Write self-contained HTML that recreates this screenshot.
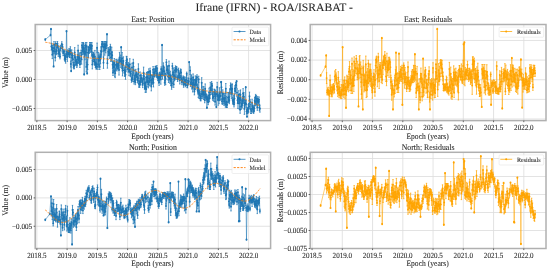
<!DOCTYPE html>
<html><head><meta charset="utf-8"><style>
html,body{margin:0;padding:0;background:#fff;width:550px;height:271px;overflow:hidden}
svg{display:block;will-change:transform}
text{font-family:"Liberation Serif", serif;fill:#262626}
svg text{-webkit-font-smoothing:antialiased;text-rendering:geometricPrecision;stroke:#262626;stroke-width:0.07px}
.tg{opacity:0.999}
.tk{font-size:7.9px}
.st{font-size:8.6px}
.xl{font-size:8.4px}
.lg{font-size:6.5px}
.sup{font-size:11.4px}
</style></head><body>
<svg width="550" height="271" viewBox="0 0 550 271">
<defs><clipPath id="cTL"><rect x="35.2" y="24.5" width="235.40" height="96.10"/></clipPath><clipPath id="cTR"><rect x="310.2" y="24.5" width="235.80" height="96.10"/></clipPath><clipPath id="cBL"><rect x="35.2" y="152.3" width="235.40" height="96.20"/></clipPath><clipPath id="cBR"><rect x="310.2" y="152.3" width="235.80" height="96.20"/></clipPath></defs>
<rect width="550" height="271" fill="#fff"/>
<text x="0" y="0" transform="translate(274.2,11.1) scale(1.022,1)" text-anchor="middle" class="sup">Ifrane (IFRN) - ROA/ISRABAT -</text>
<line x1="36.85" y1="24.5" x2="36.85" y2="120.6" stroke="#dcdcdc" stroke-width="0.8"/>
<line x1="67.10" y1="24.5" x2="67.10" y2="120.6" stroke="#dcdcdc" stroke-width="0.8"/>
<line x1="97.35" y1="24.5" x2="97.35" y2="120.6" stroke="#dcdcdc" stroke-width="0.8"/>
<line x1="127.60" y1="24.5" x2="127.60" y2="120.6" stroke="#dcdcdc" stroke-width="0.8"/>
<line x1="157.85" y1="24.5" x2="157.85" y2="120.6" stroke="#dcdcdc" stroke-width="0.8"/>
<line x1="188.10" y1="24.5" x2="188.10" y2="120.6" stroke="#dcdcdc" stroke-width="0.8"/>
<line x1="218.35" y1="24.5" x2="218.35" y2="120.6" stroke="#dcdcdc" stroke-width="0.8"/>
<line x1="248.60" y1="24.5" x2="248.60" y2="120.6" stroke="#dcdcdc" stroke-width="0.8"/>
<line x1="35.2" y1="50.50" x2="270.6" y2="50.50" stroke="#dcdcdc" stroke-width="0.8"/>
<line x1="35.2" y1="79.50" x2="270.6" y2="79.50" stroke="#dcdcdc" stroke-width="0.8"/>
<line x1="35.2" y1="108.50" x2="270.6" y2="108.50" stroke="#dcdcdc" stroke-width="0.8"/>
<line x1="312.05" y1="24.5" x2="312.05" y2="120.6" stroke="#dcdcdc" stroke-width="0.8"/>
<line x1="342.30" y1="24.5" x2="342.30" y2="120.6" stroke="#dcdcdc" stroke-width="0.8"/>
<line x1="372.55" y1="24.5" x2="372.55" y2="120.6" stroke="#dcdcdc" stroke-width="0.8"/>
<line x1="402.80" y1="24.5" x2="402.80" y2="120.6" stroke="#dcdcdc" stroke-width="0.8"/>
<line x1="433.05" y1="24.5" x2="433.05" y2="120.6" stroke="#dcdcdc" stroke-width="0.8"/>
<line x1="463.30" y1="24.5" x2="463.30" y2="120.6" stroke="#dcdcdc" stroke-width="0.8"/>
<line x1="493.55" y1="24.5" x2="493.55" y2="120.6" stroke="#dcdcdc" stroke-width="0.8"/>
<line x1="523.80" y1="24.5" x2="523.80" y2="120.6" stroke="#dcdcdc" stroke-width="0.8"/>
<line x1="310.2" y1="40.46" x2="546.0" y2="40.46" stroke="#dcdcdc" stroke-width="0.8"/>
<line x1="310.2" y1="60.09" x2="546.0" y2="60.09" stroke="#dcdcdc" stroke-width="0.8"/>
<line x1="310.2" y1="79.72" x2="546.0" y2="79.72" stroke="#dcdcdc" stroke-width="0.8"/>
<line x1="310.2" y1="99.35" x2="546.0" y2="99.35" stroke="#dcdcdc" stroke-width="0.8"/>
<line x1="310.2" y1="118.98" x2="546.0" y2="118.98" stroke="#dcdcdc" stroke-width="0.8"/>
<line x1="36.85" y1="152.3" x2="36.85" y2="248.5" stroke="#dcdcdc" stroke-width="0.8"/>
<line x1="67.10" y1="152.3" x2="67.10" y2="248.5" stroke="#dcdcdc" stroke-width="0.8"/>
<line x1="97.35" y1="152.3" x2="97.35" y2="248.5" stroke="#dcdcdc" stroke-width="0.8"/>
<line x1="127.60" y1="152.3" x2="127.60" y2="248.5" stroke="#dcdcdc" stroke-width="0.8"/>
<line x1="157.85" y1="152.3" x2="157.85" y2="248.5" stroke="#dcdcdc" stroke-width="0.8"/>
<line x1="188.10" y1="152.3" x2="188.10" y2="248.5" stroke="#dcdcdc" stroke-width="0.8"/>
<line x1="218.35" y1="152.3" x2="218.35" y2="248.5" stroke="#dcdcdc" stroke-width="0.8"/>
<line x1="248.60" y1="152.3" x2="248.60" y2="248.5" stroke="#dcdcdc" stroke-width="0.8"/>
<line x1="35.2" y1="169.55" x2="270.6" y2="169.55" stroke="#dcdcdc" stroke-width="0.8"/>
<line x1="35.2" y1="197.90" x2="270.6" y2="197.90" stroke="#dcdcdc" stroke-width="0.8"/>
<line x1="35.2" y1="226.25" x2="270.6" y2="226.25" stroke="#dcdcdc" stroke-width="0.8"/>
<line x1="312.05" y1="152.3" x2="312.05" y2="248.5" stroke="#dcdcdc" stroke-width="0.8"/>
<line x1="342.30" y1="152.3" x2="342.30" y2="248.5" stroke="#dcdcdc" stroke-width="0.8"/>
<line x1="372.55" y1="152.3" x2="372.55" y2="248.5" stroke="#dcdcdc" stroke-width="0.8"/>
<line x1="402.80" y1="152.3" x2="402.80" y2="248.5" stroke="#dcdcdc" stroke-width="0.8"/>
<line x1="433.05" y1="152.3" x2="433.05" y2="248.5" stroke="#dcdcdc" stroke-width="0.8"/>
<line x1="463.30" y1="152.3" x2="463.30" y2="248.5" stroke="#dcdcdc" stroke-width="0.8"/>
<line x1="493.55" y1="152.3" x2="493.55" y2="248.5" stroke="#dcdcdc" stroke-width="0.8"/>
<line x1="523.80" y1="152.3" x2="523.80" y2="248.5" stroke="#dcdcdc" stroke-width="0.8"/>
<line x1="310.2" y1="158.50" x2="546.0" y2="158.50" stroke="#dcdcdc" stroke-width="0.8"/>
<line x1="310.2" y1="176.50" x2="546.0" y2="176.50" stroke="#dcdcdc" stroke-width="0.8"/>
<line x1="310.2" y1="194.50" x2="546.0" y2="194.50" stroke="#dcdcdc" stroke-width="0.8"/>
<line x1="310.2" y1="212.50" x2="546.0" y2="212.50" stroke="#dcdcdc" stroke-width="0.8"/>
<line x1="310.2" y1="230.50" x2="546.0" y2="230.50" stroke="#dcdcdc" stroke-width="0.8"/>
<line x1="310.2" y1="248.50" x2="546.0" y2="248.50" stroke="#dcdcdc" stroke-width="0.8"/>
<g clip-path="url(#cTL)"><path d="M45.3 38.7V40.3M50.5 34.3V35.9M51.0 28.4V29.6M51.4 43.2V49.9M51.9 45.4V49.7M52.3 50.7V58.6M52.7 45.0V50.8M53.2 48.2V53.8M53.6 65.8V67.0M54.0 41.5V47.5M54.4 44.3V52.0M54.9 49.7V53.5M55.3 54.2V60.9M55.7 41.7V45.8M56.2 49.4V53.8M56.6 47.1V54.7M57.0 43.8V47.5M57.5 41.5V46.0M57.9 45.3V48.9M58.3 50.7V56.4M58.8 46.1V52.4M59.2 51.0V54.9M59.6 50.2V57.2M60.0 54.7V58.9M60.5 45.2V50.8M61.8 41.7V46.4M62.2 44.4V52.0M62.6 44.5V49.5M63.1 50.6V55.7M63.9 49.6V53.5M64.4 50.7V59.8M64.8 56.6V60.7M65.2 55.6V61.5M65.6 55.4V63.2M66.1 51.1V56.9M66.5 30.6V31.8M66.9 51.4V57.4M67.4 52.5V61.4M67.8 49.9V54.6M68.2 50.2V54.1M68.7 52.1V56.4M69.1 48.4V55.2M69.5 50.5V57.6M69.9 49.0V57.5M70.4 46.7V54.7M70.8 61.0V67.1M71.2 70.5V71.7M71.7 49.8V55.7M72.1 55.1V60.6M72.5 53.4V57.6M73.0 55.3V63.1M73.4 62.4V67.7M73.8 64.3V68.9M74.3 62.4V68.7M74.7 47.6V57.2M75.1 54.8V60.3M75.5 57.5V65.0M76.0 56.6V65.7M76.4 59.3V64.7M76.8 59.6V67.5M77.3 58.2V66.0M77.7 54.6V59.5M78.1 45.2V55.8M78.6 56.5V63.5M79.0 55.0V62.4M79.4 52.8V62.3M79.9 61.6V67.5M80.3 58.2V64.3M81.1 50.1V55.5M81.6 54.6V64.2M82.0 42.5V48.0M82.4 46.9V54.6M82.9 42.7V52.0M83.3 42.5V53.1M83.7 43.5V54.3M84.2 73.8V75.0M84.6 45.2V56.9M85.0 47.9V59.9M85.5 42.5V47.8M85.9 49.1V55.3M86.3 62.0V71.9M86.7 42.5V50.1M87.2 72.8V74.0M87.6 59.6V69.5M88.0 47.3V57.9M88.5 46.4V57.7M88.9 47.0V53.1M89.3 47.4V53.3M89.8 42.5V47.9M90.2 42.5V47.9M90.6 45.1V52.4M91.1 42.5V47.9M91.5 46.2V56.2M91.9 42.5V49.0M92.3 60.2V68.9M92.8 52.1V57.4M93.2 52.4V61.5M93.6 53.0V59.1M94.1 59.0V64.1M94.5 54.1V65.3M94.9 50.4V62.5M95.4 61.8V67.4M95.8 57.9V68.0M96.2 63.9V69.3M96.7 59.3V68.7M97.1 43.0V52.7M97.9 64.2V69.5M98.4 52.3V64.8M98.8 55.9V65.5M99.2 54.8V61.1M99.7 64.2V69.5M100.1 53.2V60.4M100.5 54.6V63.6M101.0 46.9V55.1M101.4 46.3V57.3M101.8 41.5V46.7M102.2 41.5V46.7M102.7 41.5V46.7M103.1 41.9V51.3M103.5 56.9V68.4M104.0 43.8V50.9M104.4 41.5V46.7M104.8 45.4V55.2M105.3 41.5V47.4M105.7 44.4V52.9M106.1 41.6V46.7M106.6 41.8V48.6M107.0 33.6V34.8M107.4 58.4V68.2M108.3 47.5V55.6M108.7 48.9V55.5M109.1 50.5V55.6M109.6 49.1V58.6M110.0 47.0V53.7M110.4 44.3V49.3M110.9 53.7V61.5M111.3 54.0V61.0M111.7 47.2V57.1M112.2 51.7V58.8M112.6 61.1V68.6M113.0 70.0V75.5M113.4 62.1V71.8M113.9 61.1V67.1M114.3 58.5V67.5M114.7 65.3V76.8M115.2 68.8V77.7M116.0 59.3V70.2M116.5 61.2V68.1M116.9 59.3V71.0M117.3 63.1V69.3M117.8 60.6V68.4M118.2 62.8V68.5M118.6 58.9V67.9M119.0 64.9V75.1M119.5 52.4V62.4M119.9 57.6V62.6M120.8 55.0V67.4M121.2 46.6V47.8M121.6 58.5V68.9M122.1 52.5V64.1M122.5 65.5V75.9M122.9 60.5V68.9M123.4 56.8V65.2M124.2 67.6V73.1M124.6 69.1V76.3M125.1 66.1V76.3M125.5 70.1V79.3M125.9 62.6V71.6M126.4 56.3V64.9M126.8 56.6V62.4M127.2 58.9V69.8M128.1 65.6V72.2M128.5 62.6V68.3M129.0 66.9V75.7M129.4 66.5V72.0M129.8 58.7V69.6M130.2 68.0V76.2M130.7 71.1V76.3M131.5 77.7V82.3M132.0 63.2V71.6M132.4 76.8V81.4M132.8 72.7V77.5M133.3 59.3V66.4M133.7 66.5V73.9M134.1 79.1V84.1M134.5 76.2V81.5M135.0 70.1V80.3M135.4 79.7V84.7M135.8 69.3V79.3M136.3 72.2V77.6M136.7 72.2V76.9M137.1 73.0V80.3M137.6 77.1V83.0M138.0 74.2V81.9M138.4 63.8V73.9M138.9 80.4V87.4M139.3 81.0V86.2M139.7 81.0V87.4M140.1 71.9V78.8M140.6 79.2V85.2M141.0 74.4V82.6M141.4 75.3V80.4M142.3 78.1V84.3M142.7 82.3V87.6M143.2 75.5V83.6M143.6 67.1V78.6M144.0 73.4V79.3M144.5 78.0V89.2M144.9 82.2V89.2M145.3 83.5V92.4M145.7 77.1V87.9M146.2 86.3V92.3M146.6 72.5V82.2M147.0 72.4V81.4M147.5 71.6V82.6M147.9 77.0V86.9M148.3 80.5V87.9M148.8 68.8V75.2M149.2 75.9V81.4M149.6 78.1V85.9M150.1 68.1V74.0M150.5 72.1V78.0M150.9 75.2V85.3M151.3 82.0V90.9M151.8 75.5V83.3M152.2 74.9V84.7M152.6 75.6V83.2M153.1 66.5V72.8M153.5 78.3V87.0M153.9 68.5V76.6M154.4 71.6V77.1M154.8 70.1V76.3M155.2 66.4V72.0M155.7 66.2V71.0M156.1 66.3V76.1M156.5 73.1V77.4M156.9 65.5V70.3M157.4 68.5V78.3M157.8 73.1V80.7M158.2 75.3V80.4M158.7 74.7V83.2M159.1 79.0V85.4M159.5 72.6V80.5M160.0 72.0V77.8M160.4 73.0V78.3M160.8 74.5V84.2M161.2 66.8V71.3M161.7 72.4V76.8M162.1 44.4V45.6M162.5 70.2V79.2M163.0 68.1V74.3M163.4 62.8V69.5M163.8 67.0V75.8M164.3 67.1V75.5M164.7 80.3V85.3M165.1 73.2V80.7M165.6 73.3V84.6M166.4 59.6V64.9M166.8 65.7V75.0M167.3 66.1V72.5M167.7 66.2V73.6M168.1 73.0V80.1M168.6 71.4V82.5M169.0 61.0V70.4M169.4 72.2V79.8M169.9 74.1V83.3M170.3 71.2V79.8M170.7 76.3V85.7M171.2 75.0V82.0M171.6 81.4V89.3M172.0 79.0V87.3M172.4 63.3V68.7M172.9 72.2V77.1M173.3 67.9V76.6M173.7 81.5V87.4M174.2 70.3V80.0M174.6 76.1V80.6M175.0 67.5V73.1M175.5 65.8V72.1M175.9 74.8V79.5M176.3 66.5V71.2M176.8 66.8V72.1M177.6 76.7V81.5M178.0 75.5V79.9M178.5 68.1V72.6M178.9 74.9V79.4M179.3 71.9V75.4M179.8 76.9V84.0M180.2 75.5V79.2M180.6 68.9V73.3M181.1 69.6V75.5M181.5 76.3V82.6M181.9 78.2V84.7M182.4 79.3V83.1M183.2 75.9V79.0M183.6 82.3V87.3M184.1 76.6V81.6M184.5 80.0V84.2M184.9 77.5V84.3M185.4 83.2V86.8M185.8 79.2V84.7M186.2 76.8V82.5M186.7 72.1V75.4M187.1 83.1V87.6M187.5 83.3V87.8M188.0 77.9V83.7M188.4 80.5V84.9M188.8 78.2V84.1M189.2 61.5V62.7M190.1 66.8V74.5M190.5 82.4V86.6M191.0 75.8V82.5M191.4 74.8V81.9M191.8 79.2V89.1M192.3 79.2V87.0M192.7 83.6V92.0M193.1 73.9V80.8M193.5 79.1V86.4M194.0 79.5V89.9M194.4 88.1V94.9M194.8 79.6V90.0M195.3 75.9V83.9M195.7 79.4V89.4M196.1 78.3V86.1M196.6 76.2V85.6M197.0 74.7V79.6M197.4 84.1V90.7M197.9 87.8V94.1M198.3 87.5V97.6M198.7 76.2V82.5M199.1 89.3V98.5M199.6 90.5V95.8M200.0 91.7V99.0M200.4 95.8V100.7M200.9 96.0V100.9M201.3 91.2V96.9M201.7 77.7V88.0M202.2 90.1V98.5M202.6 89.9V97.0M203.0 86.4V94.2M203.5 90.1V99.5M203.9 86.7V95.0M204.3 92.1V97.0M204.7 97.4V102.8M205.2 83.9V93.4M205.6 91.2V98.7M206.0 93.2V100.8M206.5 94.4V99.4M206.9 107.1V108.3M207.3 96.5V101.9M207.8 95.0V101.0M208.2 99.9V104.7M208.6 95.3V101.7M209.1 88.2V96.4M209.5 95.1V101.8M209.9 90.9V98.2M210.3 82.4V92.4M210.8 87.8V92.2M211.2 86.1V94.2M211.6 81.5V86.4M212.1 83.2V88.5M212.5 89.4V99.1M212.9 95.6V100.6M213.8 92.0V101.3M214.2 89.1V94.5M214.7 89.4V96.3M215.1 98.4V105.1M215.5 90.2V98.0M216.4 106.4V107.6M216.8 91.8V96.3M217.2 82.3V91.7M217.7 91.9V99.5M218.1 95.1V105.3M218.5 94.2V99.6M219.0 96.4V103.7M219.4 87.7V98.3M219.8 91.9V100.6M220.7 92.0V99.9M221.1 81.4V82.6M221.5 81.9V92.7M222.0 99.0V103.7M222.4 92.9V104.4M222.8 89.8V97.7M223.3 93.6V104.0M224.1 97.5V105.5M224.6 93.4V103.9M225.0 95.3V100.7M225.4 102.1V107.2M225.8 83.5V93.8M226.3 96.3V107.4M226.7 102.1V107.4M227.1 102.3V107.5M228.0 92.4V102.4M228.4 92.6V101.8M228.9 97.0V102.7M229.3 97.6V103.7M229.7 88.8V96.8M230.6 82.9V88.5M231.0 84.1V94.7M231.4 87.8V98.8M231.9 84.3V93.7M232.3 83.9V93.9M232.7 97.2V103.8M233.2 99.3V104.4M233.6 95.2V104.4M234.0 102.0V107.0M234.5 94.1V103.1M234.9 85.7V91.2M235.3 88.7V93.3M235.8 82.4V87.4M236.2 82.7V87.7M236.6 80.7V81.9M237.0 88.7V96.4M237.5 97.2V103.4M237.9 97.7V108.5M238.3 95.0V101.7M238.8 90.7V99.0M239.2 97.9V109.1M239.6 93.6V102.8M240.1 106.0V113.3M240.5 89.9V99.7M240.9 97.1V103.0M241.4 103.9V109.3M241.8 101.4V106.2M242.2 98.8V108.0M242.6 96.4V105.5M243.1 88.6V97.8M243.5 94.0V103.3M243.9 92.5V101.1M244.4 103.4V114.4M244.8 99.6V107.1M245.2 100.0V105.2M245.7 86.6V87.8M246.1 100.6V107.4M246.5 109.0V113.9M247.0 116.0V117.2M247.4 107.6V113.7M247.8 108.8V113.5M248.2 104.4V112.3M248.7 103.7V112.2M249.1 103.4V109.1M249.5 92.1V100.3M250.0 99.6V104.4M250.8 104.6V113.5M251.3 108.4V113.5M252.1 99.2V106.3M252.6 105.4V112.2M253.0 105.2V109.1M253.4 106.8V113.3M253.8 109.4V113.1M254.3 105.3V111.1M254.7 97.4V103.5M255.1 97.7V105.7M255.6 94.4V98.6M256.0 102.3V105.8M256.4 95.4V101.6M256.9 98.4V103.1M257.3 104.5V110.3M257.7 96.6V100.9M258.1 98.8V105.1M258.6 99.7V103.4M259.0 96.9V102.3M259.4 104.2V110.7M259.9 105.1V112.2" stroke="#1f77b4" stroke-width="0.75" fill="none"/>
<polyline points="45.3,39.5 50.5,35.1 51.0,29.0 51.4,46.5 51.9,47.5 52.3,54.7 52.7,47.9 53.2,51.0 53.6,66.4 54.0,44.5 54.4,48.2 54.9,51.6 55.3,57.5 55.7,43.8 56.2,51.6 56.6,50.9 57.0,45.6 57.5,43.7 57.9,47.1 58.3,53.6 58.8,49.3 59.2,53.0 59.6,53.7 60.0,56.8 60.5,48.0 61.8,44.0 62.2,48.2 62.6,47.0 63.1,53.1 63.9,51.5 64.4,55.2 64.8,58.6 65.2,58.6 65.6,59.3 66.1,54.0 66.5,31.2 66.9,54.4 67.4,57.0 67.8,52.2 68.2,52.1 68.7,54.3 69.1,51.8 69.5,54.1 69.9,53.3 70.4,50.7 70.8,64.0 71.2,71.1 71.7,52.7 72.1,57.8 72.5,55.5 73.0,59.2 73.4,65.0 73.8,66.6 74.3,65.6 74.7,52.4 75.1,57.5 75.5,61.2 76.0,61.2 76.4,62.0 76.8,63.6 77.3,62.1 77.7,57.0 78.1,50.5 78.6,60.0 79.0,58.7 79.4,57.5 79.9,64.5 80.3,61.2 81.1,52.8 81.6,59.4 82.0,45.3 82.4,50.8 82.9,47.3 83.3,47.8 83.7,48.9 84.2,74.4 84.6,51.1 85.0,53.9 85.5,45.2 85.9,52.2 86.3,66.9 86.7,46.3 87.2,73.4 87.6,64.6 88.0,52.6 88.5,52.1 88.9,50.1 89.3,50.3 89.8,45.2 90.2,45.2 90.6,48.8 91.1,45.2 91.5,51.2 91.9,45.7 92.3,64.6 92.8,54.8 93.2,57.0 93.6,56.1 94.1,61.6 94.5,59.7 94.9,56.4 95.4,64.6 95.8,62.9 96.2,66.6 96.7,64.0 97.1,47.8 97.9,66.9 98.4,58.5 98.8,60.7 99.2,58.0 99.7,66.9 100.1,56.8 100.5,59.1 101.0,51.0 101.4,51.8 101.8,44.1 102.2,44.1 102.7,44.1 103.1,46.6 103.5,62.7 104.0,47.3 104.4,44.1 104.8,50.3 105.3,44.5 105.7,48.6 106.1,44.1 106.6,45.2 107.0,34.2 107.4,63.3 108.3,51.6 108.7,52.2 109.1,53.0 109.6,53.8 110.0,50.3 110.4,46.8 110.9,57.6 111.3,57.5 111.7,52.2 112.2,55.3 112.6,64.8 113.0,72.8 113.4,67.0 113.9,64.1 114.3,63.0 114.7,71.0 115.2,73.2 116.0,64.8 116.5,64.7 116.9,65.1 117.3,66.2 117.8,64.5 118.2,65.7 118.6,63.4 119.0,70.0 119.5,57.4 119.9,60.1 120.8,61.2 121.2,47.2 121.6,63.7 122.1,58.3 122.5,70.7 122.9,64.7 123.4,61.0 124.2,70.3 124.6,72.7 125.1,71.2 125.5,74.7 125.9,67.1 126.4,60.6 126.8,59.5 127.2,64.4 128.1,68.9 128.5,65.5 129.0,71.3 129.4,69.3 129.8,64.2 130.2,72.1 130.7,73.7 131.5,80.0 132.0,67.4 132.4,79.1 132.8,75.1 133.3,62.9 133.7,70.2 134.1,81.6 134.5,78.8 135.0,75.2 135.4,82.2 135.8,74.3 136.3,74.9 136.7,74.6 137.1,76.6 137.6,80.1 138.0,78.1 138.4,68.9 138.9,83.9 139.3,83.6 139.7,84.2 140.1,75.4 140.6,82.2 141.0,78.5 141.4,77.8 142.3,81.2 142.7,84.9 143.2,79.5 143.6,72.8 144.0,76.3 144.5,83.6 144.9,85.7 145.3,88.0 145.7,82.5 146.2,89.3 146.6,77.3 147.0,76.9 147.5,77.1 147.9,82.0 148.3,84.2 148.8,72.0 149.2,78.6 149.6,82.0 150.1,71.0 150.5,75.0 150.9,80.3 151.3,86.5 151.8,79.4 152.2,79.8 152.6,79.4 153.1,69.6 153.5,82.7 153.9,72.6 154.4,74.4 154.8,73.2 155.2,69.2 155.7,68.6 156.1,71.2 156.5,75.2 156.9,67.9 157.4,73.4 157.8,76.9 158.2,77.8 158.7,78.9 159.1,82.2 159.5,76.5 160.0,74.9 160.4,75.6 160.8,79.4 161.2,69.0 161.7,74.6 162.1,45.0 162.5,74.7 163.0,71.2 163.4,66.1 163.8,71.4 164.3,71.3 164.7,82.8 165.1,76.9 165.6,78.9 166.4,62.3 166.8,70.3 167.3,69.3 167.7,69.9 168.1,76.5 168.6,77.0 169.0,65.7 169.4,76.0 169.9,78.7 170.3,75.5 170.7,81.0 171.2,78.5 171.6,85.4 172.0,83.2 172.4,66.0 172.9,74.6 173.3,72.2 173.7,84.4 174.2,75.1 174.6,78.3 175.0,70.3 175.5,69.0 175.9,77.2 176.3,68.8 176.8,69.5 177.6,79.1 178.0,77.7 178.5,70.4 178.9,77.2 179.3,73.7 179.8,80.4 180.2,77.3 180.6,71.1 181.1,72.6 181.5,79.5 181.9,81.5 182.4,81.2 183.2,77.4 183.6,84.8 184.1,79.1 184.5,82.1 184.9,80.9 185.4,85.0 185.8,81.9 186.2,79.7 186.7,73.7 187.1,85.3 187.5,85.6 188.0,80.8 188.4,82.7 188.8,81.2 189.2,62.1 190.1,70.6 190.5,84.5 191.0,79.2 191.4,78.4 191.8,84.1 192.3,83.1 192.7,87.8 193.1,77.3 193.5,82.8 194.0,84.7 194.4,91.5 194.8,84.8 195.3,79.9 195.7,84.4 196.1,82.2 196.6,80.9 197.0,77.2 197.4,87.4 197.9,91.0 198.3,92.6 198.7,79.3 199.1,93.9 199.6,93.2 200.0,95.4 200.4,98.3 200.9,98.5 201.3,94.1 201.7,82.8 202.2,94.3 202.6,93.5 203.0,90.3 203.5,94.8 203.9,90.9 204.3,94.6 204.7,100.1 205.2,88.7 205.6,94.9 206.0,97.0 206.5,96.9 206.9,107.7 207.3,99.2 207.8,98.0 208.2,102.3 208.6,98.5 209.1,92.3 209.5,98.5 209.9,94.6 210.3,87.4 210.8,90.0 211.2,90.1 211.6,83.9 212.1,85.8 212.5,94.2 212.9,98.1 213.8,96.6 214.2,91.8 214.7,92.8 215.1,101.7 215.5,94.1 216.4,107.0 216.8,94.0 217.2,87.0 217.7,95.7 218.1,100.2 218.5,96.9 219.0,100.1 219.4,93.0 219.8,96.2 220.7,96.0 221.1,82.0 221.5,87.3 222.0,101.4 222.4,98.7 222.8,93.8 223.3,98.8 224.1,101.5 224.6,98.7 225.0,98.0 225.4,104.6 225.8,88.6 226.3,101.8 226.7,104.8 227.1,104.9 228.0,97.4 228.4,97.2 228.9,99.8 229.3,100.7 229.7,92.8 230.6,85.7 231.0,89.4 231.4,93.3 231.9,89.0 232.3,88.9 232.7,100.5 233.2,101.9 233.6,99.8 234.0,104.5 234.5,98.6 234.9,88.4 235.3,91.0 235.8,84.9 236.2,85.2 236.6,81.3 237.0,92.6 237.5,100.3 237.9,103.1 238.3,98.4 238.8,94.8 239.2,103.5 239.6,98.2 240.1,109.7 240.5,94.8 240.9,100.1 241.4,106.6 241.8,103.8 242.2,103.4 242.6,101.0 243.1,93.2 243.5,98.6 243.9,96.8 244.4,108.9 244.8,103.3 245.2,102.6 245.7,87.2 246.1,104.0 246.5,111.4 247.0,116.6 247.4,110.6 247.8,111.2 248.2,108.4 248.7,107.9 249.1,106.3 249.5,96.2 250.0,102.0 250.8,109.1 251.3,111.0 252.1,102.8 252.6,108.8 253.0,107.1 253.4,110.1 253.8,111.2 254.3,108.2 254.7,100.5 255.1,101.7 255.6,96.5 256.0,104.1 256.4,98.5 256.9,100.8 257.3,107.4 257.7,98.8 258.1,101.9 258.6,101.5 259.0,99.6 259.4,107.5 259.9,108.7" stroke="#1f77b4" stroke-width="0.55" fill="none" stroke-linejoin="round"/>
<path d="M45.3 39.5h0M50.5 35.1h0M51.0 29.0h0M51.4 46.5h0M51.9 47.5h0M52.3 54.7h0M52.7 47.9h0M53.2 51.0h0M53.6 66.4h0M54.0 44.5h0M54.4 48.2h0M54.9 51.6h0M55.3 57.5h0M55.7 43.8h0M56.2 51.6h0M56.6 50.9h0M57.0 45.6h0M57.5 43.7h0M57.9 47.1h0M58.3 53.6h0M58.8 49.3h0M59.2 53.0h0M59.6 53.7h0M60.0 56.8h0M60.5 48.0h0M61.8 44.0h0M62.2 48.2h0M62.6 47.0h0M63.1 53.1h0M63.9 51.5h0M64.4 55.2h0M64.8 58.6h0M65.2 58.6h0M65.6 59.3h0M66.1 54.0h0M66.5 31.2h0M66.9 54.4h0M67.4 57.0h0M67.8 52.2h0M68.2 52.1h0M68.7 54.3h0M69.1 51.8h0M69.5 54.1h0M69.9 53.3h0M70.4 50.7h0M70.8 64.0h0M71.2 71.1h0M71.7 52.7h0M72.1 57.8h0M72.5 55.5h0M73.0 59.2h0M73.4 65.0h0M73.8 66.6h0M74.3 65.6h0M74.7 52.4h0M75.1 57.5h0M75.5 61.2h0M76.0 61.2h0M76.4 62.0h0M76.8 63.6h0M77.3 62.1h0M77.7 57.0h0M78.1 50.5h0M78.6 60.0h0M79.0 58.7h0M79.4 57.5h0M79.9 64.5h0M80.3 61.2h0M81.1 52.8h0M81.6 59.4h0M82.0 45.3h0M82.4 50.8h0M82.9 47.3h0M83.3 47.8h0M83.7 48.9h0M84.2 74.4h0M84.6 51.1h0M85.0 53.9h0M85.5 45.2h0M85.9 52.2h0M86.3 66.9h0M86.7 46.3h0M87.2 73.4h0M87.6 64.6h0M88.0 52.6h0M88.5 52.1h0M88.9 50.1h0M89.3 50.3h0M89.8 45.2h0M90.2 45.2h0M90.6 48.8h0M91.1 45.2h0M91.5 51.2h0M91.9 45.7h0M92.3 64.6h0M92.8 54.8h0M93.2 57.0h0M93.6 56.1h0M94.1 61.6h0M94.5 59.7h0M94.9 56.4h0M95.4 64.6h0M95.8 62.9h0M96.2 66.6h0M96.7 64.0h0M97.1 47.8h0M97.9 66.9h0M98.4 58.5h0M98.8 60.7h0M99.2 58.0h0M99.7 66.9h0M100.1 56.8h0M100.5 59.1h0M101.0 51.0h0M101.4 51.8h0M101.8 44.1h0M102.2 44.1h0M102.7 44.1h0M103.1 46.6h0M103.5 62.7h0M104.0 47.3h0M104.4 44.1h0M104.8 50.3h0M105.3 44.5h0M105.7 48.6h0M106.1 44.1h0M106.6 45.2h0M107.0 34.2h0M107.4 63.3h0M108.3 51.6h0M108.7 52.2h0M109.1 53.0h0M109.6 53.8h0M110.0 50.3h0M110.4 46.8h0M110.9 57.6h0M111.3 57.5h0M111.7 52.2h0M112.2 55.3h0M112.6 64.8h0M113.0 72.8h0M113.4 67.0h0M113.9 64.1h0M114.3 63.0h0M114.7 71.0h0M115.2 73.2h0M116.0 64.8h0M116.5 64.7h0M116.9 65.1h0M117.3 66.2h0M117.8 64.5h0M118.2 65.7h0M118.6 63.4h0M119.0 70.0h0M119.5 57.4h0M119.9 60.1h0M120.8 61.2h0M121.2 47.2h0M121.6 63.7h0M122.1 58.3h0M122.5 70.7h0M122.9 64.7h0M123.4 61.0h0M124.2 70.3h0M124.6 72.7h0M125.1 71.2h0M125.5 74.7h0M125.9 67.1h0M126.4 60.6h0M126.8 59.5h0M127.2 64.4h0M128.1 68.9h0M128.5 65.5h0M129.0 71.3h0M129.4 69.3h0M129.8 64.2h0M130.2 72.1h0M130.7 73.7h0M131.5 80.0h0M132.0 67.4h0M132.4 79.1h0M132.8 75.1h0M133.3 62.9h0M133.7 70.2h0M134.1 81.6h0M134.5 78.8h0M135.0 75.2h0M135.4 82.2h0M135.8 74.3h0M136.3 74.9h0M136.7 74.6h0M137.1 76.6h0M137.6 80.1h0M138.0 78.1h0M138.4 68.9h0M138.9 83.9h0M139.3 83.6h0M139.7 84.2h0M140.1 75.4h0M140.6 82.2h0M141.0 78.5h0M141.4 77.8h0M142.3 81.2h0M142.7 84.9h0M143.2 79.5h0M143.6 72.8h0M144.0 76.3h0M144.5 83.6h0M144.9 85.7h0M145.3 88.0h0M145.7 82.5h0M146.2 89.3h0M146.6 77.3h0M147.0 76.9h0M147.5 77.1h0M147.9 82.0h0M148.3 84.2h0M148.8 72.0h0M149.2 78.6h0M149.6 82.0h0M150.1 71.0h0M150.5 75.0h0M150.9 80.3h0M151.3 86.5h0M151.8 79.4h0M152.2 79.8h0M152.6 79.4h0M153.1 69.6h0M153.5 82.7h0M153.9 72.6h0M154.4 74.4h0M154.8 73.2h0M155.2 69.2h0M155.7 68.6h0M156.1 71.2h0M156.5 75.2h0M156.9 67.9h0M157.4 73.4h0M157.8 76.9h0M158.2 77.8h0M158.7 78.9h0M159.1 82.2h0M159.5 76.5h0M160.0 74.9h0M160.4 75.6h0M160.8 79.4h0M161.2 69.0h0M161.7 74.6h0M162.1 45.0h0M162.5 74.7h0M163.0 71.2h0M163.4 66.1h0M163.8 71.4h0M164.3 71.3h0M164.7 82.8h0M165.1 76.9h0M165.6 78.9h0M166.4 62.3h0M166.8 70.3h0M167.3 69.3h0M167.7 69.9h0M168.1 76.5h0M168.6 77.0h0M169.0 65.7h0M169.4 76.0h0M169.9 78.7h0M170.3 75.5h0M170.7 81.0h0M171.2 78.5h0M171.6 85.4h0M172.0 83.2h0M172.4 66.0h0M172.9 74.6h0M173.3 72.2h0M173.7 84.4h0M174.2 75.1h0M174.6 78.3h0M175.0 70.3h0M175.5 69.0h0M175.9 77.2h0M176.3 68.8h0M176.8 69.5h0M177.6 79.1h0M178.0 77.7h0M178.5 70.4h0M178.9 77.2h0M179.3 73.7h0M179.8 80.4h0M180.2 77.3h0M180.6 71.1h0M181.1 72.6h0M181.5 79.5h0M181.9 81.5h0M182.4 81.2h0M183.2 77.4h0M183.6 84.8h0M184.1 79.1h0M184.5 82.1h0M184.9 80.9h0M185.4 85.0h0M185.8 81.9h0M186.2 79.7h0M186.7 73.7h0M187.1 85.3h0M187.5 85.6h0M188.0 80.8h0M188.4 82.7h0M188.8 81.2h0M189.2 62.1h0M190.1 70.6h0M190.5 84.5h0M191.0 79.2h0M191.4 78.4h0M191.8 84.1h0M192.3 83.1h0M192.7 87.8h0M193.1 77.3h0M193.5 82.8h0M194.0 84.7h0M194.4 91.5h0M194.8 84.8h0M195.3 79.9h0M195.7 84.4h0M196.1 82.2h0M196.6 80.9h0M197.0 77.2h0M197.4 87.4h0M197.9 91.0h0M198.3 92.6h0M198.7 79.3h0M199.1 93.9h0M199.6 93.2h0M200.0 95.4h0M200.4 98.3h0M200.9 98.5h0M201.3 94.1h0M201.7 82.8h0M202.2 94.3h0M202.6 93.5h0M203.0 90.3h0M203.5 94.8h0M203.9 90.9h0M204.3 94.6h0M204.7 100.1h0M205.2 88.7h0M205.6 94.9h0M206.0 97.0h0M206.5 96.9h0M206.9 107.7h0M207.3 99.2h0M207.8 98.0h0M208.2 102.3h0M208.6 98.5h0M209.1 92.3h0M209.5 98.5h0M209.9 94.6h0M210.3 87.4h0M210.8 90.0h0M211.2 90.1h0M211.6 83.9h0M212.1 85.8h0M212.5 94.2h0M212.9 98.1h0M213.8 96.6h0M214.2 91.8h0M214.7 92.8h0M215.1 101.7h0M215.5 94.1h0M216.4 107.0h0M216.8 94.0h0M217.2 87.0h0M217.7 95.7h0M218.1 100.2h0M218.5 96.9h0M219.0 100.1h0M219.4 93.0h0M219.8 96.2h0M220.7 96.0h0M221.1 82.0h0M221.5 87.3h0M222.0 101.4h0M222.4 98.7h0M222.8 93.8h0M223.3 98.8h0M224.1 101.5h0M224.6 98.7h0M225.0 98.0h0M225.4 104.6h0M225.8 88.6h0M226.3 101.8h0M226.7 104.8h0M227.1 104.9h0M228.0 97.4h0M228.4 97.2h0M228.9 99.8h0M229.3 100.7h0M229.7 92.8h0M230.6 85.7h0M231.0 89.4h0M231.4 93.3h0M231.9 89.0h0M232.3 88.9h0M232.7 100.5h0M233.2 101.9h0M233.6 99.8h0M234.0 104.5h0M234.5 98.6h0M234.9 88.4h0M235.3 91.0h0M235.8 84.9h0M236.2 85.2h0M236.6 81.3h0M237.0 92.6h0M237.5 100.3h0M237.9 103.1h0M238.3 98.4h0M238.8 94.8h0M239.2 103.5h0M239.6 98.2h0M240.1 109.7h0M240.5 94.8h0M240.9 100.1h0M241.4 106.6h0M241.8 103.8h0M242.2 103.4h0M242.6 101.0h0M243.1 93.2h0M243.5 98.6h0M243.9 96.8h0M244.4 108.9h0M244.8 103.3h0M245.2 102.6h0M245.7 87.2h0M246.1 104.0h0M246.5 111.4h0M247.0 116.6h0M247.4 110.6h0M247.8 111.2h0M248.2 108.4h0M248.7 107.9h0M249.1 106.3h0M249.5 96.2h0M250.0 102.0h0M250.8 109.1h0M251.3 111.0h0M252.1 102.8h0M252.6 108.8h0M253.0 107.1h0M253.4 110.1h0M253.8 111.2h0M254.3 108.2h0M254.7 100.5h0M255.1 101.7h0M255.6 96.5h0M256.0 104.1h0M256.4 98.5h0M256.9 100.8h0M257.3 107.4h0M257.7 98.8h0M258.1 101.9h0M258.6 101.5h0M259.0 99.6h0M259.4 107.5h0M259.9 108.7h0" stroke="#1f77b4" stroke-width="1.9" stroke-linecap="round" fill="none"/>
<path d="M44.6 38.7h1.4M44.6 40.3h1.4M49.8 34.3h1.4M49.8 35.9h1.4M50.3 28.4h1.4M50.3 29.6h1.4M50.7 43.2h1.4M50.7 49.9h1.4M51.2 45.4h1.4M51.2 49.7h1.4M51.6 50.7h1.4M51.6 58.6h1.4M52.0 45.0h1.4M52.0 50.8h1.4M52.5 48.2h1.4M52.5 53.8h1.4M52.9 65.8h1.4M52.9 67.0h1.4M53.3 41.5h1.4M53.3 47.5h1.4M53.7 44.3h1.4M53.7 52.0h1.4M54.2 49.7h1.4M54.2 53.5h1.4M54.6 54.2h1.4M54.6 60.9h1.4M55.0 41.7h1.4M55.0 45.8h1.4M55.5 49.4h1.4M55.5 53.8h1.4M55.9 47.1h1.4M55.9 54.7h1.4M56.3 43.8h1.4M56.3 47.5h1.4M56.8 41.5h1.4M56.8 46.0h1.4M57.2 45.3h1.4M57.2 48.9h1.4M57.6 50.7h1.4M57.6 56.4h1.4M58.1 46.1h1.4M58.1 52.4h1.4M58.5 51.0h1.4M58.5 54.9h1.4M58.9 50.2h1.4M58.9 57.2h1.4M59.3 54.7h1.4M59.3 58.9h1.4M59.8 45.2h1.4M59.8 50.8h1.4M61.1 41.7h1.4M61.1 46.4h1.4M61.5 44.4h1.4M61.5 52.0h1.4M61.9 44.5h1.4M61.9 49.5h1.4M62.4 50.6h1.4M62.4 55.7h1.4M63.2 49.6h1.4M63.2 53.5h1.4M63.7 50.7h1.4M63.7 59.8h1.4M64.1 56.6h1.4M64.1 60.7h1.4M64.5 55.6h1.4M64.5 61.5h1.4M64.9 55.4h1.4M64.9 63.2h1.4M65.4 51.1h1.4M65.4 56.9h1.4M65.8 30.6h1.4M65.8 31.8h1.4M66.2 51.4h1.4M66.2 57.4h1.4M66.7 52.5h1.4M66.7 61.4h1.4M67.1 49.9h1.4M67.1 54.6h1.4M67.5 50.2h1.4M67.5 54.1h1.4M68.0 52.1h1.4M68.0 56.4h1.4M68.4 48.4h1.4M68.4 55.2h1.4M68.8 50.5h1.4M68.8 57.6h1.4M69.2 49.0h1.4M69.2 57.5h1.4M69.7 46.7h1.4M69.7 54.7h1.4M70.1 61.0h1.4M70.1 67.1h1.4M70.5 70.5h1.4M70.5 71.7h1.4M71.0 49.8h1.4M71.0 55.7h1.4M71.4 55.1h1.4M71.4 60.6h1.4M71.8 53.4h1.4M71.8 57.6h1.4M72.3 55.3h1.4M72.3 63.1h1.4M72.7 62.4h1.4M72.7 67.7h1.4M73.1 64.3h1.4M73.1 68.9h1.4M73.6 62.4h1.4M73.6 68.7h1.4M74.0 47.6h1.4M74.0 57.2h1.4M74.4 54.8h1.4M74.4 60.3h1.4M74.8 57.5h1.4M74.8 65.0h1.4M75.3 56.6h1.4M75.3 65.7h1.4M75.7 59.3h1.4M75.7 64.7h1.4M76.1 59.6h1.4M76.1 67.5h1.4M76.6 58.2h1.4M76.6 66.0h1.4M77.0 54.6h1.4M77.0 59.5h1.4M77.4 45.2h1.4M77.4 55.8h1.4M77.9 56.5h1.4M77.9 63.5h1.4M78.3 55.0h1.4M78.3 62.4h1.4M78.7 52.8h1.4M78.7 62.3h1.4M79.2 61.6h1.4M79.2 67.5h1.4M79.6 58.2h1.4M79.6 64.3h1.4M80.4 50.1h1.4M80.4 55.5h1.4M80.9 54.6h1.4M80.9 64.2h1.4M81.3 42.5h1.4M81.3 48.0h1.4M81.7 46.9h1.4M81.7 54.6h1.4M82.2 42.7h1.4M82.2 52.0h1.4M82.6 42.5h1.4M82.6 53.1h1.4M83.0 43.5h1.4M83.0 54.3h1.4M83.5 73.8h1.4M83.5 75.0h1.4M83.9 45.2h1.4M83.9 56.9h1.4M84.3 47.9h1.4M84.3 59.9h1.4M84.8 42.5h1.4M84.8 47.8h1.4M85.2 49.1h1.4M85.2 55.3h1.4M85.6 62.0h1.4M85.6 71.9h1.4M86.0 42.5h1.4M86.0 50.1h1.4M86.5 72.8h1.4M86.5 74.0h1.4M86.9 59.6h1.4M86.9 69.5h1.4M87.3 47.3h1.4M87.3 57.9h1.4M87.8 46.4h1.4M87.8 57.7h1.4M88.2 47.0h1.4M88.2 53.1h1.4M88.6 47.4h1.4M88.6 53.3h1.4M89.1 42.5h1.4M89.1 47.9h1.4M89.5 42.5h1.4M89.5 47.9h1.4M89.9 45.1h1.4M89.9 52.4h1.4M90.4 42.5h1.4M90.4 47.9h1.4M90.8 46.2h1.4M90.8 56.2h1.4M91.2 42.5h1.4M91.2 49.0h1.4M91.6 60.2h1.4M91.6 68.9h1.4M92.1 52.1h1.4M92.1 57.4h1.4M92.5 52.4h1.4M92.5 61.5h1.4M92.9 53.0h1.4M92.9 59.1h1.4M93.4 59.0h1.4M93.4 64.1h1.4M93.8 54.1h1.4M93.8 65.3h1.4M94.2 50.4h1.4M94.2 62.5h1.4M94.7 61.8h1.4M94.7 67.4h1.4M95.1 57.9h1.4M95.1 68.0h1.4M95.5 63.9h1.4M95.5 69.3h1.4M96.0 59.3h1.4M96.0 68.7h1.4M96.4 43.0h1.4M96.4 52.7h1.4M97.2 64.2h1.4M97.2 69.5h1.4M97.7 52.3h1.4M97.7 64.8h1.4M98.1 55.9h1.4M98.1 65.5h1.4M98.5 54.8h1.4M98.5 61.1h1.4M99.0 64.2h1.4M99.0 69.5h1.4M99.4 53.2h1.4M99.4 60.4h1.4M99.8 54.6h1.4M99.8 63.6h1.4M100.3 46.9h1.4M100.3 55.1h1.4M100.7 46.3h1.4M100.7 57.3h1.4M101.1 41.5h1.4M101.1 46.7h1.4M101.5 41.5h1.4M101.5 46.7h1.4M102.0 41.5h1.4M102.0 46.7h1.4M102.4 41.9h1.4M102.4 51.3h1.4M102.8 56.9h1.4M102.8 68.4h1.4M103.3 43.8h1.4M103.3 50.9h1.4M103.7 41.5h1.4M103.7 46.7h1.4M104.1 45.4h1.4M104.1 55.2h1.4M104.6 41.5h1.4M104.6 47.4h1.4M105.0 44.4h1.4M105.0 52.9h1.4M105.4 41.6h1.4M105.4 46.7h1.4M105.9 41.8h1.4M105.9 48.6h1.4M106.3 33.6h1.4M106.3 34.8h1.4M106.7 58.4h1.4M106.7 68.2h1.4M107.6 47.5h1.4M107.6 55.6h1.4M108.0 48.9h1.4M108.0 55.5h1.4M108.4 50.5h1.4M108.4 55.6h1.4M108.9 49.1h1.4M108.9 58.6h1.4M109.3 47.0h1.4M109.3 53.7h1.4M109.7 44.3h1.4M109.7 49.3h1.4M110.2 53.7h1.4M110.2 61.5h1.4M110.6 54.0h1.4M110.6 61.0h1.4M111.0 47.2h1.4M111.0 57.1h1.4M111.5 51.7h1.4M111.5 58.8h1.4M111.9 61.1h1.4M111.9 68.6h1.4M112.3 70.0h1.4M112.3 75.5h1.4M112.7 62.1h1.4M112.7 71.8h1.4M113.2 61.1h1.4M113.2 67.1h1.4M113.6 58.5h1.4M113.6 67.5h1.4M114.0 65.3h1.4M114.0 76.8h1.4M114.5 68.8h1.4M114.5 77.7h1.4M115.3 59.3h1.4M115.3 70.2h1.4M115.8 61.2h1.4M115.8 68.1h1.4M116.2 59.3h1.4M116.2 71.0h1.4M116.6 63.1h1.4M116.6 69.3h1.4M117.1 60.6h1.4M117.1 68.4h1.4M117.5 62.8h1.4M117.5 68.5h1.4M117.9 58.9h1.4M117.9 67.9h1.4M118.3 64.9h1.4M118.3 75.1h1.4M118.8 52.4h1.4M118.8 62.4h1.4M119.2 57.6h1.4M119.2 62.6h1.4M120.1 55.0h1.4M120.1 67.4h1.4M120.5 46.6h1.4M120.5 47.8h1.4M120.9 58.5h1.4M120.9 68.9h1.4M121.4 52.5h1.4M121.4 64.1h1.4M121.8 65.5h1.4M121.8 75.9h1.4M122.2 60.5h1.4M122.2 68.9h1.4M122.7 56.8h1.4M122.7 65.2h1.4M123.5 67.6h1.4M123.5 73.1h1.4M123.9 69.1h1.4M123.9 76.3h1.4M124.4 66.1h1.4M124.4 76.3h1.4M124.8 70.1h1.4M124.8 79.3h1.4M125.2 62.6h1.4M125.2 71.6h1.4M125.7 56.3h1.4M125.7 64.9h1.4M126.1 56.6h1.4M126.1 62.4h1.4M126.5 58.9h1.4M126.5 69.8h1.4M127.4 65.6h1.4M127.4 72.2h1.4M127.8 62.6h1.4M127.8 68.3h1.4M128.3 66.9h1.4M128.3 75.7h1.4M128.7 66.5h1.4M128.7 72.0h1.4M129.1 58.7h1.4M129.1 69.6h1.4M129.5 68.0h1.4M129.5 76.2h1.4M130.0 71.1h1.4M130.0 76.3h1.4M130.8 77.7h1.4M130.8 82.3h1.4M131.3 63.2h1.4M131.3 71.6h1.4M131.7 76.8h1.4M131.7 81.4h1.4M132.1 72.7h1.4M132.1 77.5h1.4M132.6 59.3h1.4M132.6 66.4h1.4M133.0 66.5h1.4M133.0 73.9h1.4M133.4 79.1h1.4M133.4 84.1h1.4M133.8 76.2h1.4M133.8 81.5h1.4M134.3 70.1h1.4M134.3 80.3h1.4M134.7 79.7h1.4M134.7 84.7h1.4M135.1 69.3h1.4M135.1 79.3h1.4M135.6 72.2h1.4M135.6 77.6h1.4M136.0 72.2h1.4M136.0 76.9h1.4M136.4 73.0h1.4M136.4 80.3h1.4M136.9 77.1h1.4M136.9 83.0h1.4M137.3 74.2h1.4M137.3 81.9h1.4M137.7 63.8h1.4M137.7 73.9h1.4M138.2 80.4h1.4M138.2 87.4h1.4M138.6 81.0h1.4M138.6 86.2h1.4M139.0 81.0h1.4M139.0 87.4h1.4M139.4 71.9h1.4M139.4 78.8h1.4M139.9 79.2h1.4M139.9 85.2h1.4M140.3 74.4h1.4M140.3 82.6h1.4M140.7 75.3h1.4M140.7 80.4h1.4M141.6 78.1h1.4M141.6 84.3h1.4M142.0 82.3h1.4M142.0 87.6h1.4M142.5 75.5h1.4M142.5 83.6h1.4M142.9 67.1h1.4M142.9 78.6h1.4M143.3 73.4h1.4M143.3 79.3h1.4M143.8 78.0h1.4M143.8 89.2h1.4M144.2 82.2h1.4M144.2 89.2h1.4M144.6 83.5h1.4M144.6 92.4h1.4M145.0 77.1h1.4M145.0 87.9h1.4M145.5 86.3h1.4M145.5 92.3h1.4M145.9 72.5h1.4M145.9 82.2h1.4M146.3 72.4h1.4M146.3 81.4h1.4M146.8 71.6h1.4M146.8 82.6h1.4M147.2 77.0h1.4M147.2 86.9h1.4M147.6 80.5h1.4M147.6 87.9h1.4M148.1 68.8h1.4M148.1 75.2h1.4M148.5 75.9h1.4M148.5 81.4h1.4M148.9 78.1h1.4M148.9 85.9h1.4M149.4 68.1h1.4M149.4 74.0h1.4M149.8 72.1h1.4M149.8 78.0h1.4M150.2 75.2h1.4M150.2 85.3h1.4M150.6 82.0h1.4M150.6 90.9h1.4M151.1 75.5h1.4M151.1 83.3h1.4M151.5 74.9h1.4M151.5 84.7h1.4M151.9 75.6h1.4M151.9 83.2h1.4M152.4 66.5h1.4M152.4 72.8h1.4M152.8 78.3h1.4M152.8 87.0h1.4M153.2 68.5h1.4M153.2 76.6h1.4M153.7 71.6h1.4M153.7 77.1h1.4M154.1 70.1h1.4M154.1 76.3h1.4M154.5 66.4h1.4M154.5 72.0h1.4M155.0 66.2h1.4M155.0 71.0h1.4M155.4 66.3h1.4M155.4 76.1h1.4M155.8 73.1h1.4M155.8 77.4h1.4M156.2 65.5h1.4M156.2 70.3h1.4M156.7 68.5h1.4M156.7 78.3h1.4M157.1 73.1h1.4M157.1 80.7h1.4M157.5 75.3h1.4M157.5 80.4h1.4M158.0 74.7h1.4M158.0 83.2h1.4M158.4 79.0h1.4M158.4 85.4h1.4M158.8 72.6h1.4M158.8 80.5h1.4M159.3 72.0h1.4M159.3 77.8h1.4M159.7 73.0h1.4M159.7 78.3h1.4M160.1 74.5h1.4M160.1 84.2h1.4M160.5 66.8h1.4M160.5 71.3h1.4M161.0 72.4h1.4M161.0 76.8h1.4M161.4 44.4h1.4M161.4 45.6h1.4M161.8 70.2h1.4M161.8 79.2h1.4M162.3 68.1h1.4M162.3 74.3h1.4M162.7 62.8h1.4M162.7 69.5h1.4M163.1 67.0h1.4M163.1 75.8h1.4M163.6 67.1h1.4M163.6 75.5h1.4M164.0 80.3h1.4M164.0 85.3h1.4M164.4 73.2h1.4M164.4 80.7h1.4M164.9 73.3h1.4M164.9 84.6h1.4M165.7 59.6h1.4M165.7 64.9h1.4M166.1 65.7h1.4M166.1 75.0h1.4M166.6 66.1h1.4M166.6 72.5h1.4M167.0 66.2h1.4M167.0 73.6h1.4M167.4 73.0h1.4M167.4 80.1h1.4M167.9 71.4h1.4M167.9 82.5h1.4M168.3 61.0h1.4M168.3 70.4h1.4M168.7 72.2h1.4M168.7 79.8h1.4M169.2 74.1h1.4M169.2 83.3h1.4M169.6 71.2h1.4M169.6 79.8h1.4M170.0 76.3h1.4M170.0 85.7h1.4M170.5 75.0h1.4M170.5 82.0h1.4M170.9 81.4h1.4M170.9 89.3h1.4M171.3 79.0h1.4M171.3 87.3h1.4M171.7 63.3h1.4M171.7 68.7h1.4M172.2 72.2h1.4M172.2 77.1h1.4M172.6 67.9h1.4M172.6 76.6h1.4M173.0 81.5h1.4M173.0 87.4h1.4M173.5 70.3h1.4M173.5 80.0h1.4M173.9 76.1h1.4M173.9 80.6h1.4M174.3 67.5h1.4M174.3 73.1h1.4M174.8 65.8h1.4M174.8 72.1h1.4M175.2 74.8h1.4M175.2 79.5h1.4M175.6 66.5h1.4M175.6 71.2h1.4M176.1 66.8h1.4M176.1 72.1h1.4M176.9 76.7h1.4M176.9 81.5h1.4M177.3 75.5h1.4M177.3 79.9h1.4M177.8 68.1h1.4M177.8 72.6h1.4M178.2 74.9h1.4M178.2 79.4h1.4M178.6 71.9h1.4M178.6 75.4h1.4M179.1 76.9h1.4M179.1 84.0h1.4M179.5 75.5h1.4M179.5 79.2h1.4M179.9 68.9h1.4M179.9 73.3h1.4M180.4 69.6h1.4M180.4 75.5h1.4M180.8 76.3h1.4M180.8 82.6h1.4M181.2 78.2h1.4M181.2 84.7h1.4M181.7 79.3h1.4M181.7 83.1h1.4M182.5 75.9h1.4M182.5 79.0h1.4M182.9 82.3h1.4M182.9 87.3h1.4M183.4 76.6h1.4M183.4 81.6h1.4M183.8 80.0h1.4M183.8 84.2h1.4M184.2 77.5h1.4M184.2 84.3h1.4M184.7 83.2h1.4M184.7 86.8h1.4M185.1 79.2h1.4M185.1 84.7h1.4M185.5 76.8h1.4M185.5 82.5h1.4M186.0 72.1h1.4M186.0 75.4h1.4M186.4 83.1h1.4M186.4 87.6h1.4M186.8 83.3h1.4M186.8 87.8h1.4M187.3 77.9h1.4M187.3 83.7h1.4M187.7 80.5h1.4M187.7 84.9h1.4M188.1 78.2h1.4M188.1 84.1h1.4M188.5 61.5h1.4M188.5 62.7h1.4M189.4 66.8h1.4M189.4 74.5h1.4M189.8 82.4h1.4M189.8 86.6h1.4M190.3 75.8h1.4M190.3 82.5h1.4M190.7 74.8h1.4M190.7 81.9h1.4M191.1 79.2h1.4M191.1 89.1h1.4M191.6 79.2h1.4M191.6 87.0h1.4M192.0 83.6h1.4M192.0 92.0h1.4M192.4 73.9h1.4M192.4 80.8h1.4M192.8 79.1h1.4M192.8 86.4h1.4M193.3 79.5h1.4M193.3 89.9h1.4M193.7 88.1h1.4M193.7 94.9h1.4M194.1 79.6h1.4M194.1 90.0h1.4M194.6 75.9h1.4M194.6 83.9h1.4M195.0 79.4h1.4M195.0 89.4h1.4M195.4 78.3h1.4M195.4 86.1h1.4M195.9 76.2h1.4M195.9 85.6h1.4M196.3 74.7h1.4M196.3 79.6h1.4M196.7 84.1h1.4M196.7 90.7h1.4M197.2 87.8h1.4M197.2 94.1h1.4M197.6 87.5h1.4M197.6 97.6h1.4M198.0 76.2h1.4M198.0 82.5h1.4M198.4 89.3h1.4M198.4 98.5h1.4M198.9 90.5h1.4M198.9 95.8h1.4M199.3 91.7h1.4M199.3 99.0h1.4M199.7 95.8h1.4M199.7 100.7h1.4M200.2 96.0h1.4M200.2 100.9h1.4M200.6 91.2h1.4M200.6 96.9h1.4M201.0 77.7h1.4M201.0 88.0h1.4M201.5 90.1h1.4M201.5 98.5h1.4M201.9 89.9h1.4M201.9 97.0h1.4M202.3 86.4h1.4M202.3 94.2h1.4M202.8 90.1h1.4M202.8 99.5h1.4M203.2 86.7h1.4M203.2 95.0h1.4M203.6 92.1h1.4M203.6 97.0h1.4M204.0 97.4h1.4M204.0 102.8h1.4M204.5 83.9h1.4M204.5 93.4h1.4M204.9 91.2h1.4M204.9 98.7h1.4M205.3 93.2h1.4M205.3 100.8h1.4M205.8 94.4h1.4M205.8 99.4h1.4M206.2 107.1h1.4M206.2 108.3h1.4M206.6 96.5h1.4M206.6 101.9h1.4M207.1 95.0h1.4M207.1 101.0h1.4M207.5 99.9h1.4M207.5 104.7h1.4M207.9 95.3h1.4M207.9 101.7h1.4M208.4 88.2h1.4M208.4 96.4h1.4M208.8 95.1h1.4M208.8 101.8h1.4M209.2 90.9h1.4M209.2 98.2h1.4M209.6 82.4h1.4M209.6 92.4h1.4M210.1 87.8h1.4M210.1 92.2h1.4M210.5 86.1h1.4M210.5 94.2h1.4M210.9 81.5h1.4M210.9 86.4h1.4M211.4 83.2h1.4M211.4 88.5h1.4M211.8 89.4h1.4M211.8 99.1h1.4M212.2 95.6h1.4M212.2 100.6h1.4M213.1 92.0h1.4M213.1 101.3h1.4M213.5 89.1h1.4M213.5 94.5h1.4M214.0 89.4h1.4M214.0 96.3h1.4M214.4 98.4h1.4M214.4 105.1h1.4M214.8 90.2h1.4M214.8 98.0h1.4M215.7 106.4h1.4M215.7 107.6h1.4M216.1 91.8h1.4M216.1 96.3h1.4M216.5 82.3h1.4M216.5 91.7h1.4M217.0 91.9h1.4M217.0 99.5h1.4M217.4 95.1h1.4M217.4 105.3h1.4M217.8 94.2h1.4M217.8 99.6h1.4M218.3 96.4h1.4M218.3 103.7h1.4M218.7 87.7h1.4M218.7 98.3h1.4M219.1 91.9h1.4M219.1 100.6h1.4M220.0 92.0h1.4M220.0 99.9h1.4M220.4 81.4h1.4M220.4 82.6h1.4M220.8 81.9h1.4M220.8 92.7h1.4M221.3 99.0h1.4M221.3 103.7h1.4M221.7 92.9h1.4M221.7 104.4h1.4M222.1 89.8h1.4M222.1 97.7h1.4M222.6 93.6h1.4M222.6 104.0h1.4M223.4 97.5h1.4M223.4 105.5h1.4M223.9 93.4h1.4M223.9 103.9h1.4M224.3 95.3h1.4M224.3 100.7h1.4M224.7 102.1h1.4M224.7 107.2h1.4M225.1 83.5h1.4M225.1 93.8h1.4M225.6 96.3h1.4M225.6 107.4h1.4M226.0 102.1h1.4M226.0 107.4h1.4M226.4 102.3h1.4M226.4 107.5h1.4M227.3 92.4h1.4M227.3 102.4h1.4M227.7 92.6h1.4M227.7 101.8h1.4M228.2 97.0h1.4M228.2 102.7h1.4M228.6 97.6h1.4M228.6 103.7h1.4M229.0 88.8h1.4M229.0 96.8h1.4M229.9 82.9h1.4M229.9 88.5h1.4M230.3 84.1h1.4M230.3 94.7h1.4M230.7 87.8h1.4M230.7 98.8h1.4M231.2 84.3h1.4M231.2 93.7h1.4M231.6 83.9h1.4M231.6 93.9h1.4M232.0 97.2h1.4M232.0 103.8h1.4M232.5 99.3h1.4M232.5 104.4h1.4M232.9 95.2h1.4M232.9 104.4h1.4M233.3 102.0h1.4M233.3 107.0h1.4M233.8 94.1h1.4M233.8 103.1h1.4M234.2 85.7h1.4M234.2 91.2h1.4M234.6 88.7h1.4M234.6 93.3h1.4M235.1 82.4h1.4M235.1 87.4h1.4M235.5 82.7h1.4M235.5 87.7h1.4M235.9 80.7h1.4M235.9 81.9h1.4M236.3 88.7h1.4M236.3 96.4h1.4M236.8 97.2h1.4M236.8 103.4h1.4M237.2 97.7h1.4M237.2 108.5h1.4M237.6 95.0h1.4M237.6 101.7h1.4M238.1 90.7h1.4M238.1 99.0h1.4M238.5 97.9h1.4M238.5 109.1h1.4M238.9 93.6h1.4M238.9 102.8h1.4M239.4 106.0h1.4M239.4 113.3h1.4M239.8 89.9h1.4M239.8 99.7h1.4M240.2 97.1h1.4M240.2 103.0h1.4M240.7 103.9h1.4M240.7 109.3h1.4M241.1 101.4h1.4M241.1 106.2h1.4M241.5 98.8h1.4M241.5 108.0h1.4M241.9 96.4h1.4M241.9 105.5h1.4M242.4 88.6h1.4M242.4 97.8h1.4M242.8 94.0h1.4M242.8 103.3h1.4M243.2 92.5h1.4M243.2 101.1h1.4M243.7 103.4h1.4M243.7 114.4h1.4M244.1 99.6h1.4M244.1 107.1h1.4M244.5 100.0h1.4M244.5 105.2h1.4M245.0 86.6h1.4M245.0 87.8h1.4M245.4 100.6h1.4M245.4 107.4h1.4M245.8 109.0h1.4M245.8 113.9h1.4M246.3 116.0h1.4M246.3 117.2h1.4M246.7 107.6h1.4M246.7 113.7h1.4M247.1 108.8h1.4M247.1 113.5h1.4M247.5 104.4h1.4M247.5 112.3h1.4M248.0 103.7h1.4M248.0 112.2h1.4M248.4 103.4h1.4M248.4 109.1h1.4M248.8 92.1h1.4M248.8 100.3h1.4M249.3 99.6h1.4M249.3 104.4h1.4M250.1 104.6h1.4M250.1 113.5h1.4M250.6 108.4h1.4M250.6 113.5h1.4M251.4 99.2h1.4M251.4 106.3h1.4M251.9 105.4h1.4M251.9 112.2h1.4M252.3 105.2h1.4M252.3 109.1h1.4M252.7 106.8h1.4M252.7 113.3h1.4M253.1 109.4h1.4M253.1 113.1h1.4M253.6 105.3h1.4M253.6 111.1h1.4M254.0 97.4h1.4M254.0 103.5h1.4M254.4 97.7h1.4M254.4 105.7h1.4M254.9 94.4h1.4M254.9 98.6h1.4M255.3 102.3h1.4M255.3 105.8h1.4M255.7 95.4h1.4M255.7 101.6h1.4M256.2 98.4h1.4M256.2 103.1h1.4M256.6 104.5h1.4M256.6 110.3h1.4M257.0 96.6h1.4M257.0 100.9h1.4M257.4 98.8h1.4M257.4 105.1h1.4M257.9 99.7h1.4M257.9 103.4h1.4M258.3 96.9h1.4M258.3 102.3h1.4M258.7 104.2h1.4M258.7 110.7h1.4M259.2 105.1h1.4M259.2 112.2h1.4" stroke="#1f77b4" stroke-width="0.7" fill="none"/><polyline points="45.3,42.2 45.8,42.3 46.3,42.4 46.8,42.5 47.3,42.5 47.8,42.6 48.3,42.7 48.8,42.8 49.3,42.9 49.8,43.1 50.3,43.2 50.8,43.3 51.3,43.4 51.8,43.6 52.3,43.7 52.8,43.9 53.3,44.1 53.8,44.2 54.3,44.4 54.8,44.6 55.3,44.8 55.8,45.0 56.3,45.2 56.8,45.4 57.3,45.6 57.8,45.9 58.3,46.1 58.8,46.3 59.3,46.6 59.8,46.8 60.3,47.0 60.8,47.3 61.3,47.5 61.8,47.8 62.3,48.1 62.8,48.3 63.3,48.6 63.8,48.8 64.3,49.1 64.8,49.4 65.3,49.6 65.8,49.9 66.3,50.2 66.8,50.4 67.3,50.7 67.8,50.9 68.3,51.2 68.8,51.5 69.3,51.7 69.8,52.0 70.3,52.2 70.8,52.5 71.3,52.7 71.8,52.9 72.3,53.2 72.8,53.4 73.3,53.6 73.8,53.8 74.3,54.0 74.8,54.2 75.3,54.4 75.8,54.6 76.3,54.8 76.8,55.0 77.3,55.2 77.8,55.4 78.3,55.6 78.8,55.7 79.3,55.9 79.8,56.0 80.3,56.2 80.8,56.3 81.3,56.5 81.8,56.6 82.3,56.7 82.8,56.8 83.3,57.0 83.8,57.1 84.3,57.2 84.8,57.3 85.3,57.4 85.8,57.4 86.3,57.5 86.8,57.6 87.3,57.7 87.8,57.8 88.3,57.8 88.8,57.9 89.3,57.9 89.8,58.0 90.3,58.0 90.8,58.1 91.3,58.1 91.8,58.2 92.3,58.2 92.8,58.2 93.3,58.3 93.8,58.3 94.3,58.3 94.8,58.3 95.3,58.4 95.8,58.4 96.3,58.4 96.8,58.4 97.3,58.4 97.8,58.5 98.3,58.5 98.8,58.5 99.3,58.5 99.8,58.5 100.3,58.6 100.8,58.6 101.3,58.6 101.8,58.6 102.3,58.7 102.8,58.7 103.3,58.7 103.8,58.8 104.3,58.8 104.8,58.9 105.3,58.9 105.8,59.0 106.3,59.1 106.8,59.1 107.3,59.2 107.8,59.3 108.3,59.4 108.8,59.5 109.3,59.6 109.8,59.7 110.3,59.8 110.8,59.9 111.3,60.1 111.8,60.2 112.3,60.3 112.8,60.5 113.3,60.7 113.8,60.8 114.3,61.0 114.8,61.2 115.3,61.4 115.8,61.6 116.3,61.8 116.8,62.0 117.3,62.2 117.8,62.4 118.3,62.6 118.8,62.8 119.3,63.1 119.8,63.3 120.3,63.6 120.8,63.8 121.3,64.0 121.8,64.3 122.3,64.6 122.8,64.8 123.3,65.1 123.8,65.3 124.3,65.6 124.8,65.9 125.3,66.1 125.8,66.4 126.3,66.7 126.8,66.9 127.3,67.2 127.8,67.4 128.3,67.7 128.8,68.0 129.3,68.2 129.8,68.5 130.3,68.7 130.8,69.0 131.3,69.2 131.8,69.4 132.3,69.7 132.8,69.9 133.3,70.1 133.8,70.4 134.3,70.6 134.8,70.8 135.3,71.0 135.8,71.2 136.3,71.4 136.8,71.6 137.3,71.8 137.8,72.0 138.3,72.1 138.8,72.3 139.3,72.5 139.8,72.6 140.3,72.8 140.8,72.9 141.3,73.1 141.8,73.2 142.3,73.3 142.8,73.5 143.3,73.6 143.8,73.7 144.3,73.8 144.8,73.9 145.3,74.0 145.8,74.1 146.3,74.2 146.8,74.3 147.3,74.4 147.8,74.4 148.3,74.5 148.8,74.6 149.3,74.6 149.8,74.7 150.3,74.7 150.8,74.8 151.3,74.8 151.8,74.9 152.3,74.9 152.8,75.0 153.3,75.0 153.8,75.0 154.3,75.0 154.8,75.1 155.3,75.1 155.8,75.1 156.3,75.1 156.8,75.2 157.3,75.2 157.8,75.2 158.3,75.2 158.8,75.2 159.3,75.2 159.8,75.3 160.3,75.3 160.8,75.3 161.3,75.3 161.8,75.4 162.3,75.4 162.8,75.4 163.3,75.5 163.8,75.5 164.3,75.5 164.8,75.6 165.3,75.6 165.8,75.7 166.3,75.7 166.8,75.8 167.3,75.9 167.8,76.0 168.3,76.0 168.8,76.1 169.3,76.2 169.8,76.3 170.3,76.4 170.8,76.6 171.3,76.7 171.8,76.8 172.3,77.0 172.8,77.1 173.3,77.2 173.8,77.4 174.3,77.6 174.8,77.7 175.3,77.9 175.8,78.1 176.3,78.3 176.8,78.5 177.3,78.7 177.8,78.9 178.3,79.1 178.8,79.4 179.3,79.6 179.8,79.8 180.3,80.1 180.8,80.3 181.3,80.6 181.8,80.8 182.3,81.1 182.8,81.3 183.3,81.6 183.8,81.8 184.3,82.1 184.8,82.4 185.3,82.6 185.8,82.9 186.3,83.1 186.8,83.4 187.3,83.7 187.8,83.9 188.3,84.2 188.8,84.5 189.3,84.7 189.8,85.0 190.3,85.2 190.8,85.5 191.3,85.7 191.8,86.0 192.3,86.2 192.8,86.4 193.3,86.7 193.8,86.9 194.3,87.1 194.8,87.3 195.3,87.5 195.8,87.8 196.3,88.0 196.8,88.2 197.3,88.3 197.8,88.5 198.3,88.7 198.8,88.9 199.3,89.1 199.8,89.2 200.3,89.4 200.8,89.5 201.3,89.7 201.8,89.8 202.3,90.0 202.8,90.1 203.3,90.2 203.8,90.3 204.3,90.5 204.8,90.6 205.3,90.7 205.8,90.8 206.3,90.9 206.8,91.0 207.3,91.0 207.8,91.1 208.3,91.2 208.8,91.3 209.3,91.3 209.8,91.4 210.3,91.4 210.8,91.5 211.3,91.5 211.8,91.6 212.3,91.6 212.8,91.7 213.3,91.7 213.8,91.7 214.3,91.8 214.8,91.8 215.3,91.8 215.8,91.8 216.3,91.9 216.8,91.9 217.3,91.9 217.8,91.9 218.3,91.9 218.8,92.0 219.3,92.0 219.8,92.0 220.3,92.0 220.8,92.0 221.3,92.1 221.8,92.1 222.3,92.1 222.8,92.1 223.3,92.2 223.8,92.2 224.3,92.2 224.8,92.3 225.3,92.3 225.8,92.4 226.3,92.4 226.8,92.5 227.3,92.6 227.8,92.6 228.3,92.7 228.8,92.8 229.3,92.9 229.8,93.0 230.3,93.1 230.8,93.2 231.3,93.3 231.8,93.4 232.3,93.6 232.8,93.7 233.3,93.9 233.8,94.0 234.3,94.2 234.8,94.3 235.3,94.5 235.8,94.7 236.3,94.9 236.8,95.1 237.3,95.3 237.8,95.5 238.3,95.7 238.8,95.9 239.3,96.1 239.8,96.3 240.3,96.6 240.8,96.8 241.3,97.1 241.8,97.3 242.3,97.6 242.8,97.8 243.3,98.1 243.8,98.3 244.3,98.6 244.8,98.8 245.3,99.1 245.8,99.4 246.3,99.6 246.8,99.9 247.3,100.2 247.8,100.4 248.3,100.7 248.8,101.0 249.3,101.2 249.8,101.5 250.3,101.7 250.8,102.0 251.3,102.2 251.8,102.5 252.3,102.7 252.8,103.0 253.3,103.2 253.8,103.4 254.3,103.6 254.8,103.9 255.3,104.1 255.8,104.3 256.3,104.5 256.8,104.7 257.3,104.9 257.8,105.1 258.3,105.3 258.8,105.5 259.3,105.6 259.8,105.8 260.3,106.0" stroke="#ff7f0e" stroke-width="1.0" fill="none" stroke-dasharray="2.1 1.3" stroke-opacity="0.95"/></g>
<g clip-path="url(#cTR)"><path d="M320.6 74.6V76.2M325.5 65.8V67.4M326.2 54.8V56.0M326.6 72.7V83.5M327.1 89.9V95.0M327.5 87.8V93.3M327.9 89.4V94.3M328.4 89.7V95.3M328.8 87.2V94.6M329.2 115.3V116.5M329.6 90.4V96.3M330.1 75.1V85.4M330.5 88.3V93.7M330.9 84.7V89.5M331.4 91.6V96.7M331.8 86.2V95.3M332.2 87.5V96.8M332.7 84.8V90.2M333.1 84.3V93.9M333.5 83.5V90.3M334.0 86.1V92.2M334.4 85.5V93.1M334.8 70.9V82.0M335.7 69.5V80.4M336.1 72.9V84.2M336.5 76.0V82.9M337.0 82.6V91.0M337.4 83.7V90.1M337.8 89.7V96.6M338.3 71.7V83.5M338.7 86.1V92.1M339.1 92.4V97.7M339.6 81.3V93.7M340.0 87.6V96.0M340.4 92.9V98.1M340.8 92.9V98.3M341.3 84.7V95.0M341.7 90.5V98.6M342.1 84.7V94.9M342.6 46.6V47.8M343.0 85.8V96.1M343.4 80.2V89.9M343.9 90.6V97.7M344.3 85.7V90.6M344.7 76.9V84.0M345.1 89.9V98.7M345.6 83.2V90.7M346.0 107.2V108.4M346.4 87.1V95.4M346.9 75.2V86.1M347.3 76.2V89.3M347.7 84.4V90.1M348.2 76.5V87.4M348.6 78.9V91.8M349.0 68.6V74.8M349.5 61.6V71.9M349.9 76.7V90.5M350.3 71.8V84.7M350.7 70.1V80.2M351.2 87.6V93.5M351.6 79.6V86.4M352.0 58.0V69.5M352.5 78.7V93.5M352.9 71.2V86.1M353.3 69.9V83.8M353.8 79.8V91.6M354.2 56.8V66.1M354.6 70.6V80.4M355.1 63.4V72.0M355.9 63.2V73.7M356.3 55.5V61.7M357.2 67.6V79.9M357.6 61.3V77.5M358.1 68.0V79.3M358.5 105.8V107.0M358.9 64.2V78.4M359.4 56.3V73.5M359.8 55.5V73.2M360.2 68.5V77.9M360.7 61.9V75.0M361.1 77.0V87.1M361.5 89.2V99.0M361.9 66.1V82.9M362.8 108.8V110.0M363.2 60.4V75.4M363.7 66.1V85.0M364.1 79.0V91.9M364.5 74.2V90.2M365.0 75.8V85.2M365.4 73.9V90.6M365.8 56.0V72.5M366.3 83.3V97.6M366.7 71.8V89.6M367.1 83.2V96.8M367.5 68.4V82.3M368.0 79.5V86.9M368.4 60.3V66.5M368.8 72.4V83.1M369.3 64.2V78.3M369.7 69.7V81.6M370.1 76.8V85.1M370.6 64.0V75.4M371.0 70.9V86.5M371.4 73.1V85.8M371.9 83.3V90.9M372.3 86.5V98.2M372.7 76.7V92.1M373.1 81.6V88.5M373.6 73.0V79.7M374.0 69.7V84.6M374.4 73.8V86.5M374.9 88.0V96.2M375.3 74.9V85.1M375.7 59.2V71.9M376.2 56.9V63.0M376.6 56.1V62.2M377.0 61.0V73.9M377.4 70.6V86.7M377.9 69.2V82.1M378.3 53.3V60.7M378.7 70.4V77.5M379.2 73.6V88.5M379.6 64.2V74.8M380.0 62.4V71.0M380.5 65.2V74.2M380.9 62.7V77.8M381.3 71.8V82.4M381.8 37.4V38.6M382.2 76.1V83.6M382.6 62.1V68.4M383.0 61.4V74.7M383.5 55.9V64.9M383.9 56.8V65.6M384.3 59.7V65.2M384.8 51.6V58.9M385.2 57.6V69.8M385.6 57.1V70.1M386.1 71.3V81.5M386.5 76.7V85.7M386.9 53.2V69.4M387.4 62.3V72.7M387.8 65.3V75.6M388.2 60.6V69.5M388.6 57.3V69.9M389.1 61.2V77.4M389.5 57.2V63.3M389.9 58.8V64.9M390.4 62.3V72.4M390.8 75.1V88.7M391.2 77.5V85.8M391.7 89.2V100.2M392.1 80.9V90.3M392.5 83.8V93.2M393.0 108.8V110.0M393.8 85.7V94.5M394.2 89.2V97.0M394.7 75.6V86.1M395.1 77.5V93.4M395.5 69.6V78.8M396.0 52.0V53.2M396.4 66.8V81.2M396.8 79.6V89.4M397.3 84.8V92.5M397.7 72.8V88.5M398.1 73.4V82.8M398.6 82.7V92.5M399.0 53.0V54.2M399.4 71.6V83.6M399.8 73.2V81.4M400.3 71.4V80.9M400.7 66.4V72.7M401.1 70.3V79.5M401.6 73.2V81.5M402.0 65.2V70.3M402.4 104.2V105.4M402.9 74.0V83.3M403.3 70.7V77.1M403.7 62.9V68.2M404.2 65.2V74.8M404.6 76.4V88.2M405.0 67.5V80.4M405.4 71.9V84.9M406.3 76.5V88.5M406.7 86.0V91.5M407.2 72.6V82.8M407.6 80.6V88.2M408.0 61.9V71.8M408.5 77.4V85.8M408.9 77.1V86.9M409.3 86.1V91.5M409.7 80.4V86.4M410.2 80.7V91.1M410.6 81.1V89.7M411.0 75.7V82.7M411.5 71.2V84.2M411.9 76.6V82.1M412.3 69.7V82.8M412.8 69.6V82.1M413.2 76.9V82.6M413.6 65.3V78.6M414.1 65.6V77.7M414.5 73.9V81.8M414.9 53.6V54.8M415.3 65.6V80.2M415.8 68.4V75.2M416.2 88.4V97.5M416.6 84.3V91.8M417.1 66.4V81.2M417.5 82.9V90.6M418.4 83.1V90.7M418.8 108.8V110.0M419.2 78.8V93.6M419.7 88.2V96.8M420.1 96.9V102.8M420.5 75.2V82.2M420.9 68.0V79.2M421.4 73.8V81.7M421.8 78.9V87.3M422.2 92.5V100.9M422.7 78.7V90.9M423.1 58.0V59.2M423.5 87.0V96.9M424.0 80.2V95.3M424.4 75.4V88.0M424.8 71.2V77.9M425.3 67.3V73.3M425.7 69.6V82.4M426.1 83.4V93.2M426.5 79.4V87.0M427.0 79.9V87.6M427.4 87.1V97.4M427.8 84.7V97.7M428.3 73.7V85.2M428.7 73.3V82.5M429.1 66.8V75.1M429.6 92.2V102.1M430.0 108.8V110.0M430.4 79.7V87.3M430.9 90.9V98.5M431.3 80.9V88.7M431.7 78.5V91.3M432.1 79.9V87.1M432.6 89.9V100.1M433.0 62.7V73.0M433.4 82.4V94.1M433.9 78.8V90.6M434.3 86.8V97.8M434.7 79.9V90.3M435.2 88.7V97.5M435.6 71.5V86.9M436.0 59.7V69.0M436.4 68.3V76.7M436.9 75.2V82.2M437.3 28.3V29.5M437.7 82.8V96.4M438.6 63.6V76.6M439.0 77.6V85.1M439.5 66.5V81.3M439.9 72.8V80.0M440.3 60.0V65.9M440.8 59.5V65.4M441.2 62.4V73.5M441.6 60.1V68.4M442.0 60.4V76.4M442.5 68.9V75.8M442.9 71.9V81.0M443.3 78.1V90.5M443.8 85.2V91.1M444.2 84.7V90.6M444.6 84.1V90.0M445.1 83.7V89.6M445.5 84.3V90.2M445.9 85.0V90.8M446.4 76.1V83.5M446.8 77.4V91.9M447.2 86.8V92.7M447.6 83.1V91.8M448.1 88.1V93.9M448.5 86.7V93.5M448.9 87.3V95.1M449.4 62.4V75.3M449.8 81.7V90.3M450.2 84.3V90.8M450.7 67.1V80.3M451.1 88.3V98.2M451.5 76.8V84.3M452.0 93.6V99.4M452.4 78.4V89.8M452.8 81.2V89.6M453.2 78.6V92.0M453.7 65.8V79.3M454.1 87.9V97.5M454.5 68.9V80.6M455.0 76.8V85.1M455.4 72.3V84.2M455.8 68.2V76.4M456.3 75.6V85.4M457.1 72.8V86.7M457.6 77.3V91.3M458.0 70.7V83.5M458.4 85.3V100.0M458.8 69.2V82.2M459.3 65.5V74.2M459.7 65.6V76.9M460.1 68.1V74.6M460.6 74.5V80.1M461.0 72.7V79.6M461.4 63.9V74.1M461.9 70.6V82.2M462.3 77.4V83.6M462.7 70.9V83.1M463.2 60.2V71.6M463.6 43.7V44.9M464.0 74.6V84.6M464.4 41.8V43.0M464.9 73.2V85.8M465.3 67.6V76.3M465.7 69.9V78.4M466.2 69.4V78.5M466.6 68.9V75.4M467.0 70.6V79.6M467.5 61.2V68.3M467.9 68.8V72.4M468.3 72.9V79.4M468.7 74.8V81.4M469.2 68.5V79.3M469.6 68.1V80.1M470.0 69.2V75.2M470.5 71.7V84.4M470.9 70.2V82.5M471.3 71.0V83.0M471.8 69.8V78.4M472.2 76.7V94.4M472.6 56.9V71.6M473.1 56.7V63.0M473.5 61.0V78.7M473.9 65.7V74.1M474.3 58.1V64.3M474.8 75.2V82.6M475.2 68.8V78.6M475.6 68.4V85.4M476.1 70.4V80.9M476.5 79.4V94.2M476.9 66.8V81.8M477.4 73.1V84.9M477.8 63.2V77.6M478.2 72.5V80.9M478.7 83.9V90.9M479.1 80.7V88.9M479.5 90.7V96.5M479.9 90.8V96.5M480.4 84.6V91.1M480.8 89.2V95.8M481.7 106.3V107.5M482.1 64.5V73.5M482.5 70.6V79.0M483.0 64.5V78.3M483.4 67.0V78.2M483.8 68.2V82.1M484.3 81.0V93.1M484.7 64.5V76.6M485.1 71.1V85.1M485.5 85.7V94.8M486.0 81.7V89.5M486.4 71.2V77.7M486.8 64.7V78.8M487.3 71.7V79.5M487.7 76.4V89.9M488.1 82.8V93.8M488.6 83.8V95.1M489.0 85.3V90.4M489.4 90.1V95.2M489.9 89.9V94.9M490.3 87.1V94.7M490.7 72.1V76.3M491.1 104.1V105.3M491.6 83.5V87.4M492.0 80.4V84.6M492.4 81.1V86.5M492.9 88.9V93.2M493.3 88.6V93.0M493.7 79.7V86.0M494.2 80.4V85.1M495.0 82.3V91.6M495.5 82.0V93.1M495.9 81.5V91.2M496.3 87.2V93.5M496.7 61.8V69.9M497.2 88.1V93.7M497.6 88.3V93.8M498.0 88.6V93.9M498.5 88.8V94.1M498.9 89.0V94.2M499.3 84.1V91.6M499.8 70.7V79.3M500.2 82.4V91.7M500.6 86.5V91.8M501.0 76.3V86.8M501.5 67.4V76.0M501.9 78.5V84.3M502.3 107.8V109.0M503.2 69.3V77.9M503.6 75.0V81.9M504.1 68.7V76.0M504.5 74.2V81.1M504.9 63.6V77.4M505.4 88.4V94.5M505.8 65.0V77.2M506.2 73.6V81.0M506.6 72.6V84.8M507.1 71.0V79.1M507.5 69.4V79.7M507.9 82.7V88.6M508.4 72.2V86.0M508.8 86.5V94.5M509.2 73.6V85.4M509.7 85.4V92.2M510.1 71.4V78.9M510.5 64.7V76.9M511.0 78.8V90.5M511.4 70.4V81.2M511.8 57.4V58.6M512.2 76.3V87.1M512.7 64.8V70.3M513.1 65.6V77.8M513.5 68.7V80.5M514.0 77.1V86.0M514.4 73.7V82.6M514.8 68.3V80.6M515.3 75.2V82.6M515.7 82.2V91.5M516.1 69.4V76.2M516.6 84.0V92.5M517.0 83.0V89.8M517.4 69.1V80.8M517.8 82.3V94.1M518.3 78.8V86.6M518.7 75.1V86.1M519.1 67.1V73.7M519.6 66.8V76.8M520.0 69.1V79.8M520.4 68.9V75.7M520.9 58.9V60.1M521.3 72.9V80.1M521.7 69.1V78.0M522.2 107.0V108.2M522.6 77.6V82.9M523.0 79.7V92.1M523.4 74.3V83.1M523.9 80.4V89.4M524.3 78.3V88.4M524.7 80.7V86.0M525.2 79.5V89.6M525.6 67.8V78.5M526.0 79.2V84.7M526.5 73.9V85.2M526.9 87.6V92.9M527.3 76.8V85.8M527.8 85.0V92.4M528.2 86.5V92.0M528.6 80.5V87.0M529.0 75.4V81.8M529.5 80.9V91.8M529.9 64.6V71.3M530.3 71.9V83.8M530.8 66.4V72.7M531.2 64.8V74.8M531.6 67.4V77.1M532.1 73.6V81.7M532.5 69.5V79.4M532.9 84.4V90.4M533.3 65.2V74.4M533.8 69.9V76.5M534.2 65.3V71.6M534.6 65.4V70.5M535.1 70.2V76.4" stroke="#ffa500" stroke-width="0.7" fill="none"/>
<polyline points="320.6,75.4 325.5,66.6 326.2,55.4 326.6,78.1 327.1,92.4 327.5,90.6 327.9,91.8 328.4,92.5 328.8,90.9 329.2,115.9 329.6,93.3 330.1,80.2 330.5,91.0 330.9,87.1 331.4,94.1 331.8,90.7 332.2,92.1 332.7,87.5 333.1,89.1 333.5,86.9 334.0,89.1 334.4,89.3 334.8,76.4 335.7,74.9 336.1,78.5 336.5,79.4 337.0,86.8 337.4,86.9 337.8,93.2 338.3,77.6 338.7,89.1 339.1,95.1 339.6,87.5 340.0,91.8 340.4,95.5 340.8,95.6 341.3,89.9 341.7,94.5 342.1,89.8 342.6,47.2 343.0,90.9 343.4,85.0 343.9,94.2 344.3,88.1 344.7,80.5 345.1,94.3 345.6,87.0 346.0,107.8 346.4,91.2 346.9,80.7 347.3,82.8 347.7,87.2 348.2,82.0 348.6,85.4 349.0,71.7 349.5,66.7 349.9,83.6 350.3,78.2 350.7,75.2 351.2,90.5 351.6,83.0 352.0,63.7 352.5,86.1 352.9,78.6 353.3,76.8 353.8,85.7 354.2,61.5 354.6,75.5 355.1,67.7 355.9,68.5 356.3,58.6 357.2,73.8 357.6,69.4 358.1,73.6 358.5,106.4 358.9,71.3 359.4,64.9 359.8,64.4 360.2,73.2 360.7,68.5 361.1,82.1 361.5,94.1 361.9,74.5 362.8,109.4 363.2,67.9 363.7,75.6 364.1,85.4 364.5,82.2 365.0,80.5 365.4,82.3 365.8,64.3 366.3,90.5 366.7,80.7 367.1,90.0 367.5,75.3 368.0,83.2 368.4,63.4 368.8,77.7 369.3,71.2 369.7,75.6 370.1,81.0 370.6,69.7 371.0,78.7 371.4,79.4 371.9,87.1 372.3,92.4 372.7,84.4 373.1,85.1 373.6,76.4 374.0,77.1 374.4,80.1 374.9,92.1 375.3,80.0 375.7,65.6 376.2,59.9 376.6,59.1 377.0,67.5 377.4,78.6 377.9,75.6 378.3,57.0 378.7,73.9 379.2,81.1 379.6,69.5 380.0,66.7 380.5,69.7 380.9,70.3 381.3,77.1 381.8,38.0 382.2,79.8 382.6,65.3 383.0,68.1 383.5,60.4 383.9,61.2 384.3,62.5 384.8,55.2 385.2,63.7 385.6,63.6 386.1,76.4 386.5,81.2 386.9,61.3 387.4,67.5 387.8,70.5 388.2,65.1 388.6,63.6 389.1,69.3 389.5,60.2 389.9,61.8 390.4,67.3 390.8,81.9 391.2,81.6 391.7,94.7 392.1,85.6 392.5,88.5 393.0,109.4 393.8,90.1 394.2,93.1 394.7,80.8 395.1,85.5 395.5,74.2 396.0,52.6 396.4,74.0 396.8,84.5 397.3,88.6 397.7,80.6 398.1,78.1 398.6,87.6 399.0,53.6 399.4,77.6 399.8,77.3 400.3,76.1 400.7,69.5 401.1,74.9 401.6,77.3 402.0,67.8 402.4,104.8 402.9,78.7 403.3,73.9 403.7,65.5 404.2,70.0 404.6,82.3 405.0,73.9 405.4,78.4 406.3,82.5 406.7,88.8 407.2,77.7 407.6,84.4 408.0,66.9 408.5,81.6 408.9,82.0 409.3,88.8 409.7,83.4 410.2,85.9 410.6,85.4 411.0,79.2 411.5,77.7 411.9,79.3 412.3,76.3 412.8,75.9 413.2,79.8 413.6,72.0 414.1,71.6 414.5,77.9 414.9,54.2 415.3,72.9 415.8,71.8 416.2,92.9 416.6,88.1 417.1,73.8 417.5,86.8 418.4,86.9 418.8,109.4 419.2,86.2 419.7,92.5 420.1,99.9 420.5,78.7 420.9,73.6 421.4,77.8 421.8,83.1 422.2,96.7 422.7,84.8 423.1,58.6 423.5,92.0 424.0,87.8 424.4,81.7 424.8,74.5 425.3,70.3 425.7,76.0 426.1,88.3 426.5,83.2 427.0,83.8 427.4,92.3 427.8,91.2 428.3,79.5 428.7,77.9 429.1,71.0 429.6,97.1 430.0,109.4 430.4,83.5 430.9,94.7 431.3,84.8 431.7,84.9 432.1,83.5 432.6,95.0 433.0,67.9 433.4,88.3 433.9,84.7 434.3,92.3 434.7,85.1 435.2,93.1 435.6,79.2 436.0,64.3 436.4,72.5 436.9,78.7 437.3,28.9 437.7,89.6 438.6,70.1 439.0,81.3 439.5,73.9 439.9,76.4 440.3,62.9 440.8,62.4 441.2,68.0 441.6,64.2 442.0,68.4 442.5,72.4 442.9,76.5 443.3,84.3 443.8,88.2 444.2,87.6 444.6,87.0 445.1,86.7 445.5,87.3 445.9,87.9 446.4,79.8 446.8,84.6 447.2,89.7 447.6,87.4 448.1,91.0 448.5,90.1 448.9,91.2 449.4,68.9 449.8,86.0 450.2,87.5 450.7,73.7 451.1,93.3 451.5,80.5 452.0,96.5 452.4,84.1 452.8,85.4 453.2,85.3 453.7,72.5 454.1,92.7 454.5,74.7 455.0,80.9 455.4,78.3 455.8,72.3 456.3,80.5 457.1,79.8 457.6,84.3 458.0,77.1 458.4,92.6 458.8,75.7 459.3,69.8 459.7,71.3 460.1,71.3 460.6,77.3 461.0,76.2 461.4,69.0 461.9,76.4 462.3,80.5 462.7,77.0 463.2,65.9 463.6,44.3 464.0,79.6 464.4,42.4 464.9,79.5 465.3,72.0 465.7,74.1 466.2,74.0 466.6,72.1 467.0,75.1 467.5,64.8 467.9,70.6 468.3,76.1 468.7,78.1 469.2,73.9 469.6,74.1 470.0,72.2 470.5,78.0 470.9,76.4 471.3,77.0 471.8,74.1 472.2,85.6 472.6,64.3 473.1,59.8 473.5,69.9 473.9,69.9 474.3,61.2 474.8,78.9 475.2,73.7 475.6,76.9 476.1,75.6 476.5,86.8 476.9,74.3 477.4,79.0 477.8,70.4 478.2,76.7 478.7,87.4 479.1,84.8 479.5,93.6 479.9,93.6 480.4,87.9 480.8,92.5 481.7,106.9 482.1,69.0 482.5,74.8 483.0,71.4 483.4,72.6 483.8,75.2 484.3,87.1 484.7,70.6 485.1,78.1 485.5,90.3 486.0,85.6 486.4,74.4 486.8,71.7 487.3,75.6 487.7,83.1 488.1,88.3 488.6,89.5 489.0,87.8 489.4,92.6 489.9,92.4 490.3,90.9 490.7,74.2 491.1,104.7 491.6,85.5 492.0,82.5 492.4,83.8 492.9,91.1 493.3,90.8 493.7,82.9 494.2,82.8 495.0,87.0 495.5,87.6 495.9,86.3 496.3,90.3 496.7,65.9 497.2,90.9 497.6,91.1 498.0,91.2 498.5,91.4 498.9,91.6 499.3,87.8 499.8,75.0 500.2,87.0 500.6,89.1 501.0,81.5 501.5,71.7 501.9,81.4 502.3,108.4 503.2,73.6 503.6,78.5 504.1,72.4 504.5,77.6 504.9,70.5 505.4,91.4 505.8,71.1 506.2,77.3 506.6,78.7 507.1,75.0 507.5,74.6 507.9,85.6 508.4,79.1 508.8,90.5 509.2,79.5 509.7,88.8 510.1,75.1 510.5,70.8 511.0,84.7 511.4,75.8 511.8,58.0 512.2,81.7 512.7,67.5 513.1,71.7 513.5,74.6 514.0,81.6 514.4,78.1 514.8,74.5 515.3,78.9 515.7,86.9 516.1,72.8 516.6,88.2 517.0,86.4 517.4,75.0 517.8,88.2 518.3,82.7 518.7,80.6 519.1,70.4 519.6,71.8 520.0,74.4 520.4,72.3 520.9,59.5 521.3,76.5 521.7,73.5 522.2,107.6 522.6,80.3 523.0,85.9 523.4,78.7 523.9,84.9 524.3,83.3 524.7,83.4 525.2,84.6 525.6,73.1 526.0,82.0 526.5,79.6 526.9,90.2 527.3,81.3 527.8,88.7 528.2,89.3 528.6,83.7 529.0,78.6 529.5,86.4 529.9,68.0 530.3,77.8 530.8,69.5 531.2,69.8 531.6,72.2 532.1,77.7 532.5,74.5 532.9,87.4 533.3,69.8 533.8,73.2 534.2,68.5 534.6,67.9 535.1,73.3" stroke="#ffa500" stroke-width="0.55" fill="none" stroke-linejoin="round"/>
<path d="M320.6 75.4h0M325.5 66.6h0M326.2 55.4h0M326.6 78.1h0M327.1 92.4h0M327.5 90.6h0M327.9 91.8h0M328.4 92.5h0M328.8 90.9h0M329.2 115.9h0M329.6 93.3h0M330.1 80.2h0M330.5 91.0h0M330.9 87.1h0M331.4 94.1h0M331.8 90.7h0M332.2 92.1h0M332.7 87.5h0M333.1 89.1h0M333.5 86.9h0M334.0 89.1h0M334.4 89.3h0M334.8 76.4h0M335.7 74.9h0M336.1 78.5h0M336.5 79.4h0M337.0 86.8h0M337.4 86.9h0M337.8 93.2h0M338.3 77.6h0M338.7 89.1h0M339.1 95.1h0M339.6 87.5h0M340.0 91.8h0M340.4 95.5h0M340.8 95.6h0M341.3 89.9h0M341.7 94.5h0M342.1 89.8h0M342.6 47.2h0M343.0 90.9h0M343.4 85.0h0M343.9 94.2h0M344.3 88.1h0M344.7 80.5h0M345.1 94.3h0M345.6 87.0h0M346.0 107.8h0M346.4 91.2h0M346.9 80.7h0M347.3 82.8h0M347.7 87.2h0M348.2 82.0h0M348.6 85.4h0M349.0 71.7h0M349.5 66.7h0M349.9 83.6h0M350.3 78.2h0M350.7 75.2h0M351.2 90.5h0M351.6 83.0h0M352.0 63.7h0M352.5 86.1h0M352.9 78.6h0M353.3 76.8h0M353.8 85.7h0M354.2 61.5h0M354.6 75.5h0M355.1 67.7h0M355.9 68.5h0M356.3 58.6h0M357.2 73.8h0M357.6 69.4h0M358.1 73.6h0M358.5 106.4h0M358.9 71.3h0M359.4 64.9h0M359.8 64.4h0M360.2 73.2h0M360.7 68.5h0M361.1 82.1h0M361.5 94.1h0M361.9 74.5h0M362.8 109.4h0M363.2 67.9h0M363.7 75.6h0M364.1 85.4h0M364.5 82.2h0M365.0 80.5h0M365.4 82.3h0M365.8 64.3h0M366.3 90.5h0M366.7 80.7h0M367.1 90.0h0M367.5 75.3h0M368.0 83.2h0M368.4 63.4h0M368.8 77.7h0M369.3 71.2h0M369.7 75.6h0M370.1 81.0h0M370.6 69.7h0M371.0 78.7h0M371.4 79.4h0M371.9 87.1h0M372.3 92.4h0M372.7 84.4h0M373.1 85.1h0M373.6 76.4h0M374.0 77.1h0M374.4 80.1h0M374.9 92.1h0M375.3 80.0h0M375.7 65.6h0M376.2 59.9h0M376.6 59.1h0M377.0 67.5h0M377.4 78.6h0M377.9 75.6h0M378.3 57.0h0M378.7 73.9h0M379.2 81.1h0M379.6 69.5h0M380.0 66.7h0M380.5 69.7h0M380.9 70.3h0M381.3 77.1h0M381.8 38.0h0M382.2 79.8h0M382.6 65.3h0M383.0 68.1h0M383.5 60.4h0M383.9 61.2h0M384.3 62.5h0M384.8 55.2h0M385.2 63.7h0M385.6 63.6h0M386.1 76.4h0M386.5 81.2h0M386.9 61.3h0M387.4 67.5h0M387.8 70.5h0M388.2 65.1h0M388.6 63.6h0M389.1 69.3h0M389.5 60.2h0M389.9 61.8h0M390.4 67.3h0M390.8 81.9h0M391.2 81.6h0M391.7 94.7h0M392.1 85.6h0M392.5 88.5h0M393.0 109.4h0M393.8 90.1h0M394.2 93.1h0M394.7 80.8h0M395.1 85.5h0M395.5 74.2h0M396.0 52.6h0M396.4 74.0h0M396.8 84.5h0M397.3 88.6h0M397.7 80.6h0M398.1 78.1h0M398.6 87.6h0M399.0 53.6h0M399.4 77.6h0M399.8 77.3h0M400.3 76.1h0M400.7 69.5h0M401.1 74.9h0M401.6 77.3h0M402.0 67.8h0M402.4 104.8h0M402.9 78.7h0M403.3 73.9h0M403.7 65.5h0M404.2 70.0h0M404.6 82.3h0M405.0 73.9h0M405.4 78.4h0M406.3 82.5h0M406.7 88.8h0M407.2 77.7h0M407.6 84.4h0M408.0 66.9h0M408.5 81.6h0M408.9 82.0h0M409.3 88.8h0M409.7 83.4h0M410.2 85.9h0M410.6 85.4h0M411.0 79.2h0M411.5 77.7h0M411.9 79.3h0M412.3 76.3h0M412.8 75.9h0M413.2 79.8h0M413.6 72.0h0M414.1 71.6h0M414.5 77.9h0M414.9 54.2h0M415.3 72.9h0M415.8 71.8h0M416.2 92.9h0M416.6 88.1h0M417.1 73.8h0M417.5 86.8h0M418.4 86.9h0M418.8 109.4h0M419.2 86.2h0M419.7 92.5h0M420.1 99.9h0M420.5 78.7h0M420.9 73.6h0M421.4 77.8h0M421.8 83.1h0M422.2 96.7h0M422.7 84.8h0M423.1 58.6h0M423.5 92.0h0M424.0 87.8h0M424.4 81.7h0M424.8 74.5h0M425.3 70.3h0M425.7 76.0h0M426.1 88.3h0M426.5 83.2h0M427.0 83.8h0M427.4 92.3h0M427.8 91.2h0M428.3 79.5h0M428.7 77.9h0M429.1 71.0h0M429.6 97.1h0M430.0 109.4h0M430.4 83.5h0M430.9 94.7h0M431.3 84.8h0M431.7 84.9h0M432.1 83.5h0M432.6 95.0h0M433.0 67.9h0M433.4 88.3h0M433.9 84.7h0M434.3 92.3h0M434.7 85.1h0M435.2 93.1h0M435.6 79.2h0M436.0 64.3h0M436.4 72.5h0M436.9 78.7h0M437.3 28.9h0M437.7 89.6h0M438.6 70.1h0M439.0 81.3h0M439.5 73.9h0M439.9 76.4h0M440.3 62.9h0M440.8 62.4h0M441.2 68.0h0M441.6 64.2h0M442.0 68.4h0M442.5 72.4h0M442.9 76.5h0M443.3 84.3h0M443.8 88.2h0M444.2 87.6h0M444.6 87.0h0M445.1 86.7h0M445.5 87.3h0M445.9 87.9h0M446.4 79.8h0M446.8 84.6h0M447.2 89.7h0M447.6 87.4h0M448.1 91.0h0M448.5 90.1h0M448.9 91.2h0M449.4 68.9h0M449.8 86.0h0M450.2 87.5h0M450.7 73.7h0M451.1 93.3h0M451.5 80.5h0M452.0 96.5h0M452.4 84.1h0M452.8 85.4h0M453.2 85.3h0M453.7 72.5h0M454.1 92.7h0M454.5 74.7h0M455.0 80.9h0M455.4 78.3h0M455.8 72.3h0M456.3 80.5h0M457.1 79.8h0M457.6 84.3h0M458.0 77.1h0M458.4 92.6h0M458.8 75.7h0M459.3 69.8h0M459.7 71.3h0M460.1 71.3h0M460.6 77.3h0M461.0 76.2h0M461.4 69.0h0M461.9 76.4h0M462.3 80.5h0M462.7 77.0h0M463.2 65.9h0M463.6 44.3h0M464.0 79.6h0M464.4 42.4h0M464.9 79.5h0M465.3 72.0h0M465.7 74.1h0M466.2 74.0h0M466.6 72.1h0M467.0 75.1h0M467.5 64.8h0M467.9 70.6h0M468.3 76.1h0M468.7 78.1h0M469.2 73.9h0M469.6 74.1h0M470.0 72.2h0M470.5 78.0h0M470.9 76.4h0M471.3 77.0h0M471.8 74.1h0M472.2 85.6h0M472.6 64.3h0M473.1 59.8h0M473.5 69.9h0M473.9 69.9h0M474.3 61.2h0M474.8 78.9h0M475.2 73.7h0M475.6 76.9h0M476.1 75.6h0M476.5 86.8h0M476.9 74.3h0M477.4 79.0h0M477.8 70.4h0M478.2 76.7h0M478.7 87.4h0M479.1 84.8h0M479.5 93.6h0M479.9 93.6h0M480.4 87.9h0M480.8 92.5h0M481.7 106.9h0M482.1 69.0h0M482.5 74.8h0M483.0 71.4h0M483.4 72.6h0M483.8 75.2h0M484.3 87.1h0M484.7 70.6h0M485.1 78.1h0M485.5 90.3h0M486.0 85.6h0M486.4 74.4h0M486.8 71.7h0M487.3 75.6h0M487.7 83.1h0M488.1 88.3h0M488.6 89.5h0M489.0 87.8h0M489.4 92.6h0M489.9 92.4h0M490.3 90.9h0M490.7 74.2h0M491.1 104.7h0M491.6 85.5h0M492.0 82.5h0M492.4 83.8h0M492.9 91.1h0M493.3 90.8h0M493.7 82.9h0M494.2 82.8h0M495.0 87.0h0M495.5 87.6h0M495.9 86.3h0M496.3 90.3h0M496.7 65.9h0M497.2 90.9h0M497.6 91.1h0M498.0 91.2h0M498.5 91.4h0M498.9 91.6h0M499.3 87.8h0M499.8 75.0h0M500.2 87.0h0M500.6 89.1h0M501.0 81.5h0M501.5 71.7h0M501.9 81.4h0M502.3 108.4h0M503.2 73.6h0M503.6 78.5h0M504.1 72.4h0M504.5 77.6h0M504.9 70.5h0M505.4 91.4h0M505.8 71.1h0M506.2 77.3h0M506.6 78.7h0M507.1 75.0h0M507.5 74.6h0M507.9 85.6h0M508.4 79.1h0M508.8 90.5h0M509.2 79.5h0M509.7 88.8h0M510.1 75.1h0M510.5 70.8h0M511.0 84.7h0M511.4 75.8h0M511.8 58.0h0M512.2 81.7h0M512.7 67.5h0M513.1 71.7h0M513.5 74.6h0M514.0 81.6h0M514.4 78.1h0M514.8 74.5h0M515.3 78.9h0M515.7 86.9h0M516.1 72.8h0M516.6 88.2h0M517.0 86.4h0M517.4 75.0h0M517.8 88.2h0M518.3 82.7h0M518.7 80.6h0M519.1 70.4h0M519.6 71.8h0M520.0 74.4h0M520.4 72.3h0M520.9 59.5h0M521.3 76.5h0M521.7 73.5h0M522.2 107.6h0M522.6 80.3h0M523.0 85.9h0M523.4 78.7h0M523.9 84.9h0M524.3 83.3h0M524.7 83.4h0M525.2 84.6h0M525.6 73.1h0M526.0 82.0h0M526.5 79.6h0M526.9 90.2h0M527.3 81.3h0M527.8 88.7h0M528.2 89.3h0M528.6 83.7h0M529.0 78.6h0M529.5 86.4h0M529.9 68.0h0M530.3 77.8h0M530.8 69.5h0M531.2 69.8h0M531.6 72.2h0M532.1 77.7h0M532.5 74.5h0M532.9 87.4h0M533.3 69.8h0M533.8 73.2h0M534.2 68.5h0M534.6 67.9h0M535.1 73.3h0" stroke="#ffa500" stroke-width="1.9" stroke-linecap="round" fill="none"/>
<path d="M319.9 74.6h1.4M319.9 76.2h1.4M324.8 65.8h1.4M324.8 67.4h1.4M325.5 54.8h1.4M325.5 56.0h1.4M325.9 72.7h1.4M325.9 83.5h1.4M326.4 89.9h1.4M326.4 95.0h1.4M326.8 87.8h1.4M326.8 93.3h1.4M327.2 89.4h1.4M327.2 94.3h1.4M327.7 89.7h1.4M327.7 95.3h1.4M328.1 87.2h1.4M328.1 94.6h1.4M328.5 115.3h1.4M328.5 116.5h1.4M328.9 90.4h1.4M328.9 96.3h1.4M329.4 75.1h1.4M329.4 85.4h1.4M329.8 88.3h1.4M329.8 93.7h1.4M330.2 84.7h1.4M330.2 89.5h1.4M330.7 91.6h1.4M330.7 96.7h1.4M331.1 86.2h1.4M331.1 95.3h1.4M331.5 87.5h1.4M331.5 96.8h1.4M332.0 84.8h1.4M332.0 90.2h1.4M332.4 84.3h1.4M332.4 93.9h1.4M332.8 83.5h1.4M332.8 90.3h1.4M333.3 86.1h1.4M333.3 92.2h1.4M333.7 85.5h1.4M333.7 93.1h1.4M334.1 70.9h1.4M334.1 82.0h1.4M335.0 69.5h1.4M335.0 80.4h1.4M335.4 72.9h1.4M335.4 84.2h1.4M335.8 76.0h1.4M335.8 82.9h1.4M336.3 82.6h1.4M336.3 91.0h1.4M336.7 83.7h1.4M336.7 90.1h1.4M337.1 89.7h1.4M337.1 96.6h1.4M337.6 71.7h1.4M337.6 83.5h1.4M338.0 86.1h1.4M338.0 92.1h1.4M338.4 92.4h1.4M338.4 97.7h1.4M338.9 81.3h1.4M338.9 93.7h1.4M339.3 87.6h1.4M339.3 96.0h1.4M339.7 92.9h1.4M339.7 98.1h1.4M340.1 92.9h1.4M340.1 98.3h1.4M340.6 84.7h1.4M340.6 95.0h1.4M341.0 90.5h1.4M341.0 98.6h1.4M341.4 84.7h1.4M341.4 94.9h1.4M341.9 46.6h1.4M341.9 47.8h1.4M342.3 85.8h1.4M342.3 96.1h1.4M342.7 80.2h1.4M342.7 89.9h1.4M343.2 90.6h1.4M343.2 97.7h1.4M343.6 85.7h1.4M343.6 90.6h1.4M344.0 76.9h1.4M344.0 84.0h1.4M344.4 89.9h1.4M344.4 98.7h1.4M344.9 83.2h1.4M344.9 90.7h1.4M345.3 107.2h1.4M345.3 108.4h1.4M345.7 87.1h1.4M345.7 95.4h1.4M346.2 75.2h1.4M346.2 86.1h1.4M346.6 76.2h1.4M346.6 89.3h1.4M347.0 84.4h1.4M347.0 90.1h1.4M347.5 76.5h1.4M347.5 87.4h1.4M347.9 78.9h1.4M347.9 91.8h1.4M348.3 68.6h1.4M348.3 74.8h1.4M348.8 61.6h1.4M348.8 71.9h1.4M349.2 76.7h1.4M349.2 90.5h1.4M349.6 71.8h1.4M349.6 84.7h1.4M350.0 70.1h1.4M350.0 80.2h1.4M350.5 87.6h1.4M350.5 93.5h1.4M350.9 79.6h1.4M350.9 86.4h1.4M351.3 58.0h1.4M351.3 69.5h1.4M351.8 78.7h1.4M351.8 93.5h1.4M352.2 71.2h1.4M352.2 86.1h1.4M352.6 69.9h1.4M352.6 83.8h1.4M353.1 79.8h1.4M353.1 91.6h1.4M353.5 56.8h1.4M353.5 66.1h1.4M353.9 70.6h1.4M353.9 80.4h1.4M354.4 63.4h1.4M354.4 72.0h1.4M355.2 63.2h1.4M355.2 73.7h1.4M355.6 55.5h1.4M355.6 61.7h1.4M356.5 67.6h1.4M356.5 79.9h1.4M356.9 61.3h1.4M356.9 77.5h1.4M357.4 68.0h1.4M357.4 79.3h1.4M357.8 105.8h1.4M357.8 107.0h1.4M358.2 64.2h1.4M358.2 78.4h1.4M358.7 56.3h1.4M358.7 73.5h1.4M359.1 55.5h1.4M359.1 73.2h1.4M359.5 68.5h1.4M359.5 77.9h1.4M360.0 61.9h1.4M360.0 75.0h1.4M360.4 77.0h1.4M360.4 87.1h1.4M360.8 89.2h1.4M360.8 99.0h1.4M361.2 66.1h1.4M361.2 82.9h1.4M362.1 108.8h1.4M362.1 110.0h1.4M362.5 60.4h1.4M362.5 75.4h1.4M363.0 66.1h1.4M363.0 85.0h1.4M363.4 79.0h1.4M363.4 91.9h1.4M363.8 74.2h1.4M363.8 90.2h1.4M364.3 75.8h1.4M364.3 85.2h1.4M364.7 73.9h1.4M364.7 90.6h1.4M365.1 56.0h1.4M365.1 72.5h1.4M365.6 83.3h1.4M365.6 97.6h1.4M366.0 71.8h1.4M366.0 89.6h1.4M366.4 83.2h1.4M366.4 96.8h1.4M366.8 68.4h1.4M366.8 82.3h1.4M367.3 79.5h1.4M367.3 86.9h1.4M367.7 60.3h1.4M367.7 66.5h1.4M368.1 72.4h1.4M368.1 83.1h1.4M368.6 64.2h1.4M368.6 78.3h1.4M369.0 69.7h1.4M369.0 81.6h1.4M369.4 76.8h1.4M369.4 85.1h1.4M369.9 64.0h1.4M369.9 75.4h1.4M370.3 70.9h1.4M370.3 86.5h1.4M370.7 73.1h1.4M370.7 85.8h1.4M371.2 83.3h1.4M371.2 90.9h1.4M371.6 86.5h1.4M371.6 98.2h1.4M372.0 76.7h1.4M372.0 92.1h1.4M372.4 81.6h1.4M372.4 88.5h1.4M372.9 73.0h1.4M372.9 79.7h1.4M373.3 69.7h1.4M373.3 84.6h1.4M373.7 73.8h1.4M373.7 86.5h1.4M374.2 88.0h1.4M374.2 96.2h1.4M374.6 74.9h1.4M374.6 85.1h1.4M375.0 59.2h1.4M375.0 71.9h1.4M375.5 56.9h1.4M375.5 63.0h1.4M375.9 56.1h1.4M375.9 62.2h1.4M376.3 61.0h1.4M376.3 73.9h1.4M376.7 70.6h1.4M376.7 86.7h1.4M377.2 69.2h1.4M377.2 82.1h1.4M377.6 53.3h1.4M377.6 60.7h1.4M378.0 70.4h1.4M378.0 77.5h1.4M378.5 73.6h1.4M378.5 88.5h1.4M378.9 64.2h1.4M378.9 74.8h1.4M379.3 62.4h1.4M379.3 71.0h1.4M379.8 65.2h1.4M379.8 74.2h1.4M380.2 62.7h1.4M380.2 77.8h1.4M380.6 71.8h1.4M380.6 82.4h1.4M381.1 37.4h1.4M381.1 38.6h1.4M381.5 76.1h1.4M381.5 83.6h1.4M381.9 62.1h1.4M381.9 68.4h1.4M382.3 61.4h1.4M382.3 74.7h1.4M382.8 55.9h1.4M382.8 64.9h1.4M383.2 56.8h1.4M383.2 65.6h1.4M383.6 59.7h1.4M383.6 65.2h1.4M384.1 51.6h1.4M384.1 58.9h1.4M384.5 57.6h1.4M384.5 69.8h1.4M384.9 57.1h1.4M384.9 70.1h1.4M385.4 71.3h1.4M385.4 81.5h1.4M385.8 76.7h1.4M385.8 85.7h1.4M386.2 53.2h1.4M386.2 69.4h1.4M386.7 62.3h1.4M386.7 72.7h1.4M387.1 65.3h1.4M387.1 75.6h1.4M387.5 60.6h1.4M387.5 69.5h1.4M387.9 57.3h1.4M387.9 69.9h1.4M388.4 61.2h1.4M388.4 77.4h1.4M388.8 57.2h1.4M388.8 63.3h1.4M389.2 58.8h1.4M389.2 64.9h1.4M389.7 62.3h1.4M389.7 72.4h1.4M390.1 75.1h1.4M390.1 88.7h1.4M390.5 77.5h1.4M390.5 85.8h1.4M391.0 89.2h1.4M391.0 100.2h1.4M391.4 80.9h1.4M391.4 90.3h1.4M391.8 83.8h1.4M391.8 93.2h1.4M392.3 108.8h1.4M392.3 110.0h1.4M393.1 85.7h1.4M393.1 94.5h1.4M393.5 89.2h1.4M393.5 97.0h1.4M394.0 75.6h1.4M394.0 86.1h1.4M394.4 77.5h1.4M394.4 93.4h1.4M394.8 69.6h1.4M394.8 78.8h1.4M395.3 52.0h1.4M395.3 53.2h1.4M395.7 66.8h1.4M395.7 81.2h1.4M396.1 79.6h1.4M396.1 89.4h1.4M396.6 84.8h1.4M396.6 92.5h1.4M397.0 72.8h1.4M397.0 88.5h1.4M397.4 73.4h1.4M397.4 82.8h1.4M397.9 82.7h1.4M397.9 92.5h1.4M398.3 53.0h1.4M398.3 54.2h1.4M398.7 71.6h1.4M398.7 83.6h1.4M399.1 73.2h1.4M399.1 81.4h1.4M399.6 71.4h1.4M399.6 80.9h1.4M400.0 66.4h1.4M400.0 72.7h1.4M400.4 70.3h1.4M400.4 79.5h1.4M400.9 73.2h1.4M400.9 81.5h1.4M401.3 65.2h1.4M401.3 70.3h1.4M401.7 104.2h1.4M401.7 105.4h1.4M402.2 74.0h1.4M402.2 83.3h1.4M402.6 70.7h1.4M402.6 77.1h1.4M403.0 62.9h1.4M403.0 68.2h1.4M403.5 65.2h1.4M403.5 74.8h1.4M403.9 76.4h1.4M403.9 88.2h1.4M404.3 67.5h1.4M404.3 80.4h1.4M404.7 71.9h1.4M404.7 84.9h1.4M405.6 76.5h1.4M405.6 88.5h1.4M406.0 86.0h1.4M406.0 91.5h1.4M406.5 72.6h1.4M406.5 82.8h1.4M406.9 80.6h1.4M406.9 88.2h1.4M407.3 61.9h1.4M407.3 71.8h1.4M407.8 77.4h1.4M407.8 85.8h1.4M408.2 77.1h1.4M408.2 86.9h1.4M408.6 86.1h1.4M408.6 91.5h1.4M409.0 80.4h1.4M409.0 86.4h1.4M409.5 80.7h1.4M409.5 91.1h1.4M409.9 81.1h1.4M409.9 89.7h1.4M410.3 75.7h1.4M410.3 82.7h1.4M410.8 71.2h1.4M410.8 84.2h1.4M411.2 76.6h1.4M411.2 82.1h1.4M411.6 69.7h1.4M411.6 82.8h1.4M412.1 69.6h1.4M412.1 82.1h1.4M412.5 76.9h1.4M412.5 82.6h1.4M412.9 65.3h1.4M412.9 78.6h1.4M413.4 65.6h1.4M413.4 77.7h1.4M413.8 73.9h1.4M413.8 81.8h1.4M414.2 53.6h1.4M414.2 54.8h1.4M414.6 65.6h1.4M414.6 80.2h1.4M415.1 68.4h1.4M415.1 75.2h1.4M415.5 88.4h1.4M415.5 97.5h1.4M415.9 84.3h1.4M415.9 91.8h1.4M416.4 66.4h1.4M416.4 81.2h1.4M416.8 82.9h1.4M416.8 90.6h1.4M417.7 83.1h1.4M417.7 90.7h1.4M418.1 108.8h1.4M418.1 110.0h1.4M418.5 78.8h1.4M418.5 93.6h1.4M419.0 88.2h1.4M419.0 96.8h1.4M419.4 96.9h1.4M419.4 102.8h1.4M419.8 75.2h1.4M419.8 82.2h1.4M420.2 68.0h1.4M420.2 79.2h1.4M420.7 73.8h1.4M420.7 81.7h1.4M421.1 78.9h1.4M421.1 87.3h1.4M421.5 92.5h1.4M421.5 100.9h1.4M422.0 78.7h1.4M422.0 90.9h1.4M422.4 58.0h1.4M422.4 59.2h1.4M422.8 87.0h1.4M422.8 96.9h1.4M423.3 80.2h1.4M423.3 95.3h1.4M423.7 75.4h1.4M423.7 88.0h1.4M424.1 71.2h1.4M424.1 77.9h1.4M424.6 67.3h1.4M424.6 73.3h1.4M425.0 69.6h1.4M425.0 82.4h1.4M425.4 83.4h1.4M425.4 93.2h1.4M425.8 79.4h1.4M425.8 87.0h1.4M426.3 79.9h1.4M426.3 87.6h1.4M426.7 87.1h1.4M426.7 97.4h1.4M427.1 84.7h1.4M427.1 97.7h1.4M427.6 73.7h1.4M427.6 85.2h1.4M428.0 73.3h1.4M428.0 82.5h1.4M428.4 66.8h1.4M428.4 75.1h1.4M428.9 92.2h1.4M428.9 102.1h1.4M429.3 108.8h1.4M429.3 110.0h1.4M429.7 79.7h1.4M429.7 87.3h1.4M430.2 90.9h1.4M430.2 98.5h1.4M430.6 80.9h1.4M430.6 88.7h1.4M431.0 78.5h1.4M431.0 91.3h1.4M431.4 79.9h1.4M431.4 87.1h1.4M431.9 89.9h1.4M431.9 100.1h1.4M432.3 62.7h1.4M432.3 73.0h1.4M432.7 82.4h1.4M432.7 94.1h1.4M433.2 78.8h1.4M433.2 90.6h1.4M433.6 86.8h1.4M433.6 97.8h1.4M434.0 79.9h1.4M434.0 90.3h1.4M434.5 88.7h1.4M434.5 97.5h1.4M434.9 71.5h1.4M434.9 86.9h1.4M435.3 59.7h1.4M435.3 69.0h1.4M435.7 68.3h1.4M435.7 76.7h1.4M436.2 75.2h1.4M436.2 82.2h1.4M436.6 28.3h1.4M436.6 29.5h1.4M437.0 82.8h1.4M437.0 96.4h1.4M437.9 63.6h1.4M437.9 76.6h1.4M438.3 77.6h1.4M438.3 85.1h1.4M438.8 66.5h1.4M438.8 81.3h1.4M439.2 72.8h1.4M439.2 80.0h1.4M439.6 60.0h1.4M439.6 65.9h1.4M440.1 59.5h1.4M440.1 65.4h1.4M440.5 62.4h1.4M440.5 73.5h1.4M440.9 60.1h1.4M440.9 68.4h1.4M441.3 60.4h1.4M441.3 76.4h1.4M441.8 68.9h1.4M441.8 75.8h1.4M442.2 71.9h1.4M442.2 81.0h1.4M442.6 78.1h1.4M442.6 90.5h1.4M443.1 85.2h1.4M443.1 91.1h1.4M443.5 84.7h1.4M443.5 90.6h1.4M443.9 84.1h1.4M443.9 90.0h1.4M444.4 83.7h1.4M444.4 89.6h1.4M444.8 84.3h1.4M444.8 90.2h1.4M445.2 85.0h1.4M445.2 90.8h1.4M445.7 76.1h1.4M445.7 83.5h1.4M446.1 77.4h1.4M446.1 91.9h1.4M446.5 86.8h1.4M446.5 92.7h1.4M446.9 83.1h1.4M446.9 91.8h1.4M447.4 88.1h1.4M447.4 93.9h1.4M447.8 86.7h1.4M447.8 93.5h1.4M448.2 87.3h1.4M448.2 95.1h1.4M448.7 62.4h1.4M448.7 75.3h1.4M449.1 81.7h1.4M449.1 90.3h1.4M449.5 84.3h1.4M449.5 90.8h1.4M450.0 67.1h1.4M450.0 80.3h1.4M450.4 88.3h1.4M450.4 98.2h1.4M450.8 76.8h1.4M450.8 84.3h1.4M451.3 93.6h1.4M451.3 99.4h1.4M451.7 78.4h1.4M451.7 89.8h1.4M452.1 81.2h1.4M452.1 89.6h1.4M452.5 78.6h1.4M452.5 92.0h1.4M453.0 65.8h1.4M453.0 79.3h1.4M453.4 87.9h1.4M453.4 97.5h1.4M453.8 68.9h1.4M453.8 80.6h1.4M454.3 76.8h1.4M454.3 85.1h1.4M454.7 72.3h1.4M454.7 84.2h1.4M455.1 68.2h1.4M455.1 76.4h1.4M455.6 75.6h1.4M455.6 85.4h1.4M456.4 72.8h1.4M456.4 86.7h1.4M456.9 77.3h1.4M456.9 91.3h1.4M457.3 70.7h1.4M457.3 83.5h1.4M457.7 85.3h1.4M457.7 100.0h1.4M458.1 69.2h1.4M458.1 82.2h1.4M458.6 65.5h1.4M458.6 74.2h1.4M459.0 65.6h1.4M459.0 76.9h1.4M459.4 68.1h1.4M459.4 74.6h1.4M459.9 74.5h1.4M459.9 80.1h1.4M460.3 72.7h1.4M460.3 79.6h1.4M460.7 63.9h1.4M460.7 74.1h1.4M461.2 70.6h1.4M461.2 82.2h1.4M461.6 77.4h1.4M461.6 83.6h1.4M462.0 70.9h1.4M462.0 83.1h1.4M462.5 60.2h1.4M462.5 71.6h1.4M462.9 43.7h1.4M462.9 44.9h1.4M463.3 74.6h1.4M463.3 84.6h1.4M463.7 41.8h1.4M463.7 43.0h1.4M464.2 73.2h1.4M464.2 85.8h1.4M464.6 67.6h1.4M464.6 76.3h1.4M465.0 69.9h1.4M465.0 78.4h1.4M465.5 69.4h1.4M465.5 78.5h1.4M465.9 68.9h1.4M465.9 75.4h1.4M466.3 70.6h1.4M466.3 79.6h1.4M466.8 61.2h1.4M466.8 68.3h1.4M467.2 68.8h1.4M467.2 72.4h1.4M467.6 72.9h1.4M467.6 79.4h1.4M468.0 74.8h1.4M468.0 81.4h1.4M468.5 68.5h1.4M468.5 79.3h1.4M468.9 68.1h1.4M468.9 80.1h1.4M469.3 69.2h1.4M469.3 75.2h1.4M469.8 71.7h1.4M469.8 84.4h1.4M470.2 70.2h1.4M470.2 82.5h1.4M470.6 71.0h1.4M470.6 83.0h1.4M471.1 69.8h1.4M471.1 78.4h1.4M471.5 76.7h1.4M471.5 94.4h1.4M471.9 56.9h1.4M471.9 71.6h1.4M472.4 56.7h1.4M472.4 63.0h1.4M472.8 61.0h1.4M472.8 78.7h1.4M473.2 65.7h1.4M473.2 74.1h1.4M473.6 58.1h1.4M473.6 64.3h1.4M474.1 75.2h1.4M474.1 82.6h1.4M474.5 68.8h1.4M474.5 78.6h1.4M474.9 68.4h1.4M474.9 85.4h1.4M475.4 70.4h1.4M475.4 80.9h1.4M475.8 79.4h1.4M475.8 94.2h1.4M476.2 66.8h1.4M476.2 81.8h1.4M476.7 73.1h1.4M476.7 84.9h1.4M477.1 63.2h1.4M477.1 77.6h1.4M477.5 72.5h1.4M477.5 80.9h1.4M478.0 83.9h1.4M478.0 90.9h1.4M478.4 80.7h1.4M478.4 88.9h1.4M478.8 90.7h1.4M478.8 96.5h1.4M479.2 90.8h1.4M479.2 96.5h1.4M479.7 84.6h1.4M479.7 91.1h1.4M480.1 89.2h1.4M480.1 95.8h1.4M481.0 106.3h1.4M481.0 107.5h1.4M481.4 64.5h1.4M481.4 73.5h1.4M481.8 70.6h1.4M481.8 79.0h1.4M482.3 64.5h1.4M482.3 78.3h1.4M482.7 67.0h1.4M482.7 78.2h1.4M483.1 68.2h1.4M483.1 82.1h1.4M483.6 81.0h1.4M483.6 93.1h1.4M484.0 64.5h1.4M484.0 76.6h1.4M484.4 71.1h1.4M484.4 85.1h1.4M484.8 85.7h1.4M484.8 94.8h1.4M485.3 81.7h1.4M485.3 89.5h1.4M485.7 71.2h1.4M485.7 77.7h1.4M486.1 64.7h1.4M486.1 78.8h1.4M486.6 71.7h1.4M486.6 79.5h1.4M487.0 76.4h1.4M487.0 89.9h1.4M487.4 82.8h1.4M487.4 93.8h1.4M487.9 83.8h1.4M487.9 95.1h1.4M488.3 85.3h1.4M488.3 90.4h1.4M488.7 90.1h1.4M488.7 95.2h1.4M489.2 89.9h1.4M489.2 94.9h1.4M489.6 87.1h1.4M489.6 94.7h1.4M490.0 72.1h1.4M490.0 76.3h1.4M490.4 104.1h1.4M490.4 105.3h1.4M490.9 83.5h1.4M490.9 87.4h1.4M491.3 80.4h1.4M491.3 84.6h1.4M491.7 81.1h1.4M491.7 86.5h1.4M492.2 88.9h1.4M492.2 93.2h1.4M492.6 88.6h1.4M492.6 93.0h1.4M493.0 79.7h1.4M493.0 86.0h1.4M493.5 80.4h1.4M493.5 85.1h1.4M494.3 82.3h1.4M494.3 91.6h1.4M494.8 82.0h1.4M494.8 93.1h1.4M495.2 81.5h1.4M495.2 91.2h1.4M495.6 87.2h1.4M495.6 93.5h1.4M496.0 61.8h1.4M496.0 69.9h1.4M496.5 88.1h1.4M496.5 93.7h1.4M496.9 88.3h1.4M496.9 93.8h1.4M497.3 88.6h1.4M497.3 93.9h1.4M497.8 88.8h1.4M497.8 94.1h1.4M498.2 89.0h1.4M498.2 94.2h1.4M498.6 84.1h1.4M498.6 91.6h1.4M499.1 70.7h1.4M499.1 79.3h1.4M499.5 82.4h1.4M499.5 91.7h1.4M499.9 86.5h1.4M499.9 91.8h1.4M500.3 76.3h1.4M500.3 86.8h1.4M500.8 67.4h1.4M500.8 76.0h1.4M501.2 78.5h1.4M501.2 84.3h1.4M501.6 107.8h1.4M501.6 109.0h1.4M502.5 69.3h1.4M502.5 77.9h1.4M502.9 75.0h1.4M502.9 81.9h1.4M503.4 68.7h1.4M503.4 76.0h1.4M503.8 74.2h1.4M503.8 81.1h1.4M504.2 63.6h1.4M504.2 77.4h1.4M504.7 88.4h1.4M504.7 94.5h1.4M505.1 65.0h1.4M505.1 77.2h1.4M505.5 73.6h1.4M505.5 81.0h1.4M505.9 72.6h1.4M505.9 84.8h1.4M506.4 71.0h1.4M506.4 79.1h1.4M506.8 69.4h1.4M506.8 79.7h1.4M507.2 82.7h1.4M507.2 88.6h1.4M507.7 72.2h1.4M507.7 86.0h1.4M508.1 86.5h1.4M508.1 94.5h1.4M508.5 73.6h1.4M508.5 85.4h1.4M509.0 85.4h1.4M509.0 92.2h1.4M509.4 71.4h1.4M509.4 78.9h1.4M509.8 64.7h1.4M509.8 76.9h1.4M510.3 78.8h1.4M510.3 90.5h1.4M510.7 70.4h1.4M510.7 81.2h1.4M511.1 57.4h1.4M511.1 58.6h1.4M511.5 76.3h1.4M511.5 87.1h1.4M512.0 64.8h1.4M512.0 70.3h1.4M512.4 65.6h1.4M512.4 77.8h1.4M512.8 68.7h1.4M512.8 80.5h1.4M513.3 77.1h1.4M513.3 86.0h1.4M513.7 73.7h1.4M513.7 82.6h1.4M514.1 68.3h1.4M514.1 80.6h1.4M514.6 75.2h1.4M514.6 82.6h1.4M515.0 82.2h1.4M515.0 91.5h1.4M515.4 69.4h1.4M515.4 76.2h1.4M515.9 84.0h1.4M515.9 92.5h1.4M516.3 83.0h1.4M516.3 89.8h1.4M516.7 69.1h1.4M516.7 80.8h1.4M517.1 82.3h1.4M517.1 94.1h1.4M517.6 78.8h1.4M517.6 86.6h1.4M518.0 75.1h1.4M518.0 86.1h1.4M518.4 67.1h1.4M518.4 73.7h1.4M518.9 66.8h1.4M518.9 76.8h1.4M519.3 69.1h1.4M519.3 79.8h1.4M519.7 68.9h1.4M519.7 75.7h1.4M520.2 58.9h1.4M520.2 60.1h1.4M520.6 72.9h1.4M520.6 80.1h1.4M521.0 69.1h1.4M521.0 78.0h1.4M521.5 107.0h1.4M521.5 108.2h1.4M521.9 77.6h1.4M521.9 82.9h1.4M522.3 79.7h1.4M522.3 92.1h1.4M522.7 74.3h1.4M522.7 83.1h1.4M523.2 80.4h1.4M523.2 89.4h1.4M523.6 78.3h1.4M523.6 88.4h1.4M524.0 80.7h1.4M524.0 86.0h1.4M524.5 79.5h1.4M524.5 89.6h1.4M524.9 67.8h1.4M524.9 78.5h1.4M525.3 79.2h1.4M525.3 84.7h1.4M525.8 73.9h1.4M525.8 85.2h1.4M526.2 87.6h1.4M526.2 92.9h1.4M526.6 76.8h1.4M526.6 85.8h1.4M527.1 85.0h1.4M527.1 92.4h1.4M527.5 86.5h1.4M527.5 92.0h1.4M527.9 80.5h1.4M527.9 87.0h1.4M528.3 75.4h1.4M528.3 81.8h1.4M528.8 80.9h1.4M528.8 91.8h1.4M529.2 64.6h1.4M529.2 71.3h1.4M529.6 71.9h1.4M529.6 83.8h1.4M530.1 66.4h1.4M530.1 72.7h1.4M530.5 64.8h1.4M530.5 74.8h1.4M530.9 67.4h1.4M530.9 77.1h1.4M531.4 73.6h1.4M531.4 81.7h1.4M531.8 69.5h1.4M531.8 79.4h1.4M532.2 84.4h1.4M532.2 90.4h1.4M532.6 65.2h1.4M532.6 74.4h1.4M533.1 69.9h1.4M533.1 76.5h1.4M533.5 65.3h1.4M533.5 71.6h1.4M533.9 65.4h1.4M533.9 70.5h1.4M534.4 70.2h1.4M534.4 76.4h1.4" stroke="#ffa500" stroke-width="0.7" fill="none"/></g>
<g clip-path="url(#cBL)"><path d="M45.3 219.0V220.6M49.8 213.1V214.7M51.0 195.8V197.0M51.4 206.2V216.0M51.9 198.9V207.3M52.3 208.9V219.6M52.7 207.3V217.1M53.2 220.8V226.0M53.6 199.5V208.5M54.0 208.8V220.2M54.4 212.9V219.7M54.9 210.0V220.6M55.3 208.9V220.4M55.7 216.3V221.9M56.2 213.1V220.9M56.6 204.5V212.9M57.0 212.1V220.7M57.5 216.5V227.2M58.3 217.1V221.7M58.8 217.2V222.3M59.2 211.2V221.2M59.6 211.1V217.6M60.0 216.2V224.0M60.5 219.2V224.8M60.9 234.8V236.0M61.3 204.9V212.9M61.8 212.7V217.8M62.2 213.6V224.5M62.6 224.9V230.7M63.1 209.0V215.3M63.5 215.9V221.2M63.9 214.0V218.8M64.4 219.4V230.0M64.8 214.7V220.1M65.2 209.0V215.1M65.6 205.4V212.5M66.1 216.5V221.6M66.5 216.1V225.8M66.9 222.0V231.1M67.4 206.1V215.4M67.8 221.1V228.4M68.2 227.1V232.2M68.7 227.2V232.4M69.1 227.4V232.5M69.5 225.3V232.7M69.9 217.7V229.2M70.4 223.6V229.7M70.8 227.9V233.1M71.2 221.7V228.4M71.7 218.9V226.0M72.1 243.8V245.0M72.5 205.4V214.4M73.0 209.5V215.6M73.4 220.7V227.3M73.8 217.3V224.8M74.3 217.8V225.9M75.1 215.4V226.2M75.5 214.2V219.6M76.0 219.1V224.4M76.4 224.1V230.5M76.8 213.3V224.2M77.3 213.0V223.3M77.7 209.7V220.2M78.1 206.5V214.2M78.6 213.1V217.3M79.0 215.0V222.8M79.4 201.3V206.9M79.9 200.5V205.2M80.3 200.0V204.6M80.7 205.8V213.4M81.1 199.8V206.4M81.6 203.2V210.4M82.0 202.4V208.9M82.4 197.4V203.6M82.9 207.6V213.6M83.3 201.3V208.3M84.2 202.8V209.2M84.6 198.7V204.9M85.0 196.3V201.0M85.5 202.5V206.6M85.9 196.6V203.1M86.3 190.3V196.3M86.7 194.2V201.0M87.2 191.8V196.6M87.6 188.3V191.8M88.0 187.1V191.7M88.5 187.3V191.8M88.9 185.7V190.3M89.3 195.7V199.8M90.2 190.1V194.7M90.6 191.3V196.1M91.1 198.1V202.9M91.5 194.6V203.3M91.9 188.4V192.5M92.3 186.5V192.1M92.8 185.8V190.5M93.2 193.5V200.2M93.6 195.2V202.4M94.1 188.2V194.6M94.5 193.2V197.4M94.9 204.6V208.4M95.4 201.3V208.8M95.8 193.4V198.8M96.7 191.9V197.0M97.1 189.6V195.8M97.5 184.9V190.0M97.9 194.7V204.9M98.4 196.2V202.8M98.8 196.7V206.1M99.2 197.2V205.3M99.7 201.2V210.4M100.1 200.4V212.1M100.5 178.1V179.3M101.0 203.3V209.2M101.4 189.3V199.2M102.2 206.3V213.3M102.7 201.6V208.2M103.1 200.9V211.4M103.5 214.8V216.0M104.0 203.7V210.2M104.4 210.1V215.1M104.8 201.0V210.5M105.3 208.4V214.9M105.7 201.4V208.2M106.1 202.3V206.6M106.6 197.0V201.2M107.4 227.4V228.6M108.3 193.8V203.4M108.7 195.8V202.0M109.1 191.9V196.6M109.6 192.0V196.6M110.0 194.2V200.3M110.4 192.4V196.6M110.9 195.9V202.8M111.3 193.3V197.4M111.7 195.8V200.7M112.2 207.6V211.0M112.6 197.9V204.4M113.0 205.6V213.1M113.4 200.6V205.8M113.9 208.1V211.9M114.3 210.0V215.5M114.7 210.8V215.3M115.6 208.3V213.3M116.0 212.1V219.7M116.5 200.2V205.2M116.9 201.4V208.6M117.3 205.5V211.7M117.8 204.3V211.5M118.2 204.6V211.1M118.6 204.5V210.5M119.0 207.6V211.9M119.5 205.3V214.1M119.9 213.7V219.6M120.3 204.1V212.7M120.8 198.2V206.9M121.2 207.1V213.0M121.6 208.9V216.0M122.5 206.5V212.5M122.9 205.1V212.3M123.8 207.8V215.4M124.2 215.6V218.6M124.6 210.4V217.7M125.1 213.4V217.8M125.5 209.1V213.6M125.9 205.2V212.5M126.4 209.4V214.4M126.8 207.6V214.1M127.2 214.3V219.0M127.7 217.9V222.0M128.1 204.0V211.1M128.5 204.8V210.0M129.0 199.6V209.4M129.4 199.9V204.2M129.8 200.2V205.0M130.2 200.7V206.0M130.7 208.4V213.8M131.5 210.3V217.8M132.0 207.8V211.8M132.4 208.3V216.0M132.8 209.5V216.1M133.3 215.5V223.7M133.7 206.7V214.1M134.1 205.3V210.6M134.5 216.8V222.9M135.0 226.1V227.3M135.4 203.5V210.5M135.8 205.0V210.4M136.3 207.2V214.0M136.7 201.9V205.9M137.1 201.0V208.7M137.6 212.1V218.4M138.0 205.5V209.5M138.4 199.2V203.6M138.9 200.0V204.8M139.3 206.6V210.1M139.7 199.8V205.1M140.1 197.7V203.2M140.6 202.1V207.6M141.0 202.0V206.9M141.9 194.8V199.0M142.3 194.3V198.8M142.7 195.1V200.6M143.2 198.7V202.2M143.6 197.1V204.7M144.0 203.6V207.4M144.5 206.2V213.4M144.9 191.9V197.9M145.3 193.3V202.7M145.7 191.1V199.0M146.2 195.6V201.9M147.9 193.2V201.4M148.3 205.6V210.8M148.8 207.3V212.3M149.2 199.1V205.4M149.6 197.9V204.9M150.1 201.3V208.1M150.5 195.3V205.4M150.9 193.5V201.4M151.3 189.5V199.1M151.8 197.6V204.6M152.2 184.4V190.7M152.6 186.3V196.2M153.1 186.5V192.3M153.5 181.0V182.2M153.9 191.6V196.6M154.4 188.8V196.5M154.8 189.1V195.0M155.2 191.4V198.9M155.7 188.6V193.1M156.1 189.3V193.8M156.5 190.3V194.2M156.9 194.6V201.7M157.4 197.9V201.7M157.8 196.0V200.7M158.2 199.7V206.4M158.7 204.2V208.3M159.1 200.9V206.2M159.5 196.8V201.1M160.0 193.0V196.3M160.4 196.0V201.0M160.8 199.0V202.0M161.2 197.9V200.9M161.7 200.0V204.6M162.1 195.6V199.7M162.5 192.5V196.8M163.0 192.5V196.8M163.4 194.3V198.5M163.8 192.7V196.6M164.3 192.4V196.7M164.7 192.3V196.8M165.1 193.0V198.7M165.6 192.6V196.4M166.0 203.1V209.1M166.4 198.1V201.8M166.8 193.5V197.7M167.3 191.7V196.3M167.7 194.6V198.7M168.1 192.9V197.1M168.6 221.7V222.9M169.0 191.7V196.4M169.4 197.1V202.5M169.9 193.6V202.7M170.3 182.5V183.7M170.7 208.7V215.5M171.2 193.5V200.0M171.6 192.1V197.0M172.0 192.2V197.9M172.4 192.2V197.2M172.9 192.8V197.7M173.3 192.4V198.0M173.7 197.3V203.6M174.2 196.7V206.0M174.6 197.8V208.3M175.0 194.1V204.9M175.5 205.0V215.2M175.9 203.2V213.2M176.3 213.2V218.2M176.8 212.4V218.1M177.2 213.2V217.9M177.6 211.5V216.7M178.0 208.8V213.6M178.5 181.0V182.2M178.9 206.9V215.7M179.3 203.2V208.4M179.8 200.8V206.8M180.2 202.3V207.4M180.6 194.9V204.4M181.1 197.1V206.2M181.5 195.9V204.3M181.9 199.9V207.7M182.4 196.7V203.7M182.8 196.4V203.1M183.2 196.8V201.5M183.6 194.0V200.8M184.1 196.5V203.6M184.5 203.5V210.9M184.9 196.2V200.3M185.4 178.6V179.8M185.8 205.8V213.1M186.2 197.8V205.2M186.7 191.0V196.4M187.1 189.2V196.3M187.5 188.4V196.7M188.0 187.4V193.3M188.4 178.9V180.1M188.8 181.6V191.2M189.2 179.7V191.5M189.7 196.8V206.8M190.1 182.4V193.0M190.5 181.2V186.4M191.0 182.7V192.1M191.4 188.0V192.5M191.8 184.8V189.5M192.3 185.6V190.4M192.7 189.1V195.4M193.1 190.2V197.1M193.5 187.7V193.6M194.0 189.1V195.1M194.4 193.2V197.2M194.8 190.9V199.4M195.3 192.0V198.7M195.7 188.1V192.8M196.1 188.5V197.6M196.6 210.8V212.0M197.0 193.2V201.0M197.4 200.2V204.6M197.9 202.6V209.0M198.3 188.4V195.3M198.7 187.4V192.7M199.1 210.8V212.0M199.6 191.7V199.8M200.0 191.5V199.7M200.4 183.0V187.8M200.9 191.6V195.3M201.3 192.4V198.8M201.7 189.2V196.5M202.2 184.4V188.8M202.6 186.2V191.1M203.0 177.1V182.7M203.5 175.6V184.2M203.9 172.6V183.0M204.3 168.5V179.3M204.7 173.7V180.1M205.2 164.8V172.6M205.6 159.4V160.6M206.0 165.8V176.1M206.5 165.5V172.5M206.9 160.7V168.5M207.3 161.1V166.4M207.8 179.0V188.8M208.2 170.9V181.3M208.6 170.0V178.7M209.1 180.0V184.9M209.5 184.4V189.5M209.9 184.4V189.5M210.3 184.0V189.5M210.8 163.1V174.7M211.2 172.6V179.1M211.6 168.4V179.4M212.1 171.6V177.9M212.9 173.3V184.0M213.4 175.2V185.4M213.8 181.0V189.5M214.7 174.9V185.2M215.1 171.6V184.0M215.5 175.4V187.0M215.9 175.4V182.8M216.4 173.8V182.3M216.8 165.1V170.2M217.2 156.5V157.7M217.7 169.2V178.8M218.1 172.4V177.6M218.5 172.8V178.4M219.0 179.3V184.2M219.4 178.0V186.4M219.8 173.6V178.2M220.3 175.6V182.7M220.7 183.3V187.9M221.1 185.8V194.2M221.5 182.4V186.9M222.0 177.1V184.0M222.8 176.8V185.6M223.3 175.7V180.4M223.7 184.8V191.7M224.1 185.4V193.4M224.6 183.6V189.9M225.0 180.7V185.3M225.8 191.1V199.6M226.3 189.3V199.0M226.7 185.1V190.9M227.1 182.4V189.7M227.6 179.7V189.3M228.0 182.4V188.4M228.4 180.8V182.0M228.9 198.2V204.6M229.3 203.2V208.1M229.7 190.2V199.8M230.2 192.3V200.1M230.6 191.6V199.5M231.0 202.7V211.0M231.4 190.4V197.6M231.9 197.2V203.9M232.3 192.9V201.9M232.7 193.9V197.6M233.2 199.8V204.6M233.6 197.8V202.3M234.0 197.6V204.1M234.5 196.5V203.8M234.9 189.9V197.5M235.3 191.8V199.9M235.8 194.2V201.9M236.2 190.2V195.7M236.6 192.4V198.1M237.0 198.8V204.7M237.5 195.7V199.0M237.9 189.5V195.2M238.3 196.1V203.2M238.8 220.6V221.8M239.2 195.1V200.2M239.6 220.5V221.7M240.1 198.5V202.7M240.5 206.1V211.5M240.9 199.6V205.6M241.4 202.2V206.5M241.8 196.2V203.3M242.2 186.7V187.9M242.6 201.4V210.4M243.1 193.8V201.2M243.5 206.8V210.6M243.9 204.1V208.4M244.4 194.8V203.3M245.2 201.2V205.4M245.7 188.2V189.4M246.1 205.0V210.6M246.5 239.0V240.2M247.0 206.7V211.5M247.4 207.7V210.9M247.8 203.9V208.5M248.2 207.3V211.7M248.7 206.1V210.2M249.1 195.2V201.6M249.5 197.8V202.4M250.0 207.4V210.8M250.4 196.4V201.4M250.8 197.5V203.1M251.3 195.3V202.9M251.7 197.8V202.1M252.1 198.6V206.5M252.6 196.9V201.1M253.0 196.7V201.8M253.4 195.4V201.1M253.8 194.6V203.1M254.3 198.9V204.4M254.7 201.5V206.8M255.1 203.7V207.4M255.6 198.9V203.8M256.0 201.0V208.1M256.4 196.5V203.9M256.9 203.0V208.8M257.3 205.3V213.6M257.7 200.1V203.7M258.1 197.5V204.1M258.6 199.4V204.7M259.0 200.1V205.9M259.4 196.2V201.1M259.9 209.1V213.0" stroke="#1f77b4" stroke-width="0.75" fill="none"/>
<polyline points="45.3,219.8 49.8,213.9 51.0,196.4 51.4,211.1 51.9,203.1 52.3,214.3 52.7,212.2 53.2,223.4 53.6,204.0 54.0,214.5 54.4,216.3 54.9,215.3 55.3,214.7 55.7,219.1 56.2,217.0 56.6,208.7 57.0,216.4 57.5,221.9 58.3,219.4 58.8,219.7 59.2,216.2 59.6,214.3 60.0,220.1 60.5,222.0 60.9,235.4 61.3,208.9 61.8,215.2 62.2,219.0 62.6,227.8 63.1,212.1 63.5,218.5 63.9,216.4 64.4,224.7 64.8,217.4 65.2,212.0 65.6,209.0 66.1,219.0 66.5,221.0 66.9,226.6 67.4,210.7 67.8,224.7 68.2,229.7 68.7,229.8 69.1,229.9 69.5,229.0 69.9,223.4 70.4,226.6 70.8,230.5 71.2,225.1 71.7,222.4 72.1,244.4 72.5,209.9 73.0,212.5 73.4,224.0 73.8,221.1 74.3,221.8 75.1,220.8 75.5,216.9 76.0,221.8 76.4,227.3 76.8,218.7 77.3,218.1 77.7,214.9 78.1,210.3 78.6,215.2 79.0,218.9 79.4,204.1 79.9,202.8 80.3,202.3 80.7,209.6 81.1,203.1 81.6,206.8 82.0,205.7 82.4,200.5 82.9,210.6 83.3,204.8 84.2,206.0 84.6,201.8 85.0,198.6 85.5,204.5 85.9,199.9 86.3,193.3 86.7,197.6 87.2,194.2 87.6,190.1 88.0,189.4 88.5,189.5 88.9,188.0 89.3,197.8 90.2,192.4 90.6,193.7 91.1,200.5 91.5,198.9 91.9,190.5 92.3,189.3 92.8,188.1 93.2,196.8 93.6,198.8 94.1,191.4 94.5,195.3 94.9,206.5 95.4,205.0 95.8,196.1 96.7,194.5 97.1,192.7 97.5,187.4 97.9,199.8 98.4,199.5 98.8,201.4 99.2,201.2 99.7,205.8 100.1,206.3 100.5,178.7 101.0,206.3 101.4,194.2 102.2,209.8 102.7,204.9 103.1,206.1 103.5,215.4 104.0,206.9 104.4,212.6 104.8,205.8 105.3,211.7 105.7,204.8 106.1,204.5 106.6,199.1 107.4,228.0 108.3,198.6 108.7,198.9 109.1,194.2 109.6,194.3 110.0,197.3 110.4,194.5 110.9,199.4 111.3,195.4 111.7,198.3 112.2,209.3 112.6,201.2 113.0,209.3 113.4,203.2 113.9,210.0 114.3,212.8 114.7,213.1 115.6,210.8 116.0,215.9 116.5,202.7 116.9,205.0 117.3,208.6 117.8,207.9 118.2,207.9 118.6,207.5 119.0,209.7 119.5,209.7 119.9,216.7 120.3,208.4 120.8,202.6 121.2,210.0 121.6,212.5 122.5,209.5 122.9,208.7 123.8,211.6 124.2,217.1 124.6,214.0 125.1,215.6 125.5,211.3 125.9,208.9 126.4,211.9 126.8,210.9 127.2,216.7 127.7,219.9 128.1,207.5 128.5,207.4 129.0,204.5 129.4,202.0 129.8,202.6 130.2,203.3 130.7,211.1 131.5,214.1 132.0,209.8 132.4,212.1 132.8,212.8 133.3,219.6 133.7,210.4 134.1,208.0 134.5,219.8 135.0,226.7 135.4,207.0 135.8,207.7 136.3,210.6 136.7,203.9 137.1,204.9 137.6,215.2 138.0,207.5 138.4,201.4 138.9,202.4 139.3,208.3 139.7,202.4 140.1,200.4 140.6,204.8 141.0,204.5 141.9,196.9 142.3,196.5 142.7,197.8 143.2,200.4 143.6,200.9 144.0,205.5 144.5,209.8 144.9,194.9 145.3,198.0 145.7,195.0 146.2,198.8 147.9,197.3 148.3,208.2 148.8,209.8 149.2,202.3 149.6,201.4 150.1,204.7 150.5,200.3 150.9,197.5 151.3,194.3 151.8,201.1 152.2,187.5 152.6,191.2 153.1,189.4 153.5,181.6 153.9,194.1 154.4,192.6 154.8,192.0 155.2,195.1 155.7,190.8 156.1,191.5 156.5,192.2 156.9,198.2 157.4,199.8 157.8,198.3 158.2,203.0 158.7,206.3 159.1,203.5 159.5,198.9 160.0,194.6 160.4,198.5 160.8,200.5 161.2,199.4 161.7,202.3 162.1,197.6 162.5,194.6 163.0,194.6 163.4,196.4 163.8,194.6 164.3,194.6 164.7,194.6 165.1,195.8 165.6,194.5 166.0,206.1 166.4,199.9 166.8,195.6 167.3,194.0 167.7,196.6 168.1,195.0 168.6,222.3 169.0,194.1 169.4,199.8 169.9,198.1 170.3,183.1 170.7,212.1 171.2,196.8 171.6,194.6 172.0,195.0 172.4,194.7 172.9,195.2 173.3,195.2 173.7,200.5 174.2,201.3 174.6,203.0 175.0,199.5 175.5,210.1 175.9,208.2 176.3,215.7 176.8,215.3 177.2,215.6 177.6,214.1 178.0,211.2 178.5,181.6 178.9,211.3 179.3,205.8 179.8,203.8 180.2,204.8 180.6,199.6 181.1,201.7 181.5,200.1 181.9,203.8 182.4,200.2 182.8,199.7 183.2,199.2 183.6,197.4 184.1,200.1 184.5,207.2 184.9,198.3 185.4,179.2 185.8,209.5 186.2,201.5 186.7,193.7 187.1,192.8 187.5,192.5 188.0,190.4 188.4,179.5 188.8,186.4 189.2,185.6 189.7,201.8 190.1,187.7 190.5,183.8 191.0,187.4 191.4,190.3 191.8,187.1 192.3,188.0 192.7,192.3 193.1,193.6 193.5,190.6 194.0,192.1 194.4,195.2 194.8,195.1 195.3,195.4 195.7,190.5 196.1,193.0 196.6,211.4 197.0,197.1 197.4,202.4 197.9,205.8 198.3,191.9 198.7,190.1 199.1,211.4 199.6,195.8 200.0,195.6 200.4,185.4 200.9,193.5 201.3,195.6 201.7,192.9 202.2,186.6 202.6,188.7 203.0,179.9 203.5,179.9 203.9,177.8 204.3,173.9 204.7,176.9 205.2,168.7 205.6,160.0 206.0,170.9 206.5,169.0 206.9,164.6 207.3,163.8 207.8,183.9 208.2,176.1 208.6,174.3 209.1,182.4 209.5,186.9 209.9,187.0 210.3,186.8 210.8,168.9 211.2,175.8 211.6,173.9 212.1,174.7 212.9,178.6 213.4,180.3 213.8,185.3 214.7,180.0 215.1,177.8 215.5,181.2 215.9,179.1 216.4,178.1 216.8,167.7 217.2,157.1 217.7,174.0 218.1,175.0 218.5,175.6 219.0,181.8 219.4,182.2 219.8,175.9 220.3,179.2 220.7,185.6 221.1,190.0 221.5,184.6 222.0,180.5 222.8,181.2 223.3,178.1 223.7,188.3 224.1,189.4 224.6,186.7 225.0,183.0 225.8,195.4 226.3,194.1 226.7,188.0 227.1,186.0 227.6,184.5 228.0,185.4 228.4,181.4 228.9,201.4 229.3,205.7 229.7,195.0 230.2,196.2 230.6,195.6 231.0,206.8 231.4,194.0 231.9,200.5 232.3,197.4 232.7,195.8 233.2,202.2 233.6,200.0 234.0,200.8 234.5,200.2 234.9,193.7 235.3,195.9 235.8,198.0 236.2,193.0 236.6,195.2 237.0,201.8 237.5,197.4 237.9,192.3 238.3,199.6 238.8,221.2 239.2,197.6 239.6,221.1 240.1,200.6 240.5,208.8 240.9,202.6 241.4,204.4 241.8,199.7 242.2,187.3 242.6,205.9 243.1,197.5 243.5,208.7 243.9,206.2 244.4,199.1 245.2,203.3 245.7,188.8 246.1,207.8 246.5,239.6 247.0,209.1 247.4,209.3 247.8,206.2 248.2,209.5 248.7,208.1 249.1,198.4 249.5,200.1 250.0,209.1 250.4,198.9 250.8,200.3 251.3,199.1 251.7,199.9 252.1,202.6 252.6,199.0 253.0,199.3 253.4,198.3 253.8,198.8 254.3,201.6 254.7,204.2 255.1,205.5 255.6,201.3 256.0,204.6 256.4,200.2 256.9,205.9 257.3,209.5 257.7,201.9 258.1,200.8 258.6,202.1 259.0,203.0 259.4,198.6 259.9,211.1" stroke="#1f77b4" stroke-width="0.55" fill="none" stroke-linejoin="round"/>
<path d="M45.3 219.8h0M49.8 213.9h0M51.0 196.4h0M51.4 211.1h0M51.9 203.1h0M52.3 214.3h0M52.7 212.2h0M53.2 223.4h0M53.6 204.0h0M54.0 214.5h0M54.4 216.3h0M54.9 215.3h0M55.3 214.7h0M55.7 219.1h0M56.2 217.0h0M56.6 208.7h0M57.0 216.4h0M57.5 221.9h0M58.3 219.4h0M58.8 219.7h0M59.2 216.2h0M59.6 214.3h0M60.0 220.1h0M60.5 222.0h0M60.9 235.4h0M61.3 208.9h0M61.8 215.2h0M62.2 219.0h0M62.6 227.8h0M63.1 212.1h0M63.5 218.5h0M63.9 216.4h0M64.4 224.7h0M64.8 217.4h0M65.2 212.0h0M65.6 209.0h0M66.1 219.0h0M66.5 221.0h0M66.9 226.6h0M67.4 210.7h0M67.8 224.7h0M68.2 229.7h0M68.7 229.8h0M69.1 229.9h0M69.5 229.0h0M69.9 223.4h0M70.4 226.6h0M70.8 230.5h0M71.2 225.1h0M71.7 222.4h0M72.1 244.4h0M72.5 209.9h0M73.0 212.5h0M73.4 224.0h0M73.8 221.1h0M74.3 221.8h0M75.1 220.8h0M75.5 216.9h0M76.0 221.8h0M76.4 227.3h0M76.8 218.7h0M77.3 218.1h0M77.7 214.9h0M78.1 210.3h0M78.6 215.2h0M79.0 218.9h0M79.4 204.1h0M79.9 202.8h0M80.3 202.3h0M80.7 209.6h0M81.1 203.1h0M81.6 206.8h0M82.0 205.7h0M82.4 200.5h0M82.9 210.6h0M83.3 204.8h0M84.2 206.0h0M84.6 201.8h0M85.0 198.6h0M85.5 204.5h0M85.9 199.9h0M86.3 193.3h0M86.7 197.6h0M87.2 194.2h0M87.6 190.1h0M88.0 189.4h0M88.5 189.5h0M88.9 188.0h0M89.3 197.8h0M90.2 192.4h0M90.6 193.7h0M91.1 200.5h0M91.5 198.9h0M91.9 190.5h0M92.3 189.3h0M92.8 188.1h0M93.2 196.8h0M93.6 198.8h0M94.1 191.4h0M94.5 195.3h0M94.9 206.5h0M95.4 205.0h0M95.8 196.1h0M96.7 194.5h0M97.1 192.7h0M97.5 187.4h0M97.9 199.8h0M98.4 199.5h0M98.8 201.4h0M99.2 201.2h0M99.7 205.8h0M100.1 206.3h0M100.5 178.7h0M101.0 206.3h0M101.4 194.2h0M102.2 209.8h0M102.7 204.9h0M103.1 206.1h0M103.5 215.4h0M104.0 206.9h0M104.4 212.6h0M104.8 205.8h0M105.3 211.7h0M105.7 204.8h0M106.1 204.5h0M106.6 199.1h0M107.4 228.0h0M108.3 198.6h0M108.7 198.9h0M109.1 194.2h0M109.6 194.3h0M110.0 197.3h0M110.4 194.5h0M110.9 199.4h0M111.3 195.4h0M111.7 198.3h0M112.2 209.3h0M112.6 201.2h0M113.0 209.3h0M113.4 203.2h0M113.9 210.0h0M114.3 212.8h0M114.7 213.1h0M115.6 210.8h0M116.0 215.9h0M116.5 202.7h0M116.9 205.0h0M117.3 208.6h0M117.8 207.9h0M118.2 207.9h0M118.6 207.5h0M119.0 209.7h0M119.5 209.7h0M119.9 216.7h0M120.3 208.4h0M120.8 202.6h0M121.2 210.0h0M121.6 212.5h0M122.5 209.5h0M122.9 208.7h0M123.8 211.6h0M124.2 217.1h0M124.6 214.0h0M125.1 215.6h0M125.5 211.3h0M125.9 208.9h0M126.4 211.9h0M126.8 210.9h0M127.2 216.7h0M127.7 219.9h0M128.1 207.5h0M128.5 207.4h0M129.0 204.5h0M129.4 202.0h0M129.8 202.6h0M130.2 203.3h0M130.7 211.1h0M131.5 214.1h0M132.0 209.8h0M132.4 212.1h0M132.8 212.8h0M133.3 219.6h0M133.7 210.4h0M134.1 208.0h0M134.5 219.8h0M135.0 226.7h0M135.4 207.0h0M135.8 207.7h0M136.3 210.6h0M136.7 203.9h0M137.1 204.9h0M137.6 215.2h0M138.0 207.5h0M138.4 201.4h0M138.9 202.4h0M139.3 208.3h0M139.7 202.4h0M140.1 200.4h0M140.6 204.8h0M141.0 204.5h0M141.9 196.9h0M142.3 196.5h0M142.7 197.8h0M143.2 200.4h0M143.6 200.9h0M144.0 205.5h0M144.5 209.8h0M144.9 194.9h0M145.3 198.0h0M145.7 195.0h0M146.2 198.8h0M147.9 197.3h0M148.3 208.2h0M148.8 209.8h0M149.2 202.3h0M149.6 201.4h0M150.1 204.7h0M150.5 200.3h0M150.9 197.5h0M151.3 194.3h0M151.8 201.1h0M152.2 187.5h0M152.6 191.2h0M153.1 189.4h0M153.5 181.6h0M153.9 194.1h0M154.4 192.6h0M154.8 192.0h0M155.2 195.1h0M155.7 190.8h0M156.1 191.5h0M156.5 192.2h0M156.9 198.2h0M157.4 199.8h0M157.8 198.3h0M158.2 203.0h0M158.7 206.3h0M159.1 203.5h0M159.5 198.9h0M160.0 194.6h0M160.4 198.5h0M160.8 200.5h0M161.2 199.4h0M161.7 202.3h0M162.1 197.6h0M162.5 194.6h0M163.0 194.6h0M163.4 196.4h0M163.8 194.6h0M164.3 194.6h0M164.7 194.6h0M165.1 195.8h0M165.6 194.5h0M166.0 206.1h0M166.4 199.9h0M166.8 195.6h0M167.3 194.0h0M167.7 196.6h0M168.1 195.0h0M168.6 222.3h0M169.0 194.1h0M169.4 199.8h0M169.9 198.1h0M170.3 183.1h0M170.7 212.1h0M171.2 196.8h0M171.6 194.6h0M172.0 195.0h0M172.4 194.7h0M172.9 195.2h0M173.3 195.2h0M173.7 200.5h0M174.2 201.3h0M174.6 203.0h0M175.0 199.5h0M175.5 210.1h0M175.9 208.2h0M176.3 215.7h0M176.8 215.3h0M177.2 215.6h0M177.6 214.1h0M178.0 211.2h0M178.5 181.6h0M178.9 211.3h0M179.3 205.8h0M179.8 203.8h0M180.2 204.8h0M180.6 199.6h0M181.1 201.7h0M181.5 200.1h0M181.9 203.8h0M182.4 200.2h0M182.8 199.7h0M183.2 199.2h0M183.6 197.4h0M184.1 200.1h0M184.5 207.2h0M184.9 198.3h0M185.4 179.2h0M185.8 209.5h0M186.2 201.5h0M186.7 193.7h0M187.1 192.8h0M187.5 192.5h0M188.0 190.4h0M188.4 179.5h0M188.8 186.4h0M189.2 185.6h0M189.7 201.8h0M190.1 187.7h0M190.5 183.8h0M191.0 187.4h0M191.4 190.3h0M191.8 187.1h0M192.3 188.0h0M192.7 192.3h0M193.1 193.6h0M193.5 190.6h0M194.0 192.1h0M194.4 195.2h0M194.8 195.1h0M195.3 195.4h0M195.7 190.5h0M196.1 193.0h0M196.6 211.4h0M197.0 197.1h0M197.4 202.4h0M197.9 205.8h0M198.3 191.9h0M198.7 190.1h0M199.1 211.4h0M199.6 195.8h0M200.0 195.6h0M200.4 185.4h0M200.9 193.5h0M201.3 195.6h0M201.7 192.9h0M202.2 186.6h0M202.6 188.7h0M203.0 179.9h0M203.5 179.9h0M203.9 177.8h0M204.3 173.9h0M204.7 176.9h0M205.2 168.7h0M205.6 160.0h0M206.0 170.9h0M206.5 169.0h0M206.9 164.6h0M207.3 163.8h0M207.8 183.9h0M208.2 176.1h0M208.6 174.3h0M209.1 182.4h0M209.5 186.9h0M209.9 187.0h0M210.3 186.8h0M210.8 168.9h0M211.2 175.8h0M211.6 173.9h0M212.1 174.7h0M212.9 178.6h0M213.4 180.3h0M213.8 185.3h0M214.7 180.0h0M215.1 177.8h0M215.5 181.2h0M215.9 179.1h0M216.4 178.1h0M216.8 167.7h0M217.2 157.1h0M217.7 174.0h0M218.1 175.0h0M218.5 175.6h0M219.0 181.8h0M219.4 182.2h0M219.8 175.9h0M220.3 179.2h0M220.7 185.6h0M221.1 190.0h0M221.5 184.6h0M222.0 180.5h0M222.8 181.2h0M223.3 178.1h0M223.7 188.3h0M224.1 189.4h0M224.6 186.7h0M225.0 183.0h0M225.8 195.4h0M226.3 194.1h0M226.7 188.0h0M227.1 186.0h0M227.6 184.5h0M228.0 185.4h0M228.4 181.4h0M228.9 201.4h0M229.3 205.7h0M229.7 195.0h0M230.2 196.2h0M230.6 195.6h0M231.0 206.8h0M231.4 194.0h0M231.9 200.5h0M232.3 197.4h0M232.7 195.8h0M233.2 202.2h0M233.6 200.0h0M234.0 200.8h0M234.5 200.2h0M234.9 193.7h0M235.3 195.9h0M235.8 198.0h0M236.2 193.0h0M236.6 195.2h0M237.0 201.8h0M237.5 197.4h0M237.9 192.3h0M238.3 199.6h0M238.8 221.2h0M239.2 197.6h0M239.6 221.1h0M240.1 200.6h0M240.5 208.8h0M240.9 202.6h0M241.4 204.4h0M241.8 199.7h0M242.2 187.3h0M242.6 205.9h0M243.1 197.5h0M243.5 208.7h0M243.9 206.2h0M244.4 199.1h0M245.2 203.3h0M245.7 188.8h0M246.1 207.8h0M246.5 239.6h0M247.0 209.1h0M247.4 209.3h0M247.8 206.2h0M248.2 209.5h0M248.7 208.1h0M249.1 198.4h0M249.5 200.1h0M250.0 209.1h0M250.4 198.9h0M250.8 200.3h0M251.3 199.1h0M251.7 199.9h0M252.1 202.6h0M252.6 199.0h0M253.0 199.3h0M253.4 198.3h0M253.8 198.8h0M254.3 201.6h0M254.7 204.2h0M255.1 205.5h0M255.6 201.3h0M256.0 204.6h0M256.4 200.2h0M256.9 205.9h0M257.3 209.5h0M257.7 201.9h0M258.1 200.8h0M258.6 202.1h0M259.0 203.0h0M259.4 198.6h0M259.9 211.1h0" stroke="#1f77b4" stroke-width="1.9" stroke-linecap="round" fill="none"/>
<path d="M44.6 219.0h1.4M44.6 220.6h1.4M49.1 213.1h1.4M49.1 214.7h1.4M50.3 195.8h1.4M50.3 197.0h1.4M50.7 206.2h1.4M50.7 216.0h1.4M51.2 198.9h1.4M51.2 207.3h1.4M51.6 208.9h1.4M51.6 219.6h1.4M52.0 207.3h1.4M52.0 217.1h1.4M52.5 220.8h1.4M52.5 226.0h1.4M52.9 199.5h1.4M52.9 208.5h1.4M53.3 208.8h1.4M53.3 220.2h1.4M53.7 212.9h1.4M53.7 219.7h1.4M54.2 210.0h1.4M54.2 220.6h1.4M54.6 208.9h1.4M54.6 220.4h1.4M55.0 216.3h1.4M55.0 221.9h1.4M55.5 213.1h1.4M55.5 220.9h1.4M55.9 204.5h1.4M55.9 212.9h1.4M56.3 212.1h1.4M56.3 220.7h1.4M56.8 216.5h1.4M56.8 227.2h1.4M57.6 217.1h1.4M57.6 221.7h1.4M58.1 217.2h1.4M58.1 222.3h1.4M58.5 211.2h1.4M58.5 221.2h1.4M58.9 211.1h1.4M58.9 217.6h1.4M59.3 216.2h1.4M59.3 224.0h1.4M59.8 219.2h1.4M59.8 224.8h1.4M60.2 234.8h1.4M60.2 236.0h1.4M60.6 204.9h1.4M60.6 212.9h1.4M61.1 212.7h1.4M61.1 217.8h1.4M61.5 213.6h1.4M61.5 224.5h1.4M61.9 224.9h1.4M61.9 230.7h1.4M62.4 209.0h1.4M62.4 215.3h1.4M62.8 215.9h1.4M62.8 221.2h1.4M63.2 214.0h1.4M63.2 218.8h1.4M63.7 219.4h1.4M63.7 230.0h1.4M64.1 214.7h1.4M64.1 220.1h1.4M64.5 209.0h1.4M64.5 215.1h1.4M64.9 205.4h1.4M64.9 212.5h1.4M65.4 216.5h1.4M65.4 221.6h1.4M65.8 216.1h1.4M65.8 225.8h1.4M66.2 222.0h1.4M66.2 231.1h1.4M66.7 206.1h1.4M66.7 215.4h1.4M67.1 221.1h1.4M67.1 228.4h1.4M67.5 227.1h1.4M67.5 232.2h1.4M68.0 227.2h1.4M68.0 232.4h1.4M68.4 227.4h1.4M68.4 232.5h1.4M68.8 225.3h1.4M68.8 232.7h1.4M69.2 217.7h1.4M69.2 229.2h1.4M69.7 223.6h1.4M69.7 229.7h1.4M70.1 227.9h1.4M70.1 233.1h1.4M70.5 221.7h1.4M70.5 228.4h1.4M71.0 218.9h1.4M71.0 226.0h1.4M71.4 243.8h1.4M71.4 245.0h1.4M71.8 205.4h1.4M71.8 214.4h1.4M72.3 209.5h1.4M72.3 215.6h1.4M72.7 220.7h1.4M72.7 227.3h1.4M73.1 217.3h1.4M73.1 224.8h1.4M73.6 217.8h1.4M73.6 225.9h1.4M74.4 215.4h1.4M74.4 226.2h1.4M74.8 214.2h1.4M74.8 219.6h1.4M75.3 219.1h1.4M75.3 224.4h1.4M75.7 224.1h1.4M75.7 230.5h1.4M76.1 213.3h1.4M76.1 224.2h1.4M76.6 213.0h1.4M76.6 223.3h1.4M77.0 209.7h1.4M77.0 220.2h1.4M77.4 206.5h1.4M77.4 214.2h1.4M77.9 213.1h1.4M77.9 217.3h1.4M78.3 215.0h1.4M78.3 222.8h1.4M78.7 201.3h1.4M78.7 206.9h1.4M79.2 200.5h1.4M79.2 205.2h1.4M79.6 200.0h1.4M79.6 204.6h1.4M80.0 205.8h1.4M80.0 213.4h1.4M80.4 199.8h1.4M80.4 206.4h1.4M80.9 203.2h1.4M80.9 210.4h1.4M81.3 202.4h1.4M81.3 208.9h1.4M81.7 197.4h1.4M81.7 203.6h1.4M82.2 207.6h1.4M82.2 213.6h1.4M82.6 201.3h1.4M82.6 208.3h1.4M83.5 202.8h1.4M83.5 209.2h1.4M83.9 198.7h1.4M83.9 204.9h1.4M84.3 196.3h1.4M84.3 201.0h1.4M84.8 202.5h1.4M84.8 206.6h1.4M85.2 196.6h1.4M85.2 203.1h1.4M85.6 190.3h1.4M85.6 196.3h1.4M86.0 194.2h1.4M86.0 201.0h1.4M86.5 191.8h1.4M86.5 196.6h1.4M86.9 188.3h1.4M86.9 191.8h1.4M87.3 187.1h1.4M87.3 191.7h1.4M87.8 187.3h1.4M87.8 191.8h1.4M88.2 185.7h1.4M88.2 190.3h1.4M88.6 195.7h1.4M88.6 199.8h1.4M89.5 190.1h1.4M89.5 194.7h1.4M89.9 191.3h1.4M89.9 196.1h1.4M90.4 198.1h1.4M90.4 202.9h1.4M90.8 194.6h1.4M90.8 203.3h1.4M91.2 188.4h1.4M91.2 192.5h1.4M91.6 186.5h1.4M91.6 192.1h1.4M92.1 185.8h1.4M92.1 190.5h1.4M92.5 193.5h1.4M92.5 200.2h1.4M92.9 195.2h1.4M92.9 202.4h1.4M93.4 188.2h1.4M93.4 194.6h1.4M93.8 193.2h1.4M93.8 197.4h1.4M94.2 204.6h1.4M94.2 208.4h1.4M94.7 201.3h1.4M94.7 208.8h1.4M95.1 193.4h1.4M95.1 198.8h1.4M96.0 191.9h1.4M96.0 197.0h1.4M96.4 189.6h1.4M96.4 195.8h1.4M96.8 184.9h1.4M96.8 190.0h1.4M97.2 194.7h1.4M97.2 204.9h1.4M97.7 196.2h1.4M97.7 202.8h1.4M98.1 196.7h1.4M98.1 206.1h1.4M98.5 197.2h1.4M98.5 205.3h1.4M99.0 201.2h1.4M99.0 210.4h1.4M99.4 200.4h1.4M99.4 212.1h1.4M99.8 178.1h1.4M99.8 179.3h1.4M100.3 203.3h1.4M100.3 209.2h1.4M100.7 189.3h1.4M100.7 199.2h1.4M101.5 206.3h1.4M101.5 213.3h1.4M102.0 201.6h1.4M102.0 208.2h1.4M102.4 200.9h1.4M102.4 211.4h1.4M102.8 214.8h1.4M102.8 216.0h1.4M103.3 203.7h1.4M103.3 210.2h1.4M103.7 210.1h1.4M103.7 215.1h1.4M104.1 201.0h1.4M104.1 210.5h1.4M104.6 208.4h1.4M104.6 214.9h1.4M105.0 201.4h1.4M105.0 208.2h1.4M105.4 202.3h1.4M105.4 206.6h1.4M105.9 197.0h1.4M105.9 201.2h1.4M106.7 227.4h1.4M106.7 228.6h1.4M107.6 193.8h1.4M107.6 203.4h1.4M108.0 195.8h1.4M108.0 202.0h1.4M108.4 191.9h1.4M108.4 196.6h1.4M108.9 192.0h1.4M108.9 196.6h1.4M109.3 194.2h1.4M109.3 200.3h1.4M109.7 192.4h1.4M109.7 196.6h1.4M110.2 195.9h1.4M110.2 202.8h1.4M110.6 193.3h1.4M110.6 197.4h1.4M111.0 195.8h1.4M111.0 200.7h1.4M111.5 207.6h1.4M111.5 211.0h1.4M111.9 197.9h1.4M111.9 204.4h1.4M112.3 205.6h1.4M112.3 213.1h1.4M112.7 200.6h1.4M112.7 205.8h1.4M113.2 208.1h1.4M113.2 211.9h1.4M113.6 210.0h1.4M113.6 215.5h1.4M114.0 210.8h1.4M114.0 215.3h1.4M114.9 208.3h1.4M114.9 213.3h1.4M115.3 212.1h1.4M115.3 219.7h1.4M115.8 200.2h1.4M115.8 205.2h1.4M116.2 201.4h1.4M116.2 208.6h1.4M116.6 205.5h1.4M116.6 211.7h1.4M117.1 204.3h1.4M117.1 211.5h1.4M117.5 204.6h1.4M117.5 211.1h1.4M117.9 204.5h1.4M117.9 210.5h1.4M118.3 207.6h1.4M118.3 211.9h1.4M118.8 205.3h1.4M118.8 214.1h1.4M119.2 213.7h1.4M119.2 219.6h1.4M119.6 204.1h1.4M119.6 212.7h1.4M120.1 198.2h1.4M120.1 206.9h1.4M120.5 207.1h1.4M120.5 213.0h1.4M120.9 208.9h1.4M120.9 216.0h1.4M121.8 206.5h1.4M121.8 212.5h1.4M122.2 205.1h1.4M122.2 212.3h1.4M123.1 207.8h1.4M123.1 215.4h1.4M123.5 215.6h1.4M123.5 218.6h1.4M123.9 210.4h1.4M123.9 217.7h1.4M124.4 213.4h1.4M124.4 217.8h1.4M124.8 209.1h1.4M124.8 213.6h1.4M125.2 205.2h1.4M125.2 212.5h1.4M125.7 209.4h1.4M125.7 214.4h1.4M126.1 207.6h1.4M126.1 214.1h1.4M126.5 214.3h1.4M126.5 219.0h1.4M127.0 217.9h1.4M127.0 222.0h1.4M127.4 204.0h1.4M127.4 211.1h1.4M127.8 204.8h1.4M127.8 210.0h1.4M128.3 199.6h1.4M128.3 209.4h1.4M128.7 199.9h1.4M128.7 204.2h1.4M129.1 200.2h1.4M129.1 205.0h1.4M129.5 200.7h1.4M129.5 206.0h1.4M130.0 208.4h1.4M130.0 213.8h1.4M130.8 210.3h1.4M130.8 217.8h1.4M131.3 207.8h1.4M131.3 211.8h1.4M131.7 208.3h1.4M131.7 216.0h1.4M132.1 209.5h1.4M132.1 216.1h1.4M132.6 215.5h1.4M132.6 223.7h1.4M133.0 206.7h1.4M133.0 214.1h1.4M133.4 205.3h1.4M133.4 210.6h1.4M133.8 216.8h1.4M133.8 222.9h1.4M134.3 226.1h1.4M134.3 227.3h1.4M134.7 203.5h1.4M134.7 210.5h1.4M135.1 205.0h1.4M135.1 210.4h1.4M135.6 207.2h1.4M135.6 214.0h1.4M136.0 201.9h1.4M136.0 205.9h1.4M136.4 201.0h1.4M136.4 208.7h1.4M136.9 212.1h1.4M136.9 218.4h1.4M137.3 205.5h1.4M137.3 209.5h1.4M137.7 199.2h1.4M137.7 203.6h1.4M138.2 200.0h1.4M138.2 204.8h1.4M138.6 206.6h1.4M138.6 210.1h1.4M139.0 199.8h1.4M139.0 205.1h1.4M139.4 197.7h1.4M139.4 203.2h1.4M139.9 202.1h1.4M139.9 207.6h1.4M140.3 202.0h1.4M140.3 206.9h1.4M141.2 194.8h1.4M141.2 199.0h1.4M141.6 194.3h1.4M141.6 198.8h1.4M142.0 195.1h1.4M142.0 200.6h1.4M142.5 198.7h1.4M142.5 202.2h1.4M142.9 197.1h1.4M142.9 204.7h1.4M143.3 203.6h1.4M143.3 207.4h1.4M143.8 206.2h1.4M143.8 213.4h1.4M144.2 191.9h1.4M144.2 197.9h1.4M144.6 193.3h1.4M144.6 202.7h1.4M145.0 191.1h1.4M145.0 199.0h1.4M145.5 195.6h1.4M145.5 201.9h1.4M147.2 193.2h1.4M147.2 201.4h1.4M147.6 205.6h1.4M147.6 210.8h1.4M148.1 207.3h1.4M148.1 212.3h1.4M148.5 199.1h1.4M148.5 205.4h1.4M148.9 197.9h1.4M148.9 204.9h1.4M149.4 201.3h1.4M149.4 208.1h1.4M149.8 195.3h1.4M149.8 205.4h1.4M150.2 193.5h1.4M150.2 201.4h1.4M150.6 189.5h1.4M150.6 199.1h1.4M151.1 197.6h1.4M151.1 204.6h1.4M151.5 184.4h1.4M151.5 190.7h1.4M151.9 186.3h1.4M151.9 196.2h1.4M152.4 186.5h1.4M152.4 192.3h1.4M152.8 181.0h1.4M152.8 182.2h1.4M153.2 191.6h1.4M153.2 196.6h1.4M153.7 188.8h1.4M153.7 196.5h1.4M154.1 189.1h1.4M154.1 195.0h1.4M154.5 191.4h1.4M154.5 198.9h1.4M155.0 188.6h1.4M155.0 193.1h1.4M155.4 189.3h1.4M155.4 193.8h1.4M155.8 190.3h1.4M155.8 194.2h1.4M156.2 194.6h1.4M156.2 201.7h1.4M156.7 197.9h1.4M156.7 201.7h1.4M157.1 196.0h1.4M157.1 200.7h1.4M157.5 199.7h1.4M157.5 206.4h1.4M158.0 204.2h1.4M158.0 208.3h1.4M158.4 200.9h1.4M158.4 206.2h1.4M158.8 196.8h1.4M158.8 201.1h1.4M159.3 193.0h1.4M159.3 196.3h1.4M159.7 196.0h1.4M159.7 201.0h1.4M160.1 199.0h1.4M160.1 202.0h1.4M160.5 197.9h1.4M160.5 200.9h1.4M161.0 200.0h1.4M161.0 204.6h1.4M161.4 195.6h1.4M161.4 199.7h1.4M161.8 192.5h1.4M161.8 196.8h1.4M162.3 192.5h1.4M162.3 196.8h1.4M162.7 194.3h1.4M162.7 198.5h1.4M163.1 192.7h1.4M163.1 196.6h1.4M163.6 192.4h1.4M163.6 196.7h1.4M164.0 192.3h1.4M164.0 196.8h1.4M164.4 193.0h1.4M164.4 198.7h1.4M164.9 192.6h1.4M164.9 196.4h1.4M165.3 203.1h1.4M165.3 209.1h1.4M165.7 198.1h1.4M165.7 201.8h1.4M166.1 193.5h1.4M166.1 197.7h1.4M166.6 191.7h1.4M166.6 196.3h1.4M167.0 194.6h1.4M167.0 198.7h1.4M167.4 192.9h1.4M167.4 197.1h1.4M167.9 221.7h1.4M167.9 222.9h1.4M168.3 191.7h1.4M168.3 196.4h1.4M168.7 197.1h1.4M168.7 202.5h1.4M169.2 193.6h1.4M169.2 202.7h1.4M169.6 182.5h1.4M169.6 183.7h1.4M170.0 208.7h1.4M170.0 215.5h1.4M170.5 193.5h1.4M170.5 200.0h1.4M170.9 192.1h1.4M170.9 197.0h1.4M171.3 192.2h1.4M171.3 197.9h1.4M171.7 192.2h1.4M171.7 197.2h1.4M172.2 192.8h1.4M172.2 197.7h1.4M172.6 192.4h1.4M172.6 198.0h1.4M173.0 197.3h1.4M173.0 203.6h1.4M173.5 196.7h1.4M173.5 206.0h1.4M173.9 197.8h1.4M173.9 208.3h1.4M174.3 194.1h1.4M174.3 204.9h1.4M174.8 205.0h1.4M174.8 215.2h1.4M175.2 203.2h1.4M175.2 213.2h1.4M175.6 213.2h1.4M175.6 218.2h1.4M176.1 212.4h1.4M176.1 218.1h1.4M176.5 213.2h1.4M176.5 217.9h1.4M176.9 211.5h1.4M176.9 216.7h1.4M177.3 208.8h1.4M177.3 213.6h1.4M177.8 181.0h1.4M177.8 182.2h1.4M178.2 206.9h1.4M178.2 215.7h1.4M178.6 203.2h1.4M178.6 208.4h1.4M179.1 200.8h1.4M179.1 206.8h1.4M179.5 202.3h1.4M179.5 207.4h1.4M179.9 194.9h1.4M179.9 204.4h1.4M180.4 197.1h1.4M180.4 206.2h1.4M180.8 195.9h1.4M180.8 204.3h1.4M181.2 199.9h1.4M181.2 207.7h1.4M181.7 196.7h1.4M181.7 203.7h1.4M182.1 196.4h1.4M182.1 203.1h1.4M182.5 196.8h1.4M182.5 201.5h1.4M182.9 194.0h1.4M182.9 200.8h1.4M183.4 196.5h1.4M183.4 203.6h1.4M183.8 203.5h1.4M183.8 210.9h1.4M184.2 196.2h1.4M184.2 200.3h1.4M184.7 178.6h1.4M184.7 179.8h1.4M185.1 205.8h1.4M185.1 213.1h1.4M185.5 197.8h1.4M185.5 205.2h1.4M186.0 191.0h1.4M186.0 196.4h1.4M186.4 189.2h1.4M186.4 196.3h1.4M186.8 188.4h1.4M186.8 196.7h1.4M187.3 187.4h1.4M187.3 193.3h1.4M187.7 178.9h1.4M187.7 180.1h1.4M188.1 181.6h1.4M188.1 191.2h1.4M188.5 179.7h1.4M188.5 191.5h1.4M189.0 196.8h1.4M189.0 206.8h1.4M189.4 182.4h1.4M189.4 193.0h1.4M189.8 181.2h1.4M189.8 186.4h1.4M190.3 182.7h1.4M190.3 192.1h1.4M190.7 188.0h1.4M190.7 192.5h1.4M191.1 184.8h1.4M191.1 189.5h1.4M191.6 185.6h1.4M191.6 190.4h1.4M192.0 189.1h1.4M192.0 195.4h1.4M192.4 190.2h1.4M192.4 197.1h1.4M192.8 187.7h1.4M192.8 193.6h1.4M193.3 189.1h1.4M193.3 195.1h1.4M193.7 193.2h1.4M193.7 197.2h1.4M194.1 190.9h1.4M194.1 199.4h1.4M194.6 192.0h1.4M194.6 198.7h1.4M195.0 188.1h1.4M195.0 192.8h1.4M195.4 188.5h1.4M195.4 197.6h1.4M195.9 210.8h1.4M195.9 212.0h1.4M196.3 193.2h1.4M196.3 201.0h1.4M196.7 200.2h1.4M196.7 204.6h1.4M197.2 202.6h1.4M197.2 209.0h1.4M197.6 188.4h1.4M197.6 195.3h1.4M198.0 187.4h1.4M198.0 192.7h1.4M198.4 210.8h1.4M198.4 212.0h1.4M198.9 191.7h1.4M198.9 199.8h1.4M199.3 191.5h1.4M199.3 199.7h1.4M199.7 183.0h1.4M199.7 187.8h1.4M200.2 191.6h1.4M200.2 195.3h1.4M200.6 192.4h1.4M200.6 198.8h1.4M201.0 189.2h1.4M201.0 196.5h1.4M201.5 184.4h1.4M201.5 188.8h1.4M201.9 186.2h1.4M201.9 191.1h1.4M202.3 177.1h1.4M202.3 182.7h1.4M202.8 175.6h1.4M202.8 184.2h1.4M203.2 172.6h1.4M203.2 183.0h1.4M203.6 168.5h1.4M203.6 179.3h1.4M204.0 173.7h1.4M204.0 180.1h1.4M204.5 164.8h1.4M204.5 172.6h1.4M204.9 159.4h1.4M204.9 160.6h1.4M205.3 165.8h1.4M205.3 176.1h1.4M205.8 165.5h1.4M205.8 172.5h1.4M206.2 160.7h1.4M206.2 168.5h1.4M206.6 161.1h1.4M206.6 166.4h1.4M207.1 179.0h1.4M207.1 188.8h1.4M207.5 170.9h1.4M207.5 181.3h1.4M207.9 170.0h1.4M207.9 178.7h1.4M208.4 180.0h1.4M208.4 184.9h1.4M208.8 184.4h1.4M208.8 189.5h1.4M209.2 184.4h1.4M209.2 189.5h1.4M209.6 184.0h1.4M209.6 189.5h1.4M210.1 163.1h1.4M210.1 174.7h1.4M210.5 172.6h1.4M210.5 179.1h1.4M210.9 168.4h1.4M210.9 179.4h1.4M211.4 171.6h1.4M211.4 177.9h1.4M212.2 173.3h1.4M212.2 184.0h1.4M212.7 175.2h1.4M212.7 185.4h1.4M213.1 181.0h1.4M213.1 189.5h1.4M214.0 174.9h1.4M214.0 185.2h1.4M214.4 171.6h1.4M214.4 184.0h1.4M214.8 175.4h1.4M214.8 187.0h1.4M215.2 175.4h1.4M215.2 182.8h1.4M215.7 173.8h1.4M215.7 182.3h1.4M216.1 165.1h1.4M216.1 170.2h1.4M216.5 156.5h1.4M216.5 157.7h1.4M217.0 169.2h1.4M217.0 178.8h1.4M217.4 172.4h1.4M217.4 177.6h1.4M217.8 172.8h1.4M217.8 178.4h1.4M218.3 179.3h1.4M218.3 184.2h1.4M218.7 178.0h1.4M218.7 186.4h1.4M219.1 173.6h1.4M219.1 178.2h1.4M219.6 175.6h1.4M219.6 182.7h1.4M220.0 183.3h1.4M220.0 187.9h1.4M220.4 185.8h1.4M220.4 194.2h1.4M220.8 182.4h1.4M220.8 186.9h1.4M221.3 177.1h1.4M221.3 184.0h1.4M222.1 176.8h1.4M222.1 185.6h1.4M222.6 175.7h1.4M222.6 180.4h1.4M223.0 184.8h1.4M223.0 191.7h1.4M223.4 185.4h1.4M223.4 193.4h1.4M223.9 183.6h1.4M223.9 189.9h1.4M224.3 180.7h1.4M224.3 185.3h1.4M225.1 191.1h1.4M225.1 199.6h1.4M225.6 189.3h1.4M225.6 199.0h1.4M226.0 185.1h1.4M226.0 190.9h1.4M226.4 182.4h1.4M226.4 189.7h1.4M226.9 179.7h1.4M226.9 189.3h1.4M227.3 182.4h1.4M227.3 188.4h1.4M227.7 180.8h1.4M227.7 182.0h1.4M228.2 198.2h1.4M228.2 204.6h1.4M228.6 203.2h1.4M228.6 208.1h1.4M229.0 190.2h1.4M229.0 199.8h1.4M229.5 192.3h1.4M229.5 200.1h1.4M229.9 191.6h1.4M229.9 199.5h1.4M230.3 202.7h1.4M230.3 211.0h1.4M230.7 190.4h1.4M230.7 197.6h1.4M231.2 197.2h1.4M231.2 203.9h1.4M231.6 192.9h1.4M231.6 201.9h1.4M232.0 193.9h1.4M232.0 197.6h1.4M232.5 199.8h1.4M232.5 204.6h1.4M232.9 197.8h1.4M232.9 202.3h1.4M233.3 197.6h1.4M233.3 204.1h1.4M233.8 196.5h1.4M233.8 203.8h1.4M234.2 189.9h1.4M234.2 197.5h1.4M234.6 191.8h1.4M234.6 199.9h1.4M235.1 194.2h1.4M235.1 201.9h1.4M235.5 190.2h1.4M235.5 195.7h1.4M235.9 192.4h1.4M235.9 198.1h1.4M236.3 198.8h1.4M236.3 204.7h1.4M236.8 195.7h1.4M236.8 199.0h1.4M237.2 189.5h1.4M237.2 195.2h1.4M237.6 196.1h1.4M237.6 203.2h1.4M238.1 220.6h1.4M238.1 221.8h1.4M238.5 195.1h1.4M238.5 200.2h1.4M238.9 220.5h1.4M238.9 221.7h1.4M239.4 198.5h1.4M239.4 202.7h1.4M239.8 206.1h1.4M239.8 211.5h1.4M240.2 199.6h1.4M240.2 205.6h1.4M240.7 202.2h1.4M240.7 206.5h1.4M241.1 196.2h1.4M241.1 203.3h1.4M241.5 186.7h1.4M241.5 187.9h1.4M241.9 201.4h1.4M241.9 210.4h1.4M242.4 193.8h1.4M242.4 201.2h1.4M242.8 206.8h1.4M242.8 210.6h1.4M243.2 204.1h1.4M243.2 208.4h1.4M243.7 194.8h1.4M243.7 203.3h1.4M244.5 201.2h1.4M244.5 205.4h1.4M245.0 188.2h1.4M245.0 189.4h1.4M245.4 205.0h1.4M245.4 210.6h1.4M245.8 239.0h1.4M245.8 240.2h1.4M246.3 206.7h1.4M246.3 211.5h1.4M246.7 207.7h1.4M246.7 210.9h1.4M247.1 203.9h1.4M247.1 208.5h1.4M247.5 207.3h1.4M247.5 211.7h1.4M248.0 206.1h1.4M248.0 210.2h1.4M248.4 195.2h1.4M248.4 201.6h1.4M248.8 197.8h1.4M248.8 202.4h1.4M249.3 207.4h1.4M249.3 210.8h1.4M249.7 196.4h1.4M249.7 201.4h1.4M250.1 197.5h1.4M250.1 203.1h1.4M250.6 195.3h1.4M250.6 202.9h1.4M251.0 197.8h1.4M251.0 202.1h1.4M251.4 198.6h1.4M251.4 206.5h1.4M251.9 196.9h1.4M251.9 201.1h1.4M252.3 196.7h1.4M252.3 201.8h1.4M252.7 195.4h1.4M252.7 201.1h1.4M253.1 194.6h1.4M253.1 203.1h1.4M253.6 198.9h1.4M253.6 204.4h1.4M254.0 201.5h1.4M254.0 206.8h1.4M254.4 203.7h1.4M254.4 207.4h1.4M254.9 198.9h1.4M254.9 203.8h1.4M255.3 201.0h1.4M255.3 208.1h1.4M255.7 196.5h1.4M255.7 203.9h1.4M256.2 203.0h1.4M256.2 208.8h1.4M256.6 205.3h1.4M256.6 213.6h1.4M257.0 200.1h1.4M257.0 203.7h1.4M257.4 197.5h1.4M257.4 204.1h1.4M257.9 199.4h1.4M257.9 204.7h1.4M258.3 200.1h1.4M258.3 205.9h1.4M258.7 196.2h1.4M258.7 201.1h1.4M259.2 209.1h1.4M259.2 213.0h1.4" stroke="#1f77b4" stroke-width="0.7" fill="none"/><polyline points="45.3,209.9 45.8,210.3 46.3,210.8 46.8,211.2 47.3,211.7 47.8,212.1 48.3,212.6 48.8,213.1 49.3,213.6 49.8,214.1 50.3,214.5 50.8,215.0 51.3,215.5 51.8,216.0 52.3,216.4 52.8,216.9 53.3,217.4 53.8,217.8 54.3,218.2 54.8,218.7 55.3,219.1 55.8,219.4 56.3,219.8 56.8,220.2 57.3,220.5 57.8,220.8 58.3,221.1 58.8,221.4 59.3,221.6 59.8,221.8 60.3,222.0 60.8,222.2 61.3,222.3 61.8,222.4 62.3,222.5 62.8,222.5 63.3,222.5 63.8,222.5 64.3,222.4 64.8,222.3 65.3,222.2 65.8,222.1 66.3,221.9 66.8,221.6 67.3,221.4 67.8,221.1 68.3,220.8 68.8,220.5 69.3,220.1 69.8,219.7 70.3,219.3 70.8,218.9 71.3,218.4 71.8,217.9 72.3,217.4 72.8,216.9 73.3,216.3 73.8,215.8 74.3,215.2 74.8,214.6 75.3,214.0 75.8,213.4 76.3,212.8 76.8,212.2 77.3,211.5 77.8,210.9 78.3,210.3 78.8,209.6 79.3,209.0 79.8,208.4 80.3,207.8 80.8,207.2 81.3,206.6 81.8,206.0 82.3,205.4 82.8,204.8 83.3,204.3 83.8,203.8 84.3,203.2 84.8,202.8 85.3,202.3 85.8,201.8 86.3,201.4 86.8,201.0 87.3,200.6 87.8,200.2 88.3,199.8 88.8,199.5 89.3,199.2 89.8,198.9 90.3,198.7 90.8,198.5 91.3,198.3 91.8,198.1 92.3,198.0 92.8,197.8 93.3,197.7 93.8,197.7 94.3,197.6 94.8,197.6 95.3,197.6 95.8,197.6 96.3,197.7 96.8,197.8 97.3,197.9 97.8,198.0 98.3,198.1 98.8,198.3 99.3,198.5 99.8,198.7 100.3,199.0 100.8,199.2 101.3,199.5 101.8,199.8 102.3,200.1 102.8,200.4 103.3,200.8 103.8,201.2 104.3,201.5 104.8,201.9 105.3,202.3 105.8,202.8 106.3,203.2 106.8,203.6 107.3,204.1 107.8,204.6 108.3,205.0 108.8,205.5 109.3,206.0 109.8,206.5 110.3,206.9 110.8,207.4 111.3,207.9 111.8,208.4 112.3,208.8 112.8,209.3 113.3,209.8 113.8,210.2 114.3,210.7 114.8,211.1 115.3,211.5 115.8,211.9 116.3,212.3 116.8,212.7 117.3,213.0 117.8,213.4 118.3,213.7 118.8,214.0 119.3,214.2 119.8,214.5 120.3,214.7 120.8,214.9 121.3,215.0 121.8,215.2 122.3,215.3 122.8,215.3 123.3,215.4 123.8,215.4 124.3,215.3 124.8,215.3 125.3,215.2 125.8,215.1 126.3,214.9 126.8,214.7 127.3,214.5 127.8,214.3 128.3,214.0 128.8,213.7 129.3,213.4 129.8,213.0 130.3,212.6 130.8,212.2 131.3,211.7 131.8,211.3 132.3,210.8 132.8,210.3 133.3,209.7 133.8,209.2 134.3,208.6 134.8,208.1 135.3,207.5 135.8,206.9 136.3,206.3 136.8,205.7 137.3,205.0 137.8,204.4 138.3,203.8 138.8,203.1 139.3,202.5 139.8,201.9 140.3,201.3 140.8,200.7 141.3,200.0 141.8,199.4 142.3,198.9 142.8,198.3 143.3,197.7 143.8,197.2 144.3,196.6 144.8,196.1 145.3,195.6 145.8,195.1 146.3,194.7 146.8,194.3 147.3,193.8 147.8,193.4 148.3,193.1 148.8,192.7 149.3,192.4 149.8,192.1 150.3,191.8 150.8,191.6 151.3,191.3 151.8,191.1 152.3,191.0 152.8,190.8 153.3,190.7 153.8,190.6 154.3,190.5 154.8,190.5 155.3,190.5 155.8,190.5 156.3,190.5 156.8,190.6 157.3,190.6 157.8,190.7 158.3,190.9 158.8,191.0 159.3,191.2 159.8,191.4 160.3,191.6 160.8,191.8 161.3,192.1 161.8,192.4 162.3,192.7 162.8,193.0 163.3,193.3 163.8,193.7 164.3,194.0 164.8,194.4 165.3,194.8 165.8,195.2 166.3,195.6 166.8,196.1 167.3,196.5 167.8,197.0 168.3,197.4 168.8,197.9 169.3,198.4 169.8,198.8 170.3,199.3 170.8,199.8 171.3,200.3 171.8,200.8 172.3,201.2 172.8,201.7 173.3,202.2 173.8,202.7 174.3,203.1 174.8,203.6 175.3,204.0 175.8,204.4 176.3,204.8 176.8,205.2 177.3,205.6 177.8,205.9 178.3,206.3 178.8,206.6 179.3,206.8 179.8,207.1 180.3,207.4 180.8,207.6 181.3,207.8 181.8,207.9 182.3,208.0 182.8,208.1 183.3,208.2 183.8,208.2 184.3,208.2 184.8,208.2 185.3,208.2 185.8,208.1 186.3,208.0 186.8,207.8 187.3,207.6 187.8,207.4 188.3,207.1 188.8,206.9 189.3,206.6 189.8,206.2 190.3,205.9 190.8,205.5 191.3,205.1 191.8,204.6 192.3,204.1 192.8,203.7 193.3,203.2 193.8,202.6 194.3,202.1 194.8,201.5 195.3,200.9 195.8,200.4 196.3,199.8 196.8,199.1 197.3,198.5 197.8,197.9 198.3,197.3 198.8,196.6 199.3,196.0 199.8,195.4 200.3,194.8 200.8,194.1 201.3,193.5 201.8,192.9 202.3,192.3 202.8,191.7 203.3,191.2 203.8,190.6 204.3,190.0 204.8,189.5 205.3,189.0 205.8,188.5 206.3,188.0 206.8,187.6 207.3,187.1 207.8,186.7 208.3,186.3 208.8,185.9 209.3,185.6 209.8,185.3 210.3,185.0 210.8,184.7 211.3,184.4 211.8,184.2 212.3,184.0 212.8,183.8 213.3,183.7 213.8,183.6 214.3,183.5 214.8,183.4 215.3,183.4 215.8,183.3 216.3,183.4 216.8,183.4 217.3,183.4 217.8,183.5 218.3,183.6 218.8,183.7 219.3,183.9 219.8,184.1 220.3,184.3 220.8,184.5 221.3,184.7 221.8,185.0 222.3,185.3 222.8,185.5 223.3,185.9 223.8,186.2 224.3,186.5 224.8,186.9 225.3,187.3 225.8,187.7 226.3,188.1 226.8,188.5 227.3,188.9 227.8,189.4 228.3,189.8 228.8,190.3 229.3,190.8 229.8,191.2 230.3,191.7 230.8,192.2 231.3,192.7 231.8,193.2 232.3,193.6 232.8,194.1 233.3,194.6 233.8,195.1 234.3,195.5 234.8,196.0 235.3,196.4 235.8,196.9 236.3,197.3 236.8,197.7 237.3,198.1 237.8,198.4 238.3,198.8 238.8,199.1 239.3,199.4 239.8,199.7 240.3,200.0 240.8,200.2 241.3,200.4 241.8,200.6 242.3,200.8 242.8,200.9 243.3,201.0 243.8,201.1 244.3,201.1 244.8,201.1 245.3,201.1 245.8,201.0 246.3,200.9 246.8,200.8 247.3,200.7 247.8,200.5 248.3,200.3 248.8,200.0 249.3,199.7 249.8,199.4 250.3,199.1 250.8,198.7 251.3,198.3 251.8,197.9 252.3,197.5 252.8,197.0 253.3,196.5 253.8,196.0 254.3,195.5 254.8,195.0 255.3,194.4 255.8,193.8 256.3,193.2 256.8,192.6 257.3,192.0 257.8,191.4 258.3,190.8 258.8,190.2 259.3,189.5 259.8,188.9 260.3,188.3" stroke="#ff7f0e" stroke-width="1.0" fill="none" stroke-dasharray="2.1 1.3" stroke-opacity="0.95"/></g>
<g clip-path="url(#cBR)"><path d="M320.6 204.7V206.3M325.5 184.2V185.8M326.2 168.1V169.3M326.6 184.5V193.1M327.5 185.6V191.0M327.9 179.3V187.4M328.4 177.2V182.9M328.8 186.9V197.6M329.2 184.3V193.9M329.6 184.4V190.0M330.1 192.0V199.2M330.5 207.3V208.5M330.9 195.3V199.9M331.4 188.9V195.3M331.8 189.6V195.3M332.7 190.0V196.9M333.5 190.2V194.2M334.0 190.0V192.8M334.4 184.7V190.9M334.8 183.5V190.0M335.2 184.8V187.9M335.7 210.8V212.0M336.1 184.9V190.9M336.5 187.8V192.2M337.0 183.0V190.5M337.4 186.7V190.9M337.8 191.2V197.8M338.3 180.9V189.5M338.7 179.3V187.8M339.1 188.0V192.6M339.6 182.7V188.1M340.0 191.9V196.4M340.4 196.4V201.2M340.8 185.1V195.6M341.3 188.8V193.3M341.7 177.7V184.5M342.1 182.3V189.5M342.6 184.9V192.7M343.0 178.7V185.5M343.4 184.3V193.8M343.9 190.3V196.3M344.3 196.2V206.8M344.7 191.1V199.9M345.1 205.0V211.0M345.6 198.5V209.8M346.0 192.5V201.0M346.9 227.2V228.4M347.3 188.2V199.6M347.7 186.2V193.8M348.2 187.2V195.8M348.6 197.3V206.3M349.0 206.0V211.9M349.5 203.6V213.2M349.9 205.8V210.4M350.3 205.9V214.5M350.7 202.8V210.1M351.6 200.5V205.4M352.0 207.2V212.9M352.5 207.5V212.3M352.9 203.2V209.9M353.3 194.0V202.0M353.8 202.5V206.9M354.2 185.5V191.5M354.6 192.4V203.0M355.1 189.4V193.9M355.5 190.0V196.5M355.9 194.4V202.7M356.3 193.0V198.2M356.8 186.3V189.8M357.2 187.6V192.7M357.6 183.5V187.8M358.1 183.5V188.9M358.5 188.1V194.0M358.9 188.4V191.2M359.4 185.0V188.8M359.8 180.6V185.0M360.2 179.7V185.3M360.7 185.8V191.5M361.1 185.6V189.2M361.5 182.7V189.7M361.9 188.1V197.2M362.4 184.5V190.9M362.8 185.8V196.0M363.2 191.9V196.4M363.7 194.1V199.5M364.1 194.4V199.1M364.5 181.0V190.8M365.0 188.4V195.4M365.4 180.7V189.3M365.8 191.7V195.9M366.3 186.7V194.7M366.7 189.8V194.2M367.1 196.0V202.3M367.5 187.3V193.9M368.0 189.9V197.9M368.4 185.3V189.9M368.8 216.1V217.3M369.3 185.9V193.6M369.7 190.5V194.7M370.1 193.4V198.3M370.6 188.5V196.1M371.0 181.6V189.4M371.4 179.7V184.8M371.9 187.5V193.1M372.3 193.8V204.5M372.7 177.1V182.4M373.1 176.2V181.6M373.6 175.6V181.0M374.0 176.1V181.5M374.4 176.6V182.0M374.9 182.5V188.4M375.3 178.5V190.0M375.7 167.1V168.3M376.2 189.0V196.3M376.6 194.3V200.3M377.0 200.5V205.5M377.4 190.1V197.0M377.9 188.2V197.1M378.3 182.8V191.0M378.7 185.9V192.8M379.2 190.2V195.5M379.6 215.4V216.6M380.0 198.5V203.7M380.5 189.2V194.5M380.9 189.6V197.7M381.3 188.8V196.2M381.8 184.4V190.6M382.2 223.5V224.7M383.0 192.4V202.5M383.5 191.6V198.9M383.9 192.6V197.5M384.3 187.3V193.6M384.8 187.0V197.6M385.2 186.3V191.4M385.6 179.8V188.1M386.1 183.0V187.6M386.5 192.9V201.5M387.4 191.4V198.7M387.8 179.5V189.4M388.2 196.2V204.2M389.1 170.3V171.5M389.5 193.2V198.4M389.9 196.2V202.9M390.4 202.4V207.5M390.8 202.1V208.2M391.2 193.4V200.1M391.7 187.3V193.5M392.1 184.2V190.6M392.5 192.6V201.3M393.0 179.5V190.1M393.4 190.4V202.6M393.8 188.3V197.7M394.2 196.1V203.5M394.7 185.8V198.1M395.1 194.5V202.1M395.5 185.8V198.2M396.0 191.9V200.9M396.4 178.4V187.5M396.8 193.7V202.7M397.3 193.5V199.7M397.7 188.3V193.9M398.1 187.1V197.3M398.6 190.1V195.2M399.0 189.1V197.6M399.4 195.0V207.2M399.8 181.9V189.8M400.7 180.2V191.0M401.1 178.7V186.0M401.6 190.4V198.7M402.0 185.5V196.8M402.4 176.9V182.5M403.3 180.3V188.0M403.7 186.7V198.7M404.2 177.3V182.9M405.0 179.7V185.2M405.4 180.9V186.4M405.9 182.1V187.5M406.3 185.8V194.4M406.7 190.4V200.6M407.2 195.9V206.1M407.6 189.4V197.6M408.0 205.0V214.3M408.5 190.7V197.8M408.9 197.0V208.3M409.3 203.3V212.8M409.7 199.3V203.9M410.2 198.2V208.6M410.6 193.1V203.2M411.0 204.7V214.3M411.5 198.8V206.4M411.9 207.4V212.3M412.3 201.5V210.7M412.8 200.2V207.2M413.2 200.9V208.0M413.6 202.6V208.1M414.1 204.1V212.9M414.5 198.8V206.0M414.9 206.0V211.5M415.3 192.2V199.5M415.8 207.3V212.1M416.2 202.9V211.0M416.6 199.1V208.2M417.1 202.5V211.5M417.5 195.0V204.0M417.9 190.8V199.3M418.4 200.4V208.3M418.8 195.7V202.3M419.2 205.3V210.4M419.7 202.9V209.0M420.1 205.4V210.0M420.5 216.1V217.3M420.9 204.7V208.3M421.4 205.0V209.5M421.8 204.7V208.3M422.2 198.1V203.9M422.7 195.2V201.6M423.1 195.0V203.4M424.0 187.1V195.4M424.4 185.1V190.0M424.8 186.9V197.2M425.3 187.0V197.8M425.7 189.1V197.0M426.1 186.4V195.7M426.5 183.3V188.4M427.0 192.7V201.4M427.4 198.5V209.1M427.8 187.4V192.2M428.3 192.5V197.7M428.7 199.7V210.1M429.1 194.1V201.3M429.6 188.7V196.2M430.0 188.9V195.9M430.4 188.9V194.7M430.9 189.5V194.4M431.3 190.1V198.4M431.7 195.3V205.3M432.1 192.2V197.0M432.6 207.4V214.5M433.4 198.0V204.8M433.9 199.2V203.8M434.3 207.9V213.0M434.7 205.3V210.5M435.2 208.7V213.2M435.6 198.3V206.3M436.0 203.2V211.8M436.4 199.0V206.4M436.9 208.4V214.7M437.3 198.8V208.4M437.7 209.2V213.9M438.2 201.8V209.6M438.6 201.4V207.1M439.0 192.1V199.7M439.5 205.0V212.2M439.9 200.6V208.5M440.3 198.7V209.2M440.8 199.6V209.5M441.2 190.3V196.8M441.6 194.1V198.9M442.0 189.4V198.4M442.5 184.8V192.1M442.9 188.3V197.1M443.3 191.9V199.3M443.8 224.2V225.4M444.2 199.7V205.3M444.6 187.0V193.3M445.1 172.5V173.7M445.5 183.5V189.4M445.9 188.1V198.7M446.4 183.5V190.4M446.8 183.9V193.7M447.2 183.5V190.2M447.6 183.5V188.3M448.1 183.8V188.0M448.5 191.9V199.6M448.9 189.9V199.4M449.4 191.9V196.6M449.8 186.0V193.5M450.2 191.3V201.0M450.7 181.6V190.1M451.1 191.6V200.8M451.5 197.9V205.1M452.0 194.8V201.2M452.4 201.4V206.5M452.8 193.4V198.9M453.2 189.8V199.5M453.7 161.8V163.0M454.1 184.8V195.4M454.5 178.3V190.1M455.0 194.0V199.3M455.4 185.6V193.1M455.8 194.2V204.2M456.3 189.1V198.6M456.7 177.3V188.0M457.6 176.2V189.0M458.0 188.5V195.6M458.4 173.6V179.1M458.8 189.9V196.0M459.7 174.7V183.9M460.1 181.6V190.5M460.6 181.3V186.8M461.0 173.0V181.0M461.4 186.8V199.6M461.9 171.0V181.4M462.3 180.0V189.9M462.7 181.5V191.9M463.2 176.5V190.3M463.6 158.5V159.7M464.0 162.3V174.4M464.4 160.5V161.7M464.9 191.8V198.3M465.3 168.8V178.6M465.7 193.7V199.3M466.2 187.6V196.3M466.6 182.3V193.1M467.0 193.1V201.0M467.5 183.3V194.7M467.9 186.0V198.9M468.3 188.9V196.3M468.7 192.9V199.4M469.2 192.2V201.5M469.6 179.2V185.0M470.0 193.6V199.9M470.5 193.0V202.6M470.9 199.2V204.4M471.3 207.8V209.0M471.8 198.4V203.5M472.2 184.0V195.8M472.6 184.2V194.9M473.1 180.2V189.6M473.5 176.6V186.1M473.9 187.1V194.7M474.3 211.8V213.0M474.8 194.5V199.7M475.2 181.2V187.2M475.6 188.8V198.6M476.1 182.9V191.9M476.5 170.7V180.4M476.9 186.6V196.5M477.4 181.3V192.8M477.8 182.8V187.7M478.2 178.9V187.3M478.7 182.0V187.3M479.1 181.3V186.7M479.5 187.0V192.1M479.9 186.5V191.1M480.4 174.6V179.6M480.8 155.7V156.9M481.2 182.7V189.0M481.7 182.1V186.9M482.1 177.2V187.8M483.0 165.8V174.1M483.4 172.9V184.5M483.8 179.6V185.0M484.3 186.6V191.8M484.7 183.1V189.0M485.1 187.5V192.8M485.5 180.9V188.2M486.0 174.1V182.3M486.4 173.6V182.0M486.8 166.1V174.0M487.3 180.9V188.2M487.7 183.5V190.5M488.1 183.3V192.3M488.6 173.3V181.4M489.0 172.7V178.9M489.4 178.2V184.7M489.9 177.3V187.0M490.3 173.8V181.2M490.7 170.5V176.6M491.1 171.8V182.7M491.6 169.7V175.9M492.0 158.6V159.8M492.4 174.2V180.2M492.9 172.1V176.2M493.3 176.0V181.9M493.7 179.8V184.4M494.2 179.2V182.3M494.6 177.2V180.3M495.0 184.1V188.2M495.5 187.6V194.9M495.9 192.5V197.8M496.3 185.9V193.5M496.7 186.6V192.5M497.2 185.3V191.1M497.6 179.9V184.9M498.0 180.4V185.6M498.5 198.7V205.6M498.9 183.1V194.4M499.3 193.9V201.9M499.8 195.8V204.1M500.2 200.9V212.7M500.6 201.1V212.1M501.0 197.2V208.0M501.5 200.3V212.8M501.9 191.0V196.7M502.3 185.5V198.7M502.8 192.4V202.1M503.2 191.7V204.7M503.6 182.3V183.5M504.1 204.6V214.0M504.5 204.2V213.0M505.4 200.6V212.4M505.8 194.1V205.5M506.2 197.6V203.8M506.6 199.6V204.6M507.1 188.0V195.2M507.5 190.4V197.6M507.9 198.0V202.8M508.4 198.5V207.9M509.2 188.7V198.0M509.7 189.1V195.9M510.5 182.0V183.2M511.0 187.8V191.7M511.4 189.3V192.7M511.8 188.2V193.2M512.2 184.4V187.3M512.7 191.0V196.4M513.1 187.5V190.5M513.5 185.1V191.9M514.0 221.4V222.6M514.4 221.8V223.0M514.8 183.6V188.0M515.3 186.9V194.5M515.7 191.8V195.4M516.1 185.8V189.9M516.6 191.5V199.1M517.0 189.5V193.8M517.4 177.0V178.2M517.8 185.8V191.6M518.3 187.8V194.7M518.7 196.8V202.7M519.1 197.6V203.5M519.6 194.3V198.2M520.0 198.0V205.0M520.4 195.5V201.4M520.9 243.4V244.6M521.3 193.0V198.5M521.7 190.2V196.4M522.2 198.1V201.9M522.6 192.4V197.6M523.0 190.7V194.7M523.4 192.4V195.6M523.9 191.4V197.8M524.3 194.0V200.5M524.7 193.2V197.2M525.2 201.9V207.8M525.6 192.7V199.6M526.0 195.0V199.3M526.5 193.7V198.5M526.9 189.3V197.6M527.3 194.6V200.6M527.8 193.0V199.7M528.2 193.5V201.6M528.6 198.2V205.1M529.0 197.1V204.6M529.5 193.4V199.5M529.9 201.7V211.2M530.8 208.3V217.3M531.2 204.6V211.2M531.6 198.2V203.6M532.1 202.8V211.9M532.5 203.1V212.3M532.9 209.9V214.2M533.3 211.5V218.6M533.8 210.3V217.9M534.2 214.6V220.6M534.6 214.9V221.3M535.1 210.6V217.4" stroke="#ffa500" stroke-width="0.7" fill="none"/>
<polyline points="320.6,205.5 325.5,185.0 326.2,168.7 326.6,188.8 327.5,188.3 327.9,183.4 328.4,180.0 328.8,192.2 329.2,189.1 329.6,187.2 330.1,195.6 330.5,207.9 330.9,197.6 331.4,192.1 331.8,192.5 332.7,193.5 333.5,192.2 334.0,191.4 334.4,187.8 334.8,186.8 335.2,186.4 335.7,211.4 336.1,187.9 336.5,190.0 337.0,186.8 337.4,188.8 337.8,194.5 338.3,185.2 338.7,183.5 339.1,190.3 339.6,185.4 340.0,194.1 340.4,198.8 340.8,190.4 341.3,191.1 341.7,181.1 342.1,185.9 342.6,188.8 343.0,182.1 343.4,189.0 343.9,193.3 344.3,201.5 344.7,195.5 345.1,208.0 345.6,204.2 346.0,196.8 346.9,227.8 347.3,193.9 347.7,190.0 348.2,191.5 348.6,201.8 349.0,208.9 349.5,208.4 349.9,208.1 350.3,210.2 350.7,206.5 351.6,203.0 352.0,210.1 352.5,209.9 352.9,206.5 353.3,198.0 353.8,204.7 354.2,188.5 354.6,197.7 355.1,191.7 355.5,193.3 355.9,198.6 356.3,195.6 356.8,188.0 357.2,190.1 357.6,185.7 358.1,186.2 358.5,191.1 358.9,189.8 359.4,186.9 359.8,182.8 360.2,182.5 360.7,188.6 361.1,187.4 361.5,186.2 361.9,192.7 362.4,187.7 362.8,190.9 363.2,194.1 363.7,196.8 364.1,196.8 364.5,185.9 365.0,191.9 365.4,185.0 365.8,193.8 366.3,190.7 366.7,192.0 367.1,199.1 367.5,190.6 368.0,193.9 368.4,187.6 368.8,216.7 369.3,189.8 369.7,192.6 370.1,195.9 370.6,192.3 371.0,185.5 371.4,182.2 371.9,190.3 372.3,199.1 372.7,179.7 373.1,178.9 373.6,178.3 374.0,178.8 374.4,179.3 374.9,185.4 375.3,184.3 375.7,167.7 376.2,192.6 376.6,197.3 377.0,203.0 377.4,193.5 377.9,192.7 378.3,186.9 378.7,189.4 379.2,192.8 379.6,216.0 380.0,201.1 380.5,191.8 380.9,193.7 381.3,192.5 381.8,187.5 382.2,224.1 383.0,197.5 383.5,195.3 383.9,195.0 384.3,190.4 384.8,192.3 385.2,188.8 385.6,184.0 386.1,185.3 386.5,197.2 387.4,195.0 387.8,184.5 388.2,200.2 389.1,170.9 389.5,195.8 389.9,199.5 390.4,204.9 390.8,205.1 391.2,196.8 391.7,190.4 392.1,187.4 392.5,196.9 393.0,184.8 393.4,196.5 393.8,193.0 394.2,199.8 394.7,192.0 395.1,198.3 395.5,192.0 396.0,196.4 396.4,183.0 396.8,198.2 397.3,196.6 397.7,191.1 398.1,192.2 398.6,192.6 399.0,193.3 399.4,201.1 399.8,185.8 400.7,185.6 401.1,182.3 401.6,194.5 402.0,191.2 402.4,179.7 403.3,184.1 403.7,192.7 404.2,180.1 405.0,182.5 405.4,183.7 405.9,184.8 406.3,190.1 406.7,195.5 407.2,201.0 407.6,193.5 408.0,209.7 408.5,194.2 408.9,202.7 409.3,208.1 409.7,201.6 410.2,203.4 410.6,198.2 411.0,209.5 411.5,202.6 411.9,209.8 412.3,206.1 412.8,203.7 413.2,204.4 413.6,205.3 414.1,208.5 414.5,202.4 414.9,208.8 415.3,195.9 415.8,209.7 416.2,206.9 416.6,203.7 417.1,207.0 417.5,199.5 417.9,195.0 418.4,204.4 418.8,199.0 419.2,207.8 419.7,205.9 420.1,207.7 420.5,216.7 420.9,206.5 421.4,207.3 421.8,206.5 422.2,201.0 422.7,198.4 423.1,199.2 424.0,191.2 424.4,187.5 424.8,192.1 425.3,192.4 425.7,193.1 426.1,191.1 426.5,185.9 427.0,197.0 427.4,203.8 427.8,189.8 428.3,195.1 428.7,204.9 429.1,197.7 429.6,192.4 430.0,192.4 430.4,191.8 430.9,191.9 431.3,194.3 431.7,200.3 432.1,194.6 432.6,211.0 433.4,201.4 433.9,201.5 434.3,210.5 434.7,207.9 435.2,210.9 435.6,202.3 436.0,207.5 436.4,202.7 436.9,211.6 437.3,203.6 437.7,211.5 438.2,205.7 438.6,204.3 439.0,195.9 439.5,208.6 439.9,204.5 440.3,203.9 440.8,204.6 441.2,193.5 441.6,196.5 442.0,193.9 442.5,188.5 442.9,192.7 443.3,195.6 443.8,224.8 444.2,202.5 444.6,190.1 445.1,173.1 445.5,186.5 445.9,193.4 446.4,186.9 446.8,188.8 447.2,186.9 447.6,185.9 448.1,185.9 448.5,195.7 448.9,194.7 449.4,194.3 449.8,189.8 450.2,196.1 450.7,185.9 451.1,196.2 451.5,201.5 452.0,198.0 452.4,203.9 452.8,196.2 453.2,194.7 453.7,162.4 454.1,190.1 454.5,184.2 455.0,196.7 455.4,189.3 455.8,199.2 456.3,193.8 456.7,182.7 457.6,182.6 458.0,192.1 458.4,176.3 458.8,193.0 459.7,179.3 460.1,186.1 460.6,184.1 461.0,177.0 461.4,193.2 461.9,176.2 462.3,184.9 462.7,186.7 463.2,183.4 463.6,159.1 464.0,168.4 464.4,161.1 464.9,195.1 465.3,173.7 465.7,196.5 466.2,192.0 466.6,187.7 467.0,197.0 467.5,189.0 467.9,192.5 468.3,192.6 468.7,196.1 469.2,196.8 469.6,182.1 470.0,196.7 470.5,197.8 470.9,201.8 471.3,208.4 471.8,200.9 472.2,189.9 472.6,189.6 473.1,184.9 473.5,181.4 473.9,190.9 474.3,212.4 474.8,197.1 475.2,184.2 475.6,193.7 476.1,187.4 476.5,175.5 476.9,191.6 477.4,187.1 477.8,185.2 478.2,183.1 478.7,184.7 479.1,184.0 479.5,189.6 479.9,188.8 480.4,177.1 480.8,156.3 481.2,185.8 481.7,184.5 482.1,182.5 483.0,169.9 483.4,178.7 483.8,182.3 484.3,189.2 484.7,186.0 485.1,190.2 485.5,184.5 486.0,178.2 486.4,177.8 486.8,170.1 487.3,184.5 487.7,187.0 488.1,187.8 488.6,177.3 489.0,175.8 489.4,181.4 489.9,182.2 490.3,177.5 490.7,173.6 491.1,177.3 491.6,172.8 492.0,159.2 492.4,177.2 492.9,174.2 493.3,179.0 493.7,182.1 494.2,180.7 494.6,178.7 495.0,186.1 495.5,191.2 495.9,195.1 496.3,189.7 496.7,189.5 497.2,188.2 497.6,182.4 498.0,183.0 498.5,202.1 498.9,188.7 499.3,197.9 499.8,199.9 500.2,206.8 500.6,206.6 501.0,202.6 501.5,206.6 501.9,193.9 502.3,192.1 502.8,197.2 503.2,198.2 503.6,182.9 504.1,209.3 504.5,208.6 505.4,206.5 505.8,199.8 506.2,200.7 506.6,202.1 507.1,191.6 507.5,194.0 507.9,200.4 508.4,203.2 509.2,193.3 509.7,192.5 510.5,182.6 511.0,189.7 511.4,191.0 511.8,190.7 512.2,185.8 512.7,193.7 513.1,189.0 513.5,188.5 514.0,222.0 514.4,222.4 514.8,185.8 515.3,190.7 515.7,193.6 516.1,187.8 516.6,195.3 517.0,191.6 517.4,177.6 517.8,188.7 518.3,191.2 518.7,199.8 519.1,200.6 519.6,196.2 520.0,201.5 520.4,198.5 520.9,244.0 521.3,195.7 521.7,193.3 522.2,200.0 522.6,195.0 523.0,192.7 523.4,194.0 523.9,194.6 524.3,197.3 524.7,195.2 525.2,204.8 525.6,196.1 526.0,197.2 526.5,196.1 526.9,193.4 527.3,197.6 527.8,196.3 528.2,197.6 528.6,201.6 529.0,200.9 529.5,196.4 529.9,206.4 530.8,212.8 531.2,207.9 531.6,200.9 532.1,207.3 532.5,207.7 532.9,212.1 533.3,215.1 533.8,214.1 534.2,217.6 534.6,218.1 535.1,214.0" stroke="#ffa500" stroke-width="0.55" fill="none" stroke-linejoin="round"/>
<path d="M320.6 205.5h0M325.5 185.0h0M326.2 168.7h0M326.6 188.8h0M327.5 188.3h0M327.9 183.4h0M328.4 180.0h0M328.8 192.2h0M329.2 189.1h0M329.6 187.2h0M330.1 195.6h0M330.5 207.9h0M330.9 197.6h0M331.4 192.1h0M331.8 192.5h0M332.7 193.5h0M333.5 192.2h0M334.0 191.4h0M334.4 187.8h0M334.8 186.8h0M335.2 186.4h0M335.7 211.4h0M336.1 187.9h0M336.5 190.0h0M337.0 186.8h0M337.4 188.8h0M337.8 194.5h0M338.3 185.2h0M338.7 183.5h0M339.1 190.3h0M339.6 185.4h0M340.0 194.1h0M340.4 198.8h0M340.8 190.4h0M341.3 191.1h0M341.7 181.1h0M342.1 185.9h0M342.6 188.8h0M343.0 182.1h0M343.4 189.0h0M343.9 193.3h0M344.3 201.5h0M344.7 195.5h0M345.1 208.0h0M345.6 204.2h0M346.0 196.8h0M346.9 227.8h0M347.3 193.9h0M347.7 190.0h0M348.2 191.5h0M348.6 201.8h0M349.0 208.9h0M349.5 208.4h0M349.9 208.1h0M350.3 210.2h0M350.7 206.5h0M351.6 203.0h0M352.0 210.1h0M352.5 209.9h0M352.9 206.5h0M353.3 198.0h0M353.8 204.7h0M354.2 188.5h0M354.6 197.7h0M355.1 191.7h0M355.5 193.3h0M355.9 198.6h0M356.3 195.6h0M356.8 188.0h0M357.2 190.1h0M357.6 185.7h0M358.1 186.2h0M358.5 191.1h0M358.9 189.8h0M359.4 186.9h0M359.8 182.8h0M360.2 182.5h0M360.7 188.6h0M361.1 187.4h0M361.5 186.2h0M361.9 192.7h0M362.4 187.7h0M362.8 190.9h0M363.2 194.1h0M363.7 196.8h0M364.1 196.8h0M364.5 185.9h0M365.0 191.9h0M365.4 185.0h0M365.8 193.8h0M366.3 190.7h0M366.7 192.0h0M367.1 199.1h0M367.5 190.6h0M368.0 193.9h0M368.4 187.6h0M368.8 216.7h0M369.3 189.8h0M369.7 192.6h0M370.1 195.9h0M370.6 192.3h0M371.0 185.5h0M371.4 182.2h0M371.9 190.3h0M372.3 199.1h0M372.7 179.7h0M373.1 178.9h0M373.6 178.3h0M374.0 178.8h0M374.4 179.3h0M374.9 185.4h0M375.3 184.3h0M375.7 167.7h0M376.2 192.6h0M376.6 197.3h0M377.0 203.0h0M377.4 193.5h0M377.9 192.7h0M378.3 186.9h0M378.7 189.4h0M379.2 192.8h0M379.6 216.0h0M380.0 201.1h0M380.5 191.8h0M380.9 193.7h0M381.3 192.5h0M381.8 187.5h0M382.2 224.1h0M383.0 197.5h0M383.5 195.3h0M383.9 195.0h0M384.3 190.4h0M384.8 192.3h0M385.2 188.8h0M385.6 184.0h0M386.1 185.3h0M386.5 197.2h0M387.4 195.0h0M387.8 184.5h0M388.2 200.2h0M389.1 170.9h0M389.5 195.8h0M389.9 199.5h0M390.4 204.9h0M390.8 205.1h0M391.2 196.8h0M391.7 190.4h0M392.1 187.4h0M392.5 196.9h0M393.0 184.8h0M393.4 196.5h0M393.8 193.0h0M394.2 199.8h0M394.7 192.0h0M395.1 198.3h0M395.5 192.0h0M396.0 196.4h0M396.4 183.0h0M396.8 198.2h0M397.3 196.6h0M397.7 191.1h0M398.1 192.2h0M398.6 192.6h0M399.0 193.3h0M399.4 201.1h0M399.8 185.8h0M400.7 185.6h0M401.1 182.3h0M401.6 194.5h0M402.0 191.2h0M402.4 179.7h0M403.3 184.1h0M403.7 192.7h0M404.2 180.1h0M405.0 182.5h0M405.4 183.7h0M405.9 184.8h0M406.3 190.1h0M406.7 195.5h0M407.2 201.0h0M407.6 193.5h0M408.0 209.7h0M408.5 194.2h0M408.9 202.7h0M409.3 208.1h0M409.7 201.6h0M410.2 203.4h0M410.6 198.2h0M411.0 209.5h0M411.5 202.6h0M411.9 209.8h0M412.3 206.1h0M412.8 203.7h0M413.2 204.4h0M413.6 205.3h0M414.1 208.5h0M414.5 202.4h0M414.9 208.8h0M415.3 195.9h0M415.8 209.7h0M416.2 206.9h0M416.6 203.7h0M417.1 207.0h0M417.5 199.5h0M417.9 195.0h0M418.4 204.4h0M418.8 199.0h0M419.2 207.8h0M419.7 205.9h0M420.1 207.7h0M420.5 216.7h0M420.9 206.5h0M421.4 207.3h0M421.8 206.5h0M422.2 201.0h0M422.7 198.4h0M423.1 199.2h0M424.0 191.2h0M424.4 187.5h0M424.8 192.1h0M425.3 192.4h0M425.7 193.1h0M426.1 191.1h0M426.5 185.9h0M427.0 197.0h0M427.4 203.8h0M427.8 189.8h0M428.3 195.1h0M428.7 204.9h0M429.1 197.7h0M429.6 192.4h0M430.0 192.4h0M430.4 191.8h0M430.9 191.9h0M431.3 194.3h0M431.7 200.3h0M432.1 194.6h0M432.6 211.0h0M433.4 201.4h0M433.9 201.5h0M434.3 210.5h0M434.7 207.9h0M435.2 210.9h0M435.6 202.3h0M436.0 207.5h0M436.4 202.7h0M436.9 211.6h0M437.3 203.6h0M437.7 211.5h0M438.2 205.7h0M438.6 204.3h0M439.0 195.9h0M439.5 208.6h0M439.9 204.5h0M440.3 203.9h0M440.8 204.6h0M441.2 193.5h0M441.6 196.5h0M442.0 193.9h0M442.5 188.5h0M442.9 192.7h0M443.3 195.6h0M443.8 224.8h0M444.2 202.5h0M444.6 190.1h0M445.1 173.1h0M445.5 186.5h0M445.9 193.4h0M446.4 186.9h0M446.8 188.8h0M447.2 186.9h0M447.6 185.9h0M448.1 185.9h0M448.5 195.7h0M448.9 194.7h0M449.4 194.3h0M449.8 189.8h0M450.2 196.1h0M450.7 185.9h0M451.1 196.2h0M451.5 201.5h0M452.0 198.0h0M452.4 203.9h0M452.8 196.2h0M453.2 194.7h0M453.7 162.4h0M454.1 190.1h0M454.5 184.2h0M455.0 196.7h0M455.4 189.3h0M455.8 199.2h0M456.3 193.8h0M456.7 182.7h0M457.6 182.6h0M458.0 192.1h0M458.4 176.3h0M458.8 193.0h0M459.7 179.3h0M460.1 186.1h0M460.6 184.1h0M461.0 177.0h0M461.4 193.2h0M461.9 176.2h0M462.3 184.9h0M462.7 186.7h0M463.2 183.4h0M463.6 159.1h0M464.0 168.4h0M464.4 161.1h0M464.9 195.1h0M465.3 173.7h0M465.7 196.5h0M466.2 192.0h0M466.6 187.7h0M467.0 197.0h0M467.5 189.0h0M467.9 192.5h0M468.3 192.6h0M468.7 196.1h0M469.2 196.8h0M469.6 182.1h0M470.0 196.7h0M470.5 197.8h0M470.9 201.8h0M471.3 208.4h0M471.8 200.9h0M472.2 189.9h0M472.6 189.6h0M473.1 184.9h0M473.5 181.4h0M473.9 190.9h0M474.3 212.4h0M474.8 197.1h0M475.2 184.2h0M475.6 193.7h0M476.1 187.4h0M476.5 175.5h0M476.9 191.6h0M477.4 187.1h0M477.8 185.2h0M478.2 183.1h0M478.7 184.7h0M479.1 184.0h0M479.5 189.6h0M479.9 188.8h0M480.4 177.1h0M480.8 156.3h0M481.2 185.8h0M481.7 184.5h0M482.1 182.5h0M483.0 169.9h0M483.4 178.7h0M483.8 182.3h0M484.3 189.2h0M484.7 186.0h0M485.1 190.2h0M485.5 184.5h0M486.0 178.2h0M486.4 177.8h0M486.8 170.1h0M487.3 184.5h0M487.7 187.0h0M488.1 187.8h0M488.6 177.3h0M489.0 175.8h0M489.4 181.4h0M489.9 182.2h0M490.3 177.5h0M490.7 173.6h0M491.1 177.3h0M491.6 172.8h0M492.0 159.2h0M492.4 177.2h0M492.9 174.2h0M493.3 179.0h0M493.7 182.1h0M494.2 180.7h0M494.6 178.7h0M495.0 186.1h0M495.5 191.2h0M495.9 195.1h0M496.3 189.7h0M496.7 189.5h0M497.2 188.2h0M497.6 182.4h0M498.0 183.0h0M498.5 202.1h0M498.9 188.7h0M499.3 197.9h0M499.8 199.9h0M500.2 206.8h0M500.6 206.6h0M501.0 202.6h0M501.5 206.6h0M501.9 193.9h0M502.3 192.1h0M502.8 197.2h0M503.2 198.2h0M503.6 182.9h0M504.1 209.3h0M504.5 208.6h0M505.4 206.5h0M505.8 199.8h0M506.2 200.7h0M506.6 202.1h0M507.1 191.6h0M507.5 194.0h0M507.9 200.4h0M508.4 203.2h0M509.2 193.3h0M509.7 192.5h0M510.5 182.6h0M511.0 189.7h0M511.4 191.0h0M511.8 190.7h0M512.2 185.8h0M512.7 193.7h0M513.1 189.0h0M513.5 188.5h0M514.0 222.0h0M514.4 222.4h0M514.8 185.8h0M515.3 190.7h0M515.7 193.6h0M516.1 187.8h0M516.6 195.3h0M517.0 191.6h0M517.4 177.6h0M517.8 188.7h0M518.3 191.2h0M518.7 199.8h0M519.1 200.6h0M519.6 196.2h0M520.0 201.5h0M520.4 198.5h0M520.9 244.0h0M521.3 195.7h0M521.7 193.3h0M522.2 200.0h0M522.6 195.0h0M523.0 192.7h0M523.4 194.0h0M523.9 194.6h0M524.3 197.3h0M524.7 195.2h0M525.2 204.8h0M525.6 196.1h0M526.0 197.2h0M526.5 196.1h0M526.9 193.4h0M527.3 197.6h0M527.8 196.3h0M528.2 197.6h0M528.6 201.6h0M529.0 200.9h0M529.5 196.4h0M529.9 206.4h0M530.8 212.8h0M531.2 207.9h0M531.6 200.9h0M532.1 207.3h0M532.5 207.7h0M532.9 212.1h0M533.3 215.1h0M533.8 214.1h0M534.2 217.6h0M534.6 218.1h0M535.1 214.0h0" stroke="#ffa500" stroke-width="1.9" stroke-linecap="round" fill="none"/>
<path d="M319.9 204.7h1.4M319.9 206.3h1.4M324.8 184.2h1.4M324.8 185.8h1.4M325.5 168.1h1.4M325.5 169.3h1.4M325.9 184.5h1.4M325.9 193.1h1.4M326.8 185.6h1.4M326.8 191.0h1.4M327.2 179.3h1.4M327.2 187.4h1.4M327.7 177.2h1.4M327.7 182.9h1.4M328.1 186.9h1.4M328.1 197.6h1.4M328.5 184.3h1.4M328.5 193.9h1.4M328.9 184.4h1.4M328.9 190.0h1.4M329.4 192.0h1.4M329.4 199.2h1.4M329.8 207.3h1.4M329.8 208.5h1.4M330.2 195.3h1.4M330.2 199.9h1.4M330.7 188.9h1.4M330.7 195.3h1.4M331.1 189.6h1.4M331.1 195.3h1.4M332.0 190.0h1.4M332.0 196.9h1.4M332.8 190.2h1.4M332.8 194.2h1.4M333.3 190.0h1.4M333.3 192.8h1.4M333.7 184.7h1.4M333.7 190.9h1.4M334.1 183.5h1.4M334.1 190.0h1.4M334.5 184.8h1.4M334.5 187.9h1.4M335.0 210.8h1.4M335.0 212.0h1.4M335.4 184.9h1.4M335.4 190.9h1.4M335.8 187.8h1.4M335.8 192.2h1.4M336.3 183.0h1.4M336.3 190.5h1.4M336.7 186.7h1.4M336.7 190.9h1.4M337.1 191.2h1.4M337.1 197.8h1.4M337.6 180.9h1.4M337.6 189.5h1.4M338.0 179.3h1.4M338.0 187.8h1.4M338.4 188.0h1.4M338.4 192.6h1.4M338.9 182.7h1.4M338.9 188.1h1.4M339.3 191.9h1.4M339.3 196.4h1.4M339.7 196.4h1.4M339.7 201.2h1.4M340.1 185.1h1.4M340.1 195.6h1.4M340.6 188.8h1.4M340.6 193.3h1.4M341.0 177.7h1.4M341.0 184.5h1.4M341.4 182.3h1.4M341.4 189.5h1.4M341.9 184.9h1.4M341.9 192.7h1.4M342.3 178.7h1.4M342.3 185.5h1.4M342.7 184.3h1.4M342.7 193.8h1.4M343.2 190.3h1.4M343.2 196.3h1.4M343.6 196.2h1.4M343.6 206.8h1.4M344.0 191.1h1.4M344.0 199.9h1.4M344.4 205.0h1.4M344.4 211.0h1.4M344.9 198.5h1.4M344.9 209.8h1.4M345.3 192.5h1.4M345.3 201.0h1.4M346.2 227.2h1.4M346.2 228.4h1.4M346.6 188.2h1.4M346.6 199.6h1.4M347.0 186.2h1.4M347.0 193.8h1.4M347.5 187.2h1.4M347.5 195.8h1.4M347.9 197.3h1.4M347.9 206.3h1.4M348.3 206.0h1.4M348.3 211.9h1.4M348.8 203.6h1.4M348.8 213.2h1.4M349.2 205.8h1.4M349.2 210.4h1.4M349.6 205.9h1.4M349.6 214.5h1.4M350.0 202.8h1.4M350.0 210.1h1.4M350.9 200.5h1.4M350.9 205.4h1.4M351.3 207.2h1.4M351.3 212.9h1.4M351.8 207.5h1.4M351.8 212.3h1.4M352.2 203.2h1.4M352.2 209.9h1.4M352.6 194.0h1.4M352.6 202.0h1.4M353.1 202.5h1.4M353.1 206.9h1.4M353.5 185.5h1.4M353.5 191.5h1.4M353.9 192.4h1.4M353.9 203.0h1.4M354.4 189.4h1.4M354.4 193.9h1.4M354.8 190.0h1.4M354.8 196.5h1.4M355.2 194.4h1.4M355.2 202.7h1.4M355.6 193.0h1.4M355.6 198.2h1.4M356.1 186.3h1.4M356.1 189.8h1.4M356.5 187.6h1.4M356.5 192.7h1.4M356.9 183.5h1.4M356.9 187.8h1.4M357.4 183.5h1.4M357.4 188.9h1.4M357.8 188.1h1.4M357.8 194.0h1.4M358.2 188.4h1.4M358.2 191.2h1.4M358.7 185.0h1.4M358.7 188.8h1.4M359.1 180.6h1.4M359.1 185.0h1.4M359.5 179.7h1.4M359.5 185.3h1.4M360.0 185.8h1.4M360.0 191.5h1.4M360.4 185.6h1.4M360.4 189.2h1.4M360.8 182.7h1.4M360.8 189.7h1.4M361.2 188.1h1.4M361.2 197.2h1.4M361.7 184.5h1.4M361.7 190.9h1.4M362.1 185.8h1.4M362.1 196.0h1.4M362.5 191.9h1.4M362.5 196.4h1.4M363.0 194.1h1.4M363.0 199.5h1.4M363.4 194.4h1.4M363.4 199.1h1.4M363.8 181.0h1.4M363.8 190.8h1.4M364.3 188.4h1.4M364.3 195.4h1.4M364.7 180.7h1.4M364.7 189.3h1.4M365.1 191.7h1.4M365.1 195.9h1.4M365.6 186.7h1.4M365.6 194.7h1.4M366.0 189.8h1.4M366.0 194.2h1.4M366.4 196.0h1.4M366.4 202.3h1.4M366.8 187.3h1.4M366.8 193.9h1.4M367.3 189.9h1.4M367.3 197.9h1.4M367.7 185.3h1.4M367.7 189.9h1.4M368.1 216.1h1.4M368.1 217.3h1.4M368.6 185.9h1.4M368.6 193.6h1.4M369.0 190.5h1.4M369.0 194.7h1.4M369.4 193.4h1.4M369.4 198.3h1.4M369.9 188.5h1.4M369.9 196.1h1.4M370.3 181.6h1.4M370.3 189.4h1.4M370.7 179.7h1.4M370.7 184.8h1.4M371.2 187.5h1.4M371.2 193.1h1.4M371.6 193.8h1.4M371.6 204.5h1.4M372.0 177.1h1.4M372.0 182.4h1.4M372.4 176.2h1.4M372.4 181.6h1.4M372.9 175.6h1.4M372.9 181.0h1.4M373.3 176.1h1.4M373.3 181.5h1.4M373.7 176.6h1.4M373.7 182.0h1.4M374.2 182.5h1.4M374.2 188.4h1.4M374.6 178.5h1.4M374.6 190.0h1.4M375.0 167.1h1.4M375.0 168.3h1.4M375.5 189.0h1.4M375.5 196.3h1.4M375.9 194.3h1.4M375.9 200.3h1.4M376.3 200.5h1.4M376.3 205.5h1.4M376.7 190.1h1.4M376.7 197.0h1.4M377.2 188.2h1.4M377.2 197.1h1.4M377.6 182.8h1.4M377.6 191.0h1.4M378.0 185.9h1.4M378.0 192.8h1.4M378.5 190.2h1.4M378.5 195.5h1.4M378.9 215.4h1.4M378.9 216.6h1.4M379.3 198.5h1.4M379.3 203.7h1.4M379.8 189.2h1.4M379.8 194.5h1.4M380.2 189.6h1.4M380.2 197.7h1.4M380.6 188.8h1.4M380.6 196.2h1.4M381.1 184.4h1.4M381.1 190.6h1.4M381.5 223.5h1.4M381.5 224.7h1.4M382.3 192.4h1.4M382.3 202.5h1.4M382.8 191.6h1.4M382.8 198.9h1.4M383.2 192.6h1.4M383.2 197.5h1.4M383.6 187.3h1.4M383.6 193.6h1.4M384.1 187.0h1.4M384.1 197.6h1.4M384.5 186.3h1.4M384.5 191.4h1.4M384.9 179.8h1.4M384.9 188.1h1.4M385.4 183.0h1.4M385.4 187.6h1.4M385.8 192.9h1.4M385.8 201.5h1.4M386.7 191.4h1.4M386.7 198.7h1.4M387.1 179.5h1.4M387.1 189.4h1.4M387.5 196.2h1.4M387.5 204.2h1.4M388.4 170.3h1.4M388.4 171.5h1.4M388.8 193.2h1.4M388.8 198.4h1.4M389.2 196.2h1.4M389.2 202.9h1.4M389.7 202.4h1.4M389.7 207.5h1.4M390.1 202.1h1.4M390.1 208.2h1.4M390.5 193.4h1.4M390.5 200.1h1.4M391.0 187.3h1.4M391.0 193.5h1.4M391.4 184.2h1.4M391.4 190.6h1.4M391.8 192.6h1.4M391.8 201.3h1.4M392.3 179.5h1.4M392.3 190.1h1.4M392.7 190.4h1.4M392.7 202.6h1.4M393.1 188.3h1.4M393.1 197.7h1.4M393.5 196.1h1.4M393.5 203.5h1.4M394.0 185.8h1.4M394.0 198.1h1.4M394.4 194.5h1.4M394.4 202.1h1.4M394.8 185.8h1.4M394.8 198.2h1.4M395.3 191.9h1.4M395.3 200.9h1.4M395.7 178.4h1.4M395.7 187.5h1.4M396.1 193.7h1.4M396.1 202.7h1.4M396.6 193.5h1.4M396.6 199.7h1.4M397.0 188.3h1.4M397.0 193.9h1.4M397.4 187.1h1.4M397.4 197.3h1.4M397.9 190.1h1.4M397.9 195.2h1.4M398.3 189.1h1.4M398.3 197.6h1.4M398.7 195.0h1.4M398.7 207.2h1.4M399.1 181.9h1.4M399.1 189.8h1.4M400.0 180.2h1.4M400.0 191.0h1.4M400.4 178.7h1.4M400.4 186.0h1.4M400.9 190.4h1.4M400.9 198.7h1.4M401.3 185.5h1.4M401.3 196.8h1.4M401.7 176.9h1.4M401.7 182.5h1.4M402.6 180.3h1.4M402.6 188.0h1.4M403.0 186.7h1.4M403.0 198.7h1.4M403.5 177.3h1.4M403.5 182.9h1.4M404.3 179.7h1.4M404.3 185.2h1.4M404.7 180.9h1.4M404.7 186.4h1.4M405.2 182.1h1.4M405.2 187.5h1.4M405.6 185.8h1.4M405.6 194.4h1.4M406.0 190.4h1.4M406.0 200.6h1.4M406.5 195.9h1.4M406.5 206.1h1.4M406.9 189.4h1.4M406.9 197.6h1.4M407.3 205.0h1.4M407.3 214.3h1.4M407.8 190.7h1.4M407.8 197.8h1.4M408.2 197.0h1.4M408.2 208.3h1.4M408.6 203.3h1.4M408.6 212.8h1.4M409.0 199.3h1.4M409.0 203.9h1.4M409.5 198.2h1.4M409.5 208.6h1.4M409.9 193.1h1.4M409.9 203.2h1.4M410.3 204.7h1.4M410.3 214.3h1.4M410.8 198.8h1.4M410.8 206.4h1.4M411.2 207.4h1.4M411.2 212.3h1.4M411.6 201.5h1.4M411.6 210.7h1.4M412.1 200.2h1.4M412.1 207.2h1.4M412.5 200.9h1.4M412.5 208.0h1.4M412.9 202.6h1.4M412.9 208.1h1.4M413.4 204.1h1.4M413.4 212.9h1.4M413.8 198.8h1.4M413.8 206.0h1.4M414.2 206.0h1.4M414.2 211.5h1.4M414.6 192.2h1.4M414.6 199.5h1.4M415.1 207.3h1.4M415.1 212.1h1.4M415.5 202.9h1.4M415.5 211.0h1.4M415.9 199.1h1.4M415.9 208.2h1.4M416.4 202.5h1.4M416.4 211.5h1.4M416.8 195.0h1.4M416.8 204.0h1.4M417.2 190.8h1.4M417.2 199.3h1.4M417.7 200.4h1.4M417.7 208.3h1.4M418.1 195.7h1.4M418.1 202.3h1.4M418.5 205.3h1.4M418.5 210.4h1.4M419.0 202.9h1.4M419.0 209.0h1.4M419.4 205.4h1.4M419.4 210.0h1.4M419.8 216.1h1.4M419.8 217.3h1.4M420.2 204.7h1.4M420.2 208.3h1.4M420.7 205.0h1.4M420.7 209.5h1.4M421.1 204.7h1.4M421.1 208.3h1.4M421.5 198.1h1.4M421.5 203.9h1.4M422.0 195.2h1.4M422.0 201.6h1.4M422.4 195.0h1.4M422.4 203.4h1.4M423.3 187.1h1.4M423.3 195.4h1.4M423.7 185.1h1.4M423.7 190.0h1.4M424.1 186.9h1.4M424.1 197.2h1.4M424.6 187.0h1.4M424.6 197.8h1.4M425.0 189.1h1.4M425.0 197.0h1.4M425.4 186.4h1.4M425.4 195.7h1.4M425.8 183.3h1.4M425.8 188.4h1.4M426.3 192.7h1.4M426.3 201.4h1.4M426.7 198.5h1.4M426.7 209.1h1.4M427.1 187.4h1.4M427.1 192.2h1.4M427.6 192.5h1.4M427.6 197.7h1.4M428.0 199.7h1.4M428.0 210.1h1.4M428.4 194.1h1.4M428.4 201.3h1.4M428.9 188.7h1.4M428.9 196.2h1.4M429.3 188.9h1.4M429.3 195.9h1.4M429.7 188.9h1.4M429.7 194.7h1.4M430.2 189.5h1.4M430.2 194.4h1.4M430.6 190.1h1.4M430.6 198.4h1.4M431.0 195.3h1.4M431.0 205.3h1.4M431.4 192.2h1.4M431.4 197.0h1.4M431.9 207.4h1.4M431.9 214.5h1.4M432.7 198.0h1.4M432.7 204.8h1.4M433.2 199.2h1.4M433.2 203.8h1.4M433.6 207.9h1.4M433.6 213.0h1.4M434.0 205.3h1.4M434.0 210.5h1.4M434.5 208.7h1.4M434.5 213.2h1.4M434.9 198.3h1.4M434.9 206.3h1.4M435.3 203.2h1.4M435.3 211.8h1.4M435.7 199.0h1.4M435.7 206.4h1.4M436.2 208.4h1.4M436.2 214.7h1.4M436.6 198.8h1.4M436.6 208.4h1.4M437.0 209.2h1.4M437.0 213.9h1.4M437.5 201.8h1.4M437.5 209.6h1.4M437.9 201.4h1.4M437.9 207.1h1.4M438.3 192.1h1.4M438.3 199.7h1.4M438.8 205.0h1.4M438.8 212.2h1.4M439.2 200.6h1.4M439.2 208.5h1.4M439.6 198.7h1.4M439.6 209.2h1.4M440.1 199.6h1.4M440.1 209.5h1.4M440.5 190.3h1.4M440.5 196.8h1.4M440.9 194.1h1.4M440.9 198.9h1.4M441.3 189.4h1.4M441.3 198.4h1.4M441.8 184.8h1.4M441.8 192.1h1.4M442.2 188.3h1.4M442.2 197.1h1.4M442.6 191.9h1.4M442.6 199.3h1.4M443.1 224.2h1.4M443.1 225.4h1.4M443.5 199.7h1.4M443.5 205.3h1.4M443.9 187.0h1.4M443.9 193.3h1.4M444.4 172.5h1.4M444.4 173.7h1.4M444.8 183.5h1.4M444.8 189.4h1.4M445.2 188.1h1.4M445.2 198.7h1.4M445.7 183.5h1.4M445.7 190.4h1.4M446.1 183.9h1.4M446.1 193.7h1.4M446.5 183.5h1.4M446.5 190.2h1.4M446.9 183.5h1.4M446.9 188.3h1.4M447.4 183.8h1.4M447.4 188.0h1.4M447.8 191.9h1.4M447.8 199.6h1.4M448.2 189.9h1.4M448.2 199.4h1.4M448.7 191.9h1.4M448.7 196.6h1.4M449.1 186.0h1.4M449.1 193.5h1.4M449.5 191.3h1.4M449.5 201.0h1.4M450.0 181.6h1.4M450.0 190.1h1.4M450.4 191.6h1.4M450.4 200.8h1.4M450.8 197.9h1.4M450.8 205.1h1.4M451.3 194.8h1.4M451.3 201.2h1.4M451.7 201.4h1.4M451.7 206.5h1.4M452.1 193.4h1.4M452.1 198.9h1.4M452.5 189.8h1.4M452.5 199.5h1.4M453.0 161.8h1.4M453.0 163.0h1.4M453.4 184.8h1.4M453.4 195.4h1.4M453.8 178.3h1.4M453.8 190.1h1.4M454.3 194.0h1.4M454.3 199.3h1.4M454.7 185.6h1.4M454.7 193.1h1.4M455.1 194.2h1.4M455.1 204.2h1.4M455.6 189.1h1.4M455.6 198.6h1.4M456.0 177.3h1.4M456.0 188.0h1.4M456.9 176.2h1.4M456.9 189.0h1.4M457.3 188.5h1.4M457.3 195.6h1.4M457.7 173.6h1.4M457.7 179.1h1.4M458.1 189.9h1.4M458.1 196.0h1.4M459.0 174.7h1.4M459.0 183.9h1.4M459.4 181.6h1.4M459.4 190.5h1.4M459.9 181.3h1.4M459.9 186.8h1.4M460.3 173.0h1.4M460.3 181.0h1.4M460.7 186.8h1.4M460.7 199.6h1.4M461.2 171.0h1.4M461.2 181.4h1.4M461.6 180.0h1.4M461.6 189.9h1.4M462.0 181.5h1.4M462.0 191.9h1.4M462.5 176.5h1.4M462.5 190.3h1.4M462.9 158.5h1.4M462.9 159.7h1.4M463.3 162.3h1.4M463.3 174.4h1.4M463.7 160.5h1.4M463.7 161.7h1.4M464.2 191.8h1.4M464.2 198.3h1.4M464.6 168.8h1.4M464.6 178.6h1.4M465.0 193.7h1.4M465.0 199.3h1.4M465.5 187.6h1.4M465.5 196.3h1.4M465.9 182.3h1.4M465.9 193.1h1.4M466.3 193.1h1.4M466.3 201.0h1.4M466.8 183.3h1.4M466.8 194.7h1.4M467.2 186.0h1.4M467.2 198.9h1.4M467.6 188.9h1.4M467.6 196.3h1.4M468.0 192.9h1.4M468.0 199.4h1.4M468.5 192.2h1.4M468.5 201.5h1.4M468.9 179.2h1.4M468.9 185.0h1.4M469.3 193.6h1.4M469.3 199.9h1.4M469.8 193.0h1.4M469.8 202.6h1.4M470.2 199.2h1.4M470.2 204.4h1.4M470.6 207.8h1.4M470.6 209.0h1.4M471.1 198.4h1.4M471.1 203.5h1.4M471.5 184.0h1.4M471.5 195.8h1.4M471.9 184.2h1.4M471.9 194.9h1.4M472.4 180.2h1.4M472.4 189.6h1.4M472.8 176.6h1.4M472.8 186.1h1.4M473.2 187.1h1.4M473.2 194.7h1.4M473.6 211.8h1.4M473.6 213.0h1.4M474.1 194.5h1.4M474.1 199.7h1.4M474.5 181.2h1.4M474.5 187.2h1.4M474.9 188.8h1.4M474.9 198.6h1.4M475.4 182.9h1.4M475.4 191.9h1.4M475.8 170.7h1.4M475.8 180.4h1.4M476.2 186.6h1.4M476.2 196.5h1.4M476.7 181.3h1.4M476.7 192.8h1.4M477.1 182.8h1.4M477.1 187.7h1.4M477.5 178.9h1.4M477.5 187.3h1.4M478.0 182.0h1.4M478.0 187.3h1.4M478.4 181.3h1.4M478.4 186.7h1.4M478.8 187.0h1.4M478.8 192.1h1.4M479.2 186.5h1.4M479.2 191.1h1.4M479.7 174.6h1.4M479.7 179.6h1.4M480.1 155.7h1.4M480.1 156.9h1.4M480.5 182.7h1.4M480.5 189.0h1.4M481.0 182.1h1.4M481.0 186.9h1.4M481.4 177.2h1.4M481.4 187.8h1.4M482.3 165.8h1.4M482.3 174.1h1.4M482.7 172.9h1.4M482.7 184.5h1.4M483.1 179.6h1.4M483.1 185.0h1.4M483.6 186.6h1.4M483.6 191.8h1.4M484.0 183.1h1.4M484.0 189.0h1.4M484.4 187.5h1.4M484.4 192.8h1.4M484.8 180.9h1.4M484.8 188.2h1.4M485.3 174.1h1.4M485.3 182.3h1.4M485.7 173.6h1.4M485.7 182.0h1.4M486.1 166.1h1.4M486.1 174.0h1.4M486.6 180.9h1.4M486.6 188.2h1.4M487.0 183.5h1.4M487.0 190.5h1.4M487.4 183.3h1.4M487.4 192.3h1.4M487.9 173.3h1.4M487.9 181.4h1.4M488.3 172.7h1.4M488.3 178.9h1.4M488.7 178.2h1.4M488.7 184.7h1.4M489.2 177.3h1.4M489.2 187.0h1.4M489.6 173.8h1.4M489.6 181.2h1.4M490.0 170.5h1.4M490.0 176.6h1.4M490.4 171.8h1.4M490.4 182.7h1.4M490.9 169.7h1.4M490.9 175.9h1.4M491.3 158.6h1.4M491.3 159.8h1.4M491.7 174.2h1.4M491.7 180.2h1.4M492.2 172.1h1.4M492.2 176.2h1.4M492.6 176.0h1.4M492.6 181.9h1.4M493.0 179.8h1.4M493.0 184.4h1.4M493.5 179.2h1.4M493.5 182.3h1.4M493.9 177.2h1.4M493.9 180.3h1.4M494.3 184.1h1.4M494.3 188.2h1.4M494.8 187.6h1.4M494.8 194.9h1.4M495.2 192.5h1.4M495.2 197.8h1.4M495.6 185.9h1.4M495.6 193.5h1.4M496.0 186.6h1.4M496.0 192.5h1.4M496.5 185.3h1.4M496.5 191.1h1.4M496.9 179.9h1.4M496.9 184.9h1.4M497.3 180.4h1.4M497.3 185.6h1.4M497.8 198.7h1.4M497.8 205.6h1.4M498.2 183.1h1.4M498.2 194.4h1.4M498.6 193.9h1.4M498.6 201.9h1.4M499.1 195.8h1.4M499.1 204.1h1.4M499.5 200.9h1.4M499.5 212.7h1.4M499.9 201.1h1.4M499.9 212.1h1.4M500.3 197.2h1.4M500.3 208.0h1.4M500.8 200.3h1.4M500.8 212.8h1.4M501.2 191.0h1.4M501.2 196.7h1.4M501.6 185.5h1.4M501.6 198.7h1.4M502.1 192.4h1.4M502.1 202.1h1.4M502.5 191.7h1.4M502.5 204.7h1.4M502.9 182.3h1.4M502.9 183.5h1.4M503.4 204.6h1.4M503.4 214.0h1.4M503.8 204.2h1.4M503.8 213.0h1.4M504.7 200.6h1.4M504.7 212.4h1.4M505.1 194.1h1.4M505.1 205.5h1.4M505.5 197.6h1.4M505.5 203.8h1.4M505.9 199.6h1.4M505.9 204.6h1.4M506.4 188.0h1.4M506.4 195.2h1.4M506.8 190.4h1.4M506.8 197.6h1.4M507.2 198.0h1.4M507.2 202.8h1.4M507.7 198.5h1.4M507.7 207.9h1.4M508.5 188.7h1.4M508.5 198.0h1.4M509.0 189.1h1.4M509.0 195.9h1.4M509.8 182.0h1.4M509.8 183.2h1.4M510.3 187.8h1.4M510.3 191.7h1.4M510.7 189.3h1.4M510.7 192.7h1.4M511.1 188.2h1.4M511.1 193.2h1.4M511.5 184.4h1.4M511.5 187.3h1.4M512.0 191.0h1.4M512.0 196.4h1.4M512.4 187.5h1.4M512.4 190.5h1.4M512.8 185.1h1.4M512.8 191.9h1.4M513.3 221.4h1.4M513.3 222.6h1.4M513.7 221.8h1.4M513.7 223.0h1.4M514.1 183.6h1.4M514.1 188.0h1.4M514.6 186.9h1.4M514.6 194.5h1.4M515.0 191.8h1.4M515.0 195.4h1.4M515.4 185.8h1.4M515.4 189.9h1.4M515.9 191.5h1.4M515.9 199.1h1.4M516.3 189.5h1.4M516.3 193.8h1.4M516.7 177.0h1.4M516.7 178.2h1.4M517.1 185.8h1.4M517.1 191.6h1.4M517.6 187.8h1.4M517.6 194.7h1.4M518.0 196.8h1.4M518.0 202.7h1.4M518.4 197.6h1.4M518.4 203.5h1.4M518.9 194.3h1.4M518.9 198.2h1.4M519.3 198.0h1.4M519.3 205.0h1.4M519.7 195.5h1.4M519.7 201.4h1.4M520.2 243.4h1.4M520.2 244.6h1.4M520.6 193.0h1.4M520.6 198.5h1.4M521.0 190.2h1.4M521.0 196.4h1.4M521.5 198.1h1.4M521.5 201.9h1.4M521.9 192.4h1.4M521.9 197.6h1.4M522.3 190.7h1.4M522.3 194.7h1.4M522.7 192.4h1.4M522.7 195.6h1.4M523.2 191.4h1.4M523.2 197.8h1.4M523.6 194.0h1.4M523.6 200.5h1.4M524.0 193.2h1.4M524.0 197.2h1.4M524.5 201.9h1.4M524.5 207.8h1.4M524.9 192.7h1.4M524.9 199.6h1.4M525.3 195.0h1.4M525.3 199.3h1.4M525.8 193.7h1.4M525.8 198.5h1.4M526.2 189.3h1.4M526.2 197.6h1.4M526.6 194.6h1.4M526.6 200.6h1.4M527.1 193.0h1.4M527.1 199.7h1.4M527.5 193.5h1.4M527.5 201.6h1.4M527.9 198.2h1.4M527.9 205.1h1.4M528.3 197.1h1.4M528.3 204.6h1.4M528.8 193.4h1.4M528.8 199.5h1.4M529.2 201.7h1.4M529.2 211.2h1.4M530.1 208.3h1.4M530.1 217.3h1.4M530.5 204.6h1.4M530.5 211.2h1.4M530.9 198.2h1.4M530.9 203.6h1.4M531.4 202.8h1.4M531.4 211.9h1.4M531.8 203.1h1.4M531.8 212.3h1.4M532.2 209.9h1.4M532.2 214.2h1.4M532.6 211.5h1.4M532.6 218.6h1.4M533.1 210.3h1.4M533.1 217.9h1.4M533.5 214.6h1.4M533.5 220.6h1.4M533.9 214.9h1.4M533.9 221.3h1.4M534.4 210.6h1.4M534.4 217.4h1.4" stroke="#ffa500" stroke-width="0.7" fill="none"/></g>
<rect x="35.2" y="24.5" width="235.40" height="96.10" fill="none" stroke="#b0b0b0" stroke-width="1.5"/>
<line x1="36.85" y1="120.6" x2="36.85" y2="122.20" stroke="#444" stroke-width="0.8"/>
<text x="0" y="0" transform="translate(36.85,129.70) scale(0.895,1)" text-anchor="middle" class="tk">2018.5</text>
<line x1="67.10" y1="120.6" x2="67.10" y2="122.20" stroke="#444" stroke-width="0.8"/>
<text x="0" y="0" transform="translate(67.10,129.70) scale(0.895,1)" text-anchor="middle" class="tk">2019.0</text>
<line x1="97.35" y1="120.6" x2="97.35" y2="122.20" stroke="#444" stroke-width="0.8"/>
<text x="0" y="0" transform="translate(97.35,129.70) scale(0.895,1)" text-anchor="middle" class="tk">2019.5</text>
<line x1="127.60" y1="120.6" x2="127.60" y2="122.20" stroke="#444" stroke-width="0.8"/>
<text x="0" y="0" transform="translate(127.60,129.70) scale(0.895,1)" text-anchor="middle" class="tk">2020.0</text>
<line x1="157.85" y1="120.6" x2="157.85" y2="122.20" stroke="#444" stroke-width="0.8"/>
<text x="0" y="0" transform="translate(157.85,129.70) scale(0.895,1)" text-anchor="middle" class="tk">2020.5</text>
<line x1="188.10" y1="120.6" x2="188.10" y2="122.20" stroke="#444" stroke-width="0.8"/>
<text x="0" y="0" transform="translate(188.10,129.70) scale(0.895,1)" text-anchor="middle" class="tk">2021.0</text>
<line x1="218.35" y1="120.6" x2="218.35" y2="122.20" stroke="#444" stroke-width="0.8"/>
<text x="0" y="0" transform="translate(218.35,129.70) scale(0.895,1)" text-anchor="middle" class="tk">2021.5</text>
<line x1="248.60" y1="120.6" x2="248.60" y2="122.20" stroke="#444" stroke-width="0.8"/>
<text x="0" y="0" transform="translate(248.60,129.70) scale(0.895,1)" text-anchor="middle" class="tk">2022.0</text>
<line x1="33.60" y1="50.50" x2="35.2" y2="50.50" stroke="#444" stroke-width="0.8"/>
<text x="0" y="0" transform="translate(32.00,52.90) scale(0.895,1)" text-anchor="end" class="tk">0.005</text>
<line x1="33.60" y1="79.50" x2="35.2" y2="79.50" stroke="#444" stroke-width="0.8"/>
<text x="0" y="0" transform="translate(32.00,81.90) scale(0.895,1)" text-anchor="end" class="tk">0.000</text>
<line x1="33.60" y1="108.50" x2="35.2" y2="108.50" stroke="#444" stroke-width="0.8"/>
<text x="0" y="0" transform="translate(32.00,110.90) scale(0.895,1)" text-anchor="end" class="tk">−0.005</text>
<text x="0" y="0" transform="translate(152.90,22.20) scale(0.91,1)" text-anchor="middle" class="st">East: Position</text>
<text x="0" y="0" transform="translate(152.40,138.50) scale(0.905,1)" text-anchor="middle" class="xl">Epoch (years)</text>
<text x="0" y="0" transform="translate(8.30,72.55) rotate(-90) scale(0.93,1)" text-anchor="middle" class="xl">Value (m)</text>
<rect x="232.0" y="27.10" width="36.7" height="18.6" rx="1" fill="#fff" fill-opacity="0.8" stroke="#e4e4e4" stroke-width="0.6"/>
<line x1="233.6" y1="31.50" x2="245.5" y2="31.50" stroke="#1f77b4" stroke-width="0.75"/>
<circle cx="239.5" cy="31.50" r="1.05" fill="#1f77b4"/>
<line x1="233.6" y1="39.80" x2="245.5" y2="39.80" stroke="#ff7f0e" stroke-width="0.95" stroke-dasharray="2.2 1.3"/>
<text x="0" y="0" transform="translate(249.6,33.70) scale(0.93,1)" class="lg">Data</text>
<text x="0" y="0" transform="translate(249.6,42.00) scale(0.93,1)" class="lg">Model</text>
<rect x="310.2" y="24.5" width="235.80" height="96.10" fill="none" stroke="#b0b0b0" stroke-width="1.5"/>
<line x1="312.05" y1="120.6" x2="312.05" y2="122.20" stroke="#444" stroke-width="0.8"/>
<text x="0" y="0" transform="translate(312.05,129.70) scale(0.895,1)" text-anchor="middle" class="tk">2018.5</text>
<line x1="342.30" y1="120.6" x2="342.30" y2="122.20" stroke="#444" stroke-width="0.8"/>
<text x="0" y="0" transform="translate(342.30,129.70) scale(0.895,1)" text-anchor="middle" class="tk">2019.0</text>
<line x1="372.55" y1="120.6" x2="372.55" y2="122.20" stroke="#444" stroke-width="0.8"/>
<text x="0" y="0" transform="translate(372.55,129.70) scale(0.895,1)" text-anchor="middle" class="tk">2019.5</text>
<line x1="402.80" y1="120.6" x2="402.80" y2="122.20" stroke="#444" stroke-width="0.8"/>
<text x="0" y="0" transform="translate(402.80,129.70) scale(0.895,1)" text-anchor="middle" class="tk">2020.0</text>
<line x1="433.05" y1="120.6" x2="433.05" y2="122.20" stroke="#444" stroke-width="0.8"/>
<text x="0" y="0" transform="translate(433.05,129.70) scale(0.895,1)" text-anchor="middle" class="tk">2020.5</text>
<line x1="463.30" y1="120.6" x2="463.30" y2="122.20" stroke="#444" stroke-width="0.8"/>
<text x="0" y="0" transform="translate(463.30,129.70) scale(0.895,1)" text-anchor="middle" class="tk">2021.0</text>
<line x1="493.55" y1="120.6" x2="493.55" y2="122.20" stroke="#444" stroke-width="0.8"/>
<text x="0" y="0" transform="translate(493.55,129.70) scale(0.895,1)" text-anchor="middle" class="tk">2021.5</text>
<line x1="523.80" y1="120.6" x2="523.80" y2="122.20" stroke="#444" stroke-width="0.8"/>
<text x="0" y="0" transform="translate(523.80,129.70) scale(0.895,1)" text-anchor="middle" class="tk">2022.0</text>
<line x1="308.60" y1="40.46" x2="310.2" y2="40.46" stroke="#444" stroke-width="0.8"/>
<text x="0" y="0" transform="translate(307.00,42.86) scale(0.895,1)" text-anchor="end" class="tk">0.004</text>
<line x1="308.60" y1="60.09" x2="310.2" y2="60.09" stroke="#444" stroke-width="0.8"/>
<text x="0" y="0" transform="translate(307.00,62.49) scale(0.895,1)" text-anchor="end" class="tk">0.002</text>
<line x1="308.60" y1="79.72" x2="310.2" y2="79.72" stroke="#444" stroke-width="0.8"/>
<text x="0" y="0" transform="translate(307.00,82.12) scale(0.895,1)" text-anchor="end" class="tk">0.000</text>
<line x1="308.60" y1="99.35" x2="310.2" y2="99.35" stroke="#444" stroke-width="0.8"/>
<text x="0" y="0" transform="translate(307.00,101.75) scale(0.895,1)" text-anchor="end" class="tk">−0.002</text>
<line x1="308.60" y1="118.98" x2="310.2" y2="118.98" stroke="#444" stroke-width="0.8"/>
<text x="0" y="0" transform="translate(307.00,121.38) scale(0.895,1)" text-anchor="end" class="tk">−0.004</text>
<text x="0" y="0" transform="translate(428.10,22.20) scale(0.91,1)" text-anchor="middle" class="st">East: Residuals</text>
<text x="0" y="0" transform="translate(427.60,138.50) scale(0.905,1)" text-anchor="middle" class="xl">Epoch (years)</text>
<text x="0" y="0" transform="translate(283.30,72.55) rotate(-90) scale(0.93,1)" text-anchor="middle" class="xl">Residuals (m)</text>
<rect x="499.1" y="27.10" width="44.6" height="10.1" rx="1" fill="#fff" fill-opacity="0.8" stroke="#e4e4e4" stroke-width="0.6"/>
<line x1="500.3" y1="31.50" x2="512.2" y2="31.50" stroke="#ffa500" stroke-width="0.75"/>
<circle cx="506.20000000000005" cy="31.50" r="1.05" fill="#ffa500"/>
<text x="0" y="0" transform="translate(517.0,33.70) scale(0.93,1)" class="lg">Residuals</text>
<rect x="35.2" y="152.3" width="235.40" height="96.20" fill="none" stroke="#b0b0b0" stroke-width="1.5"/>
<line x1="36.85" y1="248.5" x2="36.85" y2="250.10" stroke="#444" stroke-width="0.8"/>
<text x="0" y="0" transform="translate(36.85,257.60) scale(0.895,1)" text-anchor="middle" class="tk">2018.5</text>
<line x1="67.10" y1="248.5" x2="67.10" y2="250.10" stroke="#444" stroke-width="0.8"/>
<text x="0" y="0" transform="translate(67.10,257.60) scale(0.895,1)" text-anchor="middle" class="tk">2019.0</text>
<line x1="97.35" y1="248.5" x2="97.35" y2="250.10" stroke="#444" stroke-width="0.8"/>
<text x="0" y="0" transform="translate(97.35,257.60) scale(0.895,1)" text-anchor="middle" class="tk">2019.5</text>
<line x1="127.60" y1="248.5" x2="127.60" y2="250.10" stroke="#444" stroke-width="0.8"/>
<text x="0" y="0" transform="translate(127.60,257.60) scale(0.895,1)" text-anchor="middle" class="tk">2020.0</text>
<line x1="157.85" y1="248.5" x2="157.85" y2="250.10" stroke="#444" stroke-width="0.8"/>
<text x="0" y="0" transform="translate(157.85,257.60) scale(0.895,1)" text-anchor="middle" class="tk">2020.5</text>
<line x1="188.10" y1="248.5" x2="188.10" y2="250.10" stroke="#444" stroke-width="0.8"/>
<text x="0" y="0" transform="translate(188.10,257.60) scale(0.895,1)" text-anchor="middle" class="tk">2021.0</text>
<line x1="218.35" y1="248.5" x2="218.35" y2="250.10" stroke="#444" stroke-width="0.8"/>
<text x="0" y="0" transform="translate(218.35,257.60) scale(0.895,1)" text-anchor="middle" class="tk">2021.5</text>
<line x1="248.60" y1="248.5" x2="248.60" y2="250.10" stroke="#444" stroke-width="0.8"/>
<text x="0" y="0" transform="translate(248.60,257.60) scale(0.895,1)" text-anchor="middle" class="tk">2022.0</text>
<line x1="33.60" y1="169.55" x2="35.2" y2="169.55" stroke="#444" stroke-width="0.8"/>
<text x="0" y="0" transform="translate(32.00,171.95) scale(0.895,1)" text-anchor="end" class="tk">0.005</text>
<line x1="33.60" y1="197.90" x2="35.2" y2="197.90" stroke="#444" stroke-width="0.8"/>
<text x="0" y="0" transform="translate(32.00,200.30) scale(0.895,1)" text-anchor="end" class="tk">0.000</text>
<line x1="33.60" y1="226.25" x2="35.2" y2="226.25" stroke="#444" stroke-width="0.8"/>
<text x="0" y="0" transform="translate(32.00,228.65) scale(0.895,1)" text-anchor="end" class="tk">−0.005</text>
<text x="0" y="0" transform="translate(152.90,150.00) scale(0.91,1)" text-anchor="middle" class="st">North: Position</text>
<text x="0" y="0" transform="translate(152.40,266.40) scale(0.905,1)" text-anchor="middle" class="xl">Epoch (years)</text>
<text x="0" y="0" transform="translate(8.30,200.40) rotate(-90) scale(0.93,1)" text-anchor="middle" class="xl">Value (m)</text>
<rect x="232.0" y="154.90" width="36.7" height="18.6" rx="1" fill="#fff" fill-opacity="0.8" stroke="#e4e4e4" stroke-width="0.6"/>
<line x1="233.6" y1="159.30" x2="245.5" y2="159.30" stroke="#1f77b4" stroke-width="0.75"/>
<circle cx="239.5" cy="159.30" r="1.05" fill="#1f77b4"/>
<line x1="233.6" y1="167.60" x2="245.5" y2="167.60" stroke="#ff7f0e" stroke-width="0.95" stroke-dasharray="2.2 1.3"/>
<text x="0" y="0" transform="translate(249.6,161.50) scale(0.93,1)" class="lg">Data</text>
<text x="0" y="0" transform="translate(249.6,169.80) scale(0.93,1)" class="lg">Model</text>
<rect x="310.2" y="152.3" width="235.80" height="96.20" fill="none" stroke="#b0b0b0" stroke-width="1.5"/>
<line x1="312.05" y1="248.5" x2="312.05" y2="250.10" stroke="#444" stroke-width="0.8"/>
<text x="0" y="0" transform="translate(312.05,257.60) scale(0.895,1)" text-anchor="middle" class="tk">2018.5</text>
<line x1="342.30" y1="248.5" x2="342.30" y2="250.10" stroke="#444" stroke-width="0.8"/>
<text x="0" y="0" transform="translate(342.30,257.60) scale(0.895,1)" text-anchor="middle" class="tk">2019.0</text>
<line x1="372.55" y1="248.5" x2="372.55" y2="250.10" stroke="#444" stroke-width="0.8"/>
<text x="0" y="0" transform="translate(372.55,257.60) scale(0.895,1)" text-anchor="middle" class="tk">2019.5</text>
<line x1="402.80" y1="248.5" x2="402.80" y2="250.10" stroke="#444" stroke-width="0.8"/>
<text x="0" y="0" transform="translate(402.80,257.60) scale(0.895,1)" text-anchor="middle" class="tk">2020.0</text>
<line x1="433.05" y1="248.5" x2="433.05" y2="250.10" stroke="#444" stroke-width="0.8"/>
<text x="0" y="0" transform="translate(433.05,257.60) scale(0.895,1)" text-anchor="middle" class="tk">2020.5</text>
<line x1="463.30" y1="248.5" x2="463.30" y2="250.10" stroke="#444" stroke-width="0.8"/>
<text x="0" y="0" transform="translate(463.30,257.60) scale(0.895,1)" text-anchor="middle" class="tk">2021.0</text>
<line x1="493.55" y1="248.5" x2="493.55" y2="250.10" stroke="#444" stroke-width="0.8"/>
<text x="0" y="0" transform="translate(493.55,257.60) scale(0.895,1)" text-anchor="middle" class="tk">2021.5</text>
<line x1="523.80" y1="248.5" x2="523.80" y2="250.10" stroke="#444" stroke-width="0.8"/>
<text x="0" y="0" transform="translate(523.80,257.60) scale(0.895,1)" text-anchor="middle" class="tk">2022.0</text>
<line x1="308.60" y1="158.50" x2="310.2" y2="158.50" stroke="#444" stroke-width="0.8"/>
<text x="0" y="0" transform="translate(307.00,160.90) scale(0.895,1)" text-anchor="end" class="tk">0.0050</text>
<line x1="308.60" y1="176.50" x2="310.2" y2="176.50" stroke="#444" stroke-width="0.8"/>
<text x="0" y="0" transform="translate(307.00,178.90) scale(0.895,1)" text-anchor="end" class="tk">0.0025</text>
<line x1="308.60" y1="194.50" x2="310.2" y2="194.50" stroke="#444" stroke-width="0.8"/>
<text x="0" y="0" transform="translate(307.00,196.90) scale(0.895,1)" text-anchor="end" class="tk">0.0000</text>
<line x1="308.60" y1="212.50" x2="310.2" y2="212.50" stroke="#444" stroke-width="0.8"/>
<text x="0" y="0" transform="translate(307.00,214.90) scale(0.895,1)" text-anchor="end" class="tk">−0.0025</text>
<line x1="308.60" y1="230.50" x2="310.2" y2="230.50" stroke="#444" stroke-width="0.8"/>
<text x="0" y="0" transform="translate(307.00,232.90) scale(0.895,1)" text-anchor="end" class="tk">−0.0050</text>
<line x1="308.60" y1="248.50" x2="310.2" y2="248.50" stroke="#444" stroke-width="0.8"/>
<text x="0" y="0" transform="translate(307.00,250.90) scale(0.895,1)" text-anchor="end" class="tk">−0.0075</text>
<text x="0" y="0" transform="translate(428.10,150.00) scale(0.91,1)" text-anchor="middle" class="st">North: Residuals</text>
<text x="0" y="0" transform="translate(427.60,266.40) scale(0.905,1)" text-anchor="middle" class="xl">Epoch (years)</text>
<text x="0" y="0" transform="translate(283.30,200.40) rotate(-90) scale(0.93,1)" text-anchor="middle" class="xl">Residuals (m)</text>
<rect x="499.1" y="154.90" width="44.6" height="10.1" rx="1" fill="#fff" fill-opacity="0.8" stroke="#e4e4e4" stroke-width="0.6"/>
<line x1="500.3" y1="159.30" x2="512.2" y2="159.30" stroke="#ffa500" stroke-width="0.75"/>
<circle cx="506.20000000000005" cy="159.30" r="1.05" fill="#ffa500"/>
<text x="0" y="0" transform="translate(517.0,161.50) scale(0.93,1)" class="lg">Residuals</text>
</svg>
</body></html>
